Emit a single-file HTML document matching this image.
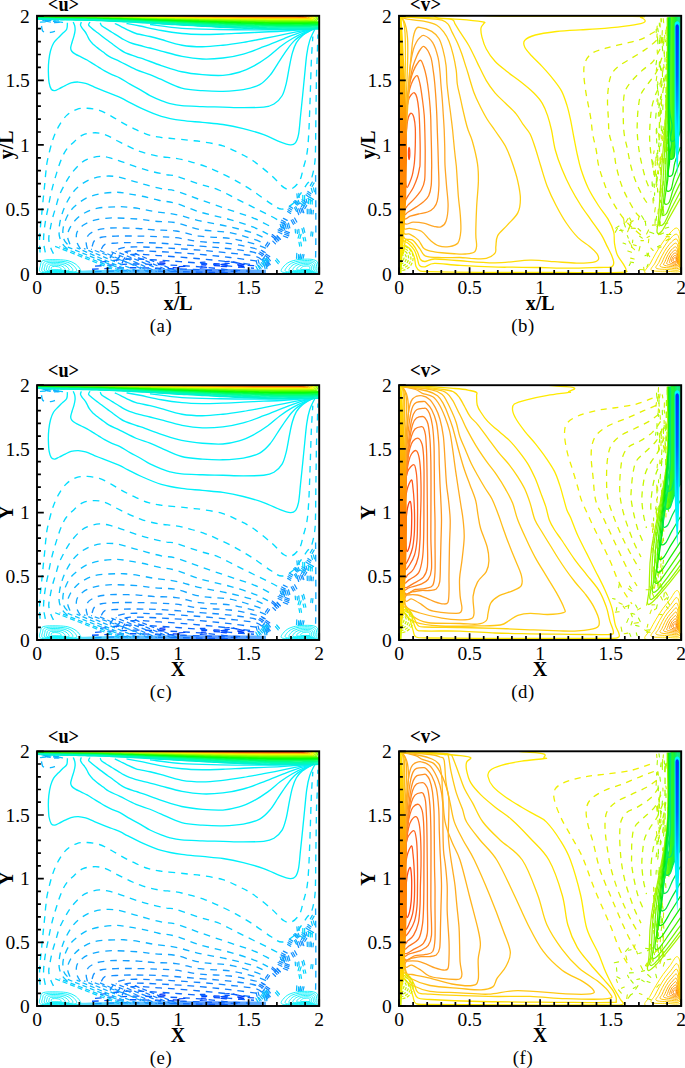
<!DOCTYPE html><html><head><meta charset="utf-8"><style>html,body{margin:0;padding:0;background:#fff;width:685px;height:1068px;overflow:hidden}svg{display:block}.tk{font-family:"Liberation Serif",serif;font-size:19.5px}.al{font-family:"Liberation Serif",serif;font-size:20px;font-weight:bold}.ti{font-family:"Liberation Serif",serif;font-size:20px;font-weight:bold}.cp{font-family:"Liberation Serif",serif;font-size:18.8px;letter-spacing:0.6px}</style></head><body>
<svg width="685" height="1068" viewBox="0 0 685 1068">
<rect width="685" height="1068" fill="#fff"/>
<defs><clipPath id="c0"><rect x="37" y="15.8" width="282.2" height="258.2"/></clipPath><clipPath id="c1"><rect x="399" y="15.8" width="282.2" height="258.2"/></clipPath><clipPath id="c2"><rect x="37" y="385.2" width="282.2" height="254.8"/></clipPath><clipPath id="c3"><rect x="399" y="385.2" width="282.2" height="254.8"/></clipPath><clipPath id="c4"><rect x="37" y="751.3" width="282.2" height="254.7"/></clipPath><clipPath id="c5"><rect x="399" y="751.3" width="282.2" height="254.7"/></clipPath><g id="U"><g fill="none" stroke-width="1.35" stroke-dasharray="6.7 5.9"><path d="M40.1 252.3C40 250.6 39.5 245.5 39.5 241.8C39.5 238.1 39.8 234 40.1 230.1C40.4 226.2 40.9 222.3 41.3 218.4C41.7 214.5 42 210.6 42.4 206.7C42.8 202.8 43.2 198.9 43.6 195C44 191.1 44.4 187.3 44.8 183.4C45.2 179.5 45.4 175.6 45.9 171.7C46.4 167.8 46.4 165.1 47.5 160C48.6 154.9 50.6 146.5 52.4 140.9C54.2 135.3 56.1 130.9 58.5 126.6C60.9 122.3 63.6 118.2 66.7 115.3C69.8 112.4 73.5 110.4 76.9 109.2C80.3 108 83.3 108 87.1 108.2C90.8 108.4 95.3 108.9 99.4 110.2C103.5 111.5 107.5 114.1 111.6 116.3C115.7 118.5 119.8 121.3 123.9 123.5C128 125.7 132 127.7 136.1 129.6C140.2 131.5 144.3 133.4 148.4 134.7C152.5 136 156.1 136.5 160.7 137.2C165.3 137.9 171.1 138.3 176 138.8C180.9 139.3 185.6 139.8 190 140.3C194.4 140.8 196.9 140.8 202.4 141.7C207.9 142.6 216.8 143.9 222.9 145.8C229 147.7 234.1 150.5 239.2 153C244.3 155.5 248.1 157.2 253.4 160.9C258.7 164.6 266.1 170.8 271.2 175.2C276.3 179.6 280.5 185.3 284 187.5C287.5 189.7 289.4 189.7 292 188.5C294.6 187.3 297.8 183.9 299.7 180.5C301.6 177.1 302.1 172.5 303.3 168.1C304.5 163.7 306 159.2 306.9 153.8C307.8 148.5 308.2 142.3 308.6 136C309 129.7 309.2 123.7 309.5 116C309.8 108.3 310.1 99.3 310.4 90C310.7 80.7 311 68.9 311.4 60C311.8 51.1 312.6 40.4 312.8 36.5" stroke="#02ddff"/><path d="M45.3 252.3C45 250.6 43.8 245.5 43.6 241.8C43.4 238.1 43.8 234 44.2 230.1C44.6 226.2 45.2 222.3 45.9 218.4C46.6 214.5 47.5 210.6 48.3 206.7C49.1 202.8 49.7 198.9 50.6 195C51.5 191.1 52.4 187.3 53.5 183.4C54.6 179.5 55.8 175.6 57 171.7C58.2 167.8 59.5 163.6 61 160C62.5 156.4 64 152.8 66 150C68 147.2 70 145.5 72.8 142.9C75.6 140.3 79.2 136.4 83 134.7C86.8 133 91.5 132.7 95.3 132.7C99 132.7 101.8 133.3 105.5 134.7C109.2 136.1 113.6 138.8 117.7 140.9C121.8 143 125.9 145.1 130 147C134.1 148.9 137.5 150.6 142.3 152.1C147.1 153.6 153 155.2 158.6 156.2C164.2 157.2 170.8 157.3 176 158.2C181.2 159.1 185.1 160.2 190 161.5C194.9 162.8 200.7 164.6 205.3 166.3C209.9 168 212.8 169.2 217.8 171.6C222.9 174 229.7 177.2 235.6 180.5C241.5 183.8 247.5 187.3 253.4 191.2C259.3 195.1 266.4 200.7 271.2 203.7C275.9 206.7 278.3 209 281.9 209C285.5 209 289.6 206.1 292.6 203.7C295.6 201.3 297.3 198.1 299.7 194.8C302.1 191.5 305 186.8 306.9 184.1C308.8 181.4 310 181.9 311.3 178.7C312.6 175.5 313.8 169.8 314.5 165C315.2 160.2 315.3 158.2 315.5 150C315.7 141.8 315.7 128.5 315.9 116C316.1 103.5 316.3 85.2 316.5 75C316.7 64.8 317.1 61.8 317.3 55C317.5 48.2 317.8 37.8 317.9 34.4" stroke="#04d7ff"/><path d="M53.5 253.4C53.1 252.6 52 251.1 51.2 248.8C50.4 246.5 49 242.5 48.8 239.4C48.6 236.3 49.4 233.6 50 230.1C50.6 226.6 51.4 222.3 52.4 218.4C53.4 214.5 54.7 210.6 55.9 206.7C57.1 202.8 57.8 198.9 59.4 195C61 191.1 63.3 186.9 65.2 183.4C67.1 179.9 68.7 177.1 71 174C73.3 170.9 76.5 167.1 79.2 164.7C81.9 162.2 83.7 160.7 87.1 159.3C90.5 157.9 95.3 156.4 99.4 156.2C103.5 156 107.5 157.2 111.6 158.2C115.7 159.2 119.5 160.8 123.9 162.3C128.3 163.8 133.4 165.9 138.2 167.4C143 168.9 147.7 170.3 152.5 171.5C157.3 172.7 162.9 173.8 166.8 174.6C170.7 175.3 170.5 174.4 176 176C181.5 177.6 193 181.9 200 184.1C207 186.3 211.9 187 217.8 189.4C223.7 191.8 229.7 195.3 235.6 198.3C241.5 201.3 247.5 204.2 253.4 207.2C259.3 210.2 266.8 213.8 271.2 216.1C275.6 218.4 278.5 220.2 280 221" stroke="#06cfff"/><path d="M67.5 248.8C66.7 248 64.2 246.2 62.9 244.1C61.5 241.9 60 239 59.4 235.9C58.8 232.8 59 228.9 59.4 225.4C59.8 221.9 60.7 218.2 61.7 214.9C62.7 211.6 63.7 208.8 65.2 205.5C66.8 202.2 68.9 198.1 71 195C73.1 191.9 75.1 189.4 78 186.9C80.9 184.4 84.7 181.7 88.6 179.9C92.5 178.2 96.8 177 101.4 176.4C106 175.8 110.9 175.7 116 176.4C121.1 177.1 127 179.3 132.1 180.7C137.2 182.1 141.3 183.4 146.4 184.8C151.5 186.2 157.8 187.9 162.7 188.9C167.6 189.9 169.8 189.1 176 190.9C182.2 192.7 191 196.3 200 199.5C209 202.7 221.1 206.8 230 209.9C238.9 213 246.7 215.2 253.4 217.9C260.1 220.6 267.2 224.7 270 226" stroke="#08c6ff"/><path d="M67.5 244.1C66.9 243.3 64.8 241.7 64 239.4C63.2 237.1 62.7 233.2 62.9 230.1C63.1 227 64 223.8 65.2 220.7C66.4 217.6 68 214.1 69.9 211.4C71.9 208.7 74.2 206.6 76.9 204.4C79.6 202.2 82.5 199.8 86.2 198C89.9 196.2 94.1 194.9 99.1 193.9C104.1 192.9 111.2 192.2 116 192.1C120.8 192 123.6 192.9 128 193.6C132.4 194.3 137.2 195 142.3 196.1C147.4 197.2 153 198.9 158.6 200.1C164.2 201.3 169.1 201.2 176 203.2C182.9 205.2 191 209.2 200 211.9C209 214.6 221.1 216.9 230 219.4C238.9 221.9 247.1 224.6 253.4 227C259.7 229.4 265.6 232.8 268 234" stroke="#0abeff"/><path d="M69.9 244.1C69.5 242.7 67.5 238.6 67.5 235.9C67.5 233.2 68.5 230.4 69.9 227.7C71.3 225 73.2 222.1 75.7 219.6C78.2 217.1 81.3 214.5 85 212.6C88.7 210.7 92.7 208.9 97.9 207.9C103.1 206.9 111.7 206.9 116 206.7C120.3 206.5 120.2 206.4 123.9 206.7C127.6 207 133.1 207.5 138.2 208.3C143.3 209.1 148.2 210.4 154.5 211.4C160.8 212.4 168.4 212.9 176 214.4C183.6 215.9 191 218.6 200 220.7C209 222.8 221.1 224.6 230 226.7C238.9 228.8 247.2 230.9 253.4 233C259.6 235.1 264.7 238.2 267 239.3" stroke="#0db3ff"/><path d="M80.4 248.8C79.8 247.6 77.5 244.5 76.9 241.8C76.3 239.1 75.9 235.1 76.9 232.4C77.9 229.7 80.2 227.4 82.7 225.4C85.2 223.4 88.6 221.9 92.1 220.7C95.6 219.5 99.7 218.9 103.7 218.4C107.7 217.9 110.2 217.7 116 217.8C121.8 217.9 131.8 218.4 138.2 218.9C144.6 219.4 148.2 220.4 154.5 221C160.8 221.6 168.4 221.2 176 222.6C183.6 224 191 227.8 200 229.4C209 231.1 221.1 230.9 230 232.5C238.9 234.1 247.4 237.1 253.4 239C259.4 240.9 263.9 243.2 266 244" stroke="#10a7ff"/><path d="M87.4 248.8C87.2 247.6 86 244.2 86.2 241.8C86.4 239.5 86.8 236.6 88.6 234.7C90.3 232.8 93.8 231.2 96.7 230.1C99.6 229 102.9 228.7 106.1 228.3C109.3 227.9 110.7 227.7 116 227.7C121.3 227.7 131.8 228 138.2 228.3C144.6 228.7 148.2 229.4 154.5 229.8C160.8 230.2 168.4 229.8 176 230.8C183.6 231.8 191 234.8 200 236C209 237.2 221.1 237.1 230 238.3C238.9 239.6 247.4 241.9 253.4 243.5C259.4 245.1 263.9 247.2 266 248" stroke="#139cff"/><path d="M92.1 246.4C92.5 245.4 92.9 242.2 94.4 240.6C96 239 97.8 237.9 101.4 237.1C105 236.3 109.9 236.1 116 235.9C122.1 235.7 131.1 235.8 138.2 235.9C145.3 236 152.3 236.2 158.6 236.5C164.9 236.8 169.1 236.7 176 237.5C182.9 238.3 191 240.5 200 241.5C209 242.5 221.1 242.3 230 243.4C238.9 244.5 247.7 246.6 253.4 248C259.1 249.4 262.2 251.3 264 252" stroke="#1393ff"/><path d="M101.4 248.8C102 248 102.5 245.1 104.9 244.1C107.3 243.1 111.8 243.2 116 242.9C120.2 242.6 122.7 242.4 130 242.4C137.3 242.4 148.3 242.4 160 243C171.7 243.6 188.3 245.1 200 246C211.7 246.9 221.2 247.6 230 248.6C238.8 249.6 247.7 250.8 253 252C258.3 253.2 260.5 255.3 262 256" stroke="#128cff"/><path d="M110 258C111 256.7 112.7 251.9 116 250C119.3 248.1 122.7 247.2 130 246.8C137.3 246.4 148.3 247 160 247.5C171.7 248 188.3 249.1 200 250C211.7 250.9 220.8 251.9 230 252.9C239.2 253.9 249.7 254.8 255 256C260.3 257.2 260.8 259.3 262 260" stroke="#1085ff"/><path d="M116 261C117 259.8 119.7 255.7 122 254C124.3 252.3 123.7 251.1 130 250.7C136.3 250.3 148.3 250.9 160 251.5C171.7 252.1 188.3 253.2 200 254.2C211.7 255.2 220.3 256.2 230 257.3C239.7 258.4 253.3 260.4 258 261" stroke="#0e7dff"/><path d="M122 263C123.3 261.6 123.7 255.7 130 254.4C136.3 253.2 148.3 254.8 160 255.5C171.7 256.2 188.3 257.6 200 258.6C211.7 259.6 220.7 260.6 230 261.7C239.3 262.8 251.7 264.4 256 265" stroke="#0b73ff"/><path d="M100 262C105 261.5 120 259.1 130 258.8C140 258.5 148.3 259.3 160 260C171.7 260.7 188.3 262 200 263C211.7 264 221 265.2 230 266C239 266.8 250 267.7 254 268" stroke="#0969ff"/><path d="M95 266C100.8 265.6 119.2 264.1 130 263.9C140.8 263.6 148.3 264.1 160 264.5C171.7 264.9 188.3 265.7 200 266.6C211.7 267.5 221.7 269 230 269.7C238.3 270.4 246.7 270.8 250 271" stroke="#065fff"/><path d="M92 269C98.3 268.8 117 267.6 130 267.5C143 267.4 156.7 268.1 170 268.5C183.3 268.9 198.3 269.5 210 270C221.7 270.5 235 271.2 240 271.5" stroke="#0455ff"/><path d="M95 271.5C100.8 271.3 115.8 270.5 130 270.5C144.2 270.5 163.3 271.2 180 271.5C196.7 271.8 221.7 272.3 230 272.5" stroke="#014bff"/><path d="M315.6 175C315.6 180.8 315.8 199.2 315.8 210C315.8 220.8 315.9 231.3 315.8 240C315.8 248.7 315.6 258.3 315.5 262" stroke="#0eadff"/><path d="M41.5 26C41.7 26.8 41.8 29.7 42.6 30.8C43.4 31.9 44.9 32.1 46.2 32.4C47.5 32.7 49.1 32.6 50.6 32.4C52.1 32.2 54.3 31.5 55 31.3" stroke="#0bb8ff"/></g><g stroke-width="1.25" fill="none" stroke-linecap="round"><path d="M262.4 259.5l2.3 -3" stroke="#128dff"/><path d="M264.2 261.2l2.3 -3" stroke="#128dff"/><path d="M261.4 250.1l3.8 2.3" stroke="#0e7fff"/><path d="M259.8 251.9l3.8 2.3" stroke="#0e7fff"/><path d="M258.9 253.3l3.8 2.3" stroke="#0e7fff"/><path d="M265.5 245.6l2.4 -3.6" stroke="#118aff"/><path d="M267.1 246.7l2.4 -3.6" stroke="#118aff"/><path d="M266.2 254l3.5 2.4" stroke="#0f82ff"/><path d="M265.2 255.3l3.5 2.4" stroke="#0f82ff"/><path d="M272.3 234.4l3.8 3.1" stroke="#0e7eff"/><path d="M271.8 236l3.8 3.1" stroke="#0e7eff"/><path d="M277.1 235.6l3.4 3.6" stroke="#1088ff"/><path d="M275.3 236.9l3.4 3.6" stroke="#1088ff"/><path d="M277.2 236.3l2.7 2.7" stroke="#1188ff"/><path d="M275.8 237.6l2.7 2.7" stroke="#1188ff"/><path d="M274.3 239l2.7 2.7" stroke="#1188ff"/><path d="M272.8 241l2.7 2.7" stroke="#1188ff"/><path d="M285.2 230.8l4.2 1.6" stroke="#128eff"/><path d="M284.7 232.3l4.2 1.6" stroke="#128eff"/><path d="M284.6 234.1l4.2 1.6" stroke="#128eff"/><path d="M283.4 235.8l4.2 1.6" stroke="#128eff"/><path d="M280.6 226.5l3.7 1.8" stroke="#1393ff"/><path d="M279.4 228.4l3.7 1.8" stroke="#1393ff"/><path d="M278.1 229.7l3.7 1.8" stroke="#1393ff"/><path d="M278.1 231.8l3.7 1.8" stroke="#1393ff"/><path d="M283.8 222.1l1.8 4" stroke="#10a6ff"/><path d="M281.9 223.8l1.8 4" stroke="#10a6ff"/><path d="M280.2 224.3l1.8 4" stroke="#10a6ff"/><path d="M288.5 222.9l1.3 4.8" stroke="#129dff"/><path d="M286.9 223.6l1.3 4.8" stroke="#129dff"/><path d="M284.9 223.6l1.3 4.8" stroke="#129dff"/><path d="M283.3 224.8l1.3 4.8" stroke="#129dff"/><path d="M283.4 218.2l3.8 2" stroke="#1392ff"/><path d="M281.7 220.1l3.8 2" stroke="#1392ff"/><path d="M281 222l3.8 2" stroke="#1392ff"/><path d="M294.6 217.9l2.2 4" stroke="#1392ff"/><path d="M292.8 219.4l2.2 4" stroke="#1392ff"/><path d="M291.2 220.1l2.2 4" stroke="#1392ff"/><path d="M302.3 208.3l1.5 4.3" stroke="#1392ff"/><path d="M300.6 207.9l1.5 4.3" stroke="#1392ff"/><path d="M298.8 208.6l1.5 4.3" stroke="#1392ff"/><path d="M297.2 210.2l1.5 4.3" stroke="#1392ff"/><path d="M289.7 206.2l3 1.9" stroke="#11a2ff"/><path d="M288.8 207.9l3 1.9" stroke="#11a2ff"/><path d="M288 209.6l3 1.9" stroke="#11a2ff"/><path d="M287.6 211.4l3 1.9" stroke="#11a2ff"/><path d="M295.8 206.6l1.8 3.5" stroke="#0eafff"/><path d="M294.6 207.6l1.8 3.5" stroke="#0eafff"/><path d="M301.4 206.5l1.9 -3.2" stroke="#139aff"/><path d="M303.1 207.7l1.9 -3.2" stroke="#139aff"/><path d="M304.8 208.5l1.9 -3.2" stroke="#139aff"/><path d="M295.2 200.6l3.5 3.3" stroke="#0fa9ff"/><path d="M293.8 201.6l3.5 3.3" stroke="#0fa9ff"/><path d="M302 199.6l3.9 2.7" stroke="#0abfff"/><path d="M301.7 201.4l3.9 2.7" stroke="#0abfff"/><path d="M300.1 202.8l3.9 2.7" stroke="#0abfff"/><path d="M306.1 199.1l1.1 3.7" stroke="#11a1ff"/><path d="M304.2 199.3l1.1 3.7" stroke="#11a1ff"/><path d="M307.9 191.3l3.1 2.3" stroke="#0fa9ff"/><path d="M307.2 193.1l3.1 2.3" stroke="#0fa9ff"/><path d="M306 194.7l3.1 2.3" stroke="#0fa9ff"/><path d="M309.6 197l3.9 2.4" stroke="#0db3ff"/><path d="M307.9 198.4l3.9 2.4" stroke="#0db3ff"/><path d="M313.4 187.7l1.1 3.9" stroke="#07c9ff"/><path d="M311.3 188.3l1.1 3.9" stroke="#07c9ff"/><path d="M310.3 185.5l2 -3.5" stroke="#08c5ff"/><path d="M312.1 186.3l2 -3.5" stroke="#08c5ff"/><path d="M305 237.3l0.8 3.3" stroke="#04d6ff"/><path d="M303.1 237.5l0.8 3.3" stroke="#04d6ff"/><path d="M304 254.3l-0.9 3.9" stroke="#0eafff"/><path d="M302.3 254.5l-0.9 3.9" stroke="#0eafff"/><path d="M300.5 254l-0.9 3.9" stroke="#0eafff"/><path d="M304.6 195.4l-0 3.9" stroke="#03dbff"/><path d="M302.8 195.3l-0 3.9" stroke="#03dbff"/><path d="M312.9 232l-0.4 3.9" stroke="#08c6ff"/><path d="M311.2 231.8l-0.4 3.9" stroke="#08c6ff"/><path d="M313.4 210.2l-0.4 3.6" stroke="#0db3ff"/><path d="M311.6 210.2l-0.4 3.6" stroke="#0db3ff"/><path d="M298.8 193.3l0.4 4" stroke="#0abfff"/><path d="M296.9 193.7l0.4 4" stroke="#0abfff"/><path d="M298.8 229.1l0.3 3.5" stroke="#09c2ff"/><path d="M297.1 229.8l0.3 3.5" stroke="#09c2ff"/><path d="M295.2 229.3l0.3 3.5" stroke="#09c2ff"/><path d="M301.1 234.1l-1.2 4.2" stroke="#03daff"/><path d="M299.3 233.8l-1.2 4.2" stroke="#03daff"/><path d="M310.8 208.8l0.1 4.5" stroke="#0db2ff"/><path d="M309 209.2l0.1 4.5" stroke="#0db2ff"/><path d="M307.2 209l0.1 4.5" stroke="#0db2ff"/><path d="M303.6 227.6l1.2 4.6" stroke="#08c5ff"/><path d="M302 228.5l1.2 4.6" stroke="#08c5ff"/><path d="M300.4 254.5l-0.3 4.8" stroke="#0bbbff"/><path d="M298.6 254.5l-0.3 4.8" stroke="#0bbbff"/><path d="M296.8 253.3l-0.3 4.8" stroke="#0bbbff"/><path d="M300.8 241.9l0.7 3.8" stroke="#04d8ff"/><path d="M299 242.1l0.7 3.8" stroke="#04d8ff"/><path d="M312.3 199.1l-0.1 4.8" stroke="#03d9ff"/><path d="M310.4 199l-0.1 4.8" stroke="#03d9ff"/><path d="M308.6 198.6l-0.1 4.8" stroke="#03d9ff"/><path d="M298.3 200.3l1.1 3.1" stroke="#0cb5ff"/><path d="M296.9 201l1.1 3.1" stroke="#0cb5ff"/><path d="M294.9 200.7l1.1 3.1" stroke="#0cb5ff"/><g stroke-dasharray="5 3" stroke-linecap="butt"><path d="M53.4 245.5L119 271.5" stroke="#04d5ff" stroke-dashoffset="6.1"/><path d="M59.5 246.2L123.3 271.5" stroke="#07cbff" stroke-dashoffset="4.1"/><path d="M67.8 246.9L127.8 271.5" stroke="#09c0ff" stroke-dashoffset="0.1"/><path d="M76.6 247.6L131.6 271.5" stroke="#0cb6ff" stroke-dashoffset="1.5"/><path d="M83.9 248.3L138.6 271.5" stroke="#0facff" stroke-dashoffset="3.2"/><path d="M91.1 249L152.5 271.5" stroke="#11a1ff" stroke-dashoffset="4.1"/><path d="M98.5 249.7L148.2 271.5" stroke="#1497ff" stroke-dashoffset="6.4"/><path d="M108.6 250.4L157 271.5" stroke="#128eff" stroke-dashoffset="5"/><path d="M115.7 251.1L165.5 271.5" stroke="#1085ff" stroke-dashoffset="4"/><path d="M125.4 251.8L171.2 271.5" stroke="#0e7cff" stroke-dashoffset="2.1"/><path d="M133.2 252.5L178 271.5" stroke="#0b73ff" stroke-dashoffset="6.2"/></g><defs><linearGradient id="ubl" x1="80" y1="0" x2="268" y2="0" gradientUnits="userSpaceOnUse"><stop offset="0" stop-color="#10d8ff"/><stop offset="0.35" stop-color="#1aa0ff"/><stop offset="0.7" stop-color="#1068ff"/><stop offset="1" stop-color="#1a8cff"/></linearGradient></defs><path d="M80 273.5 L80 270.5 C120 269 200 268.3 266 269.5 L266 273.5Z" fill="url(#ubl)" opacity="0.7"/><path d="M238.5 262.9l5.7 1.5" stroke="#024eff"/><path d="M237.7 264.5l5.7 1.5" stroke="#024eff"/><path d="M200.4 262.1l4.6 -0.1" stroke="#0457ff"/><path d="M221 264.3l5.3 0.4" stroke="#0042fe"/><path d="M221.1 266.1l5.3 0.4" stroke="#0042fe"/><path d="M159.9 262l5 -0.4" stroke="#0033f8"/><path d="M160 263.8l5 -0.4" stroke="#0033f8"/><path d="M248.1 265.2l5.6 0.3" stroke="#0350ff"/><path d="M233.1 261.6l4.8 1.3" stroke="#0559ff"/><path d="M214 263.5l5.3 0.3" stroke="#0046ff"/><path d="M214.3 265.4l5.3 0.3" stroke="#0046ff"/><path d="M179 266.5l5.9 -0.3" stroke="#0046ff"/><path d="M225.1 261.5l4.1 -0.2" stroke="#0559ff"/><path d="M225.1 263.3l4.1 -0.2" stroke="#0559ff"/><path d="M200.3 268l6.3 -0.5" stroke="#024cff"/><path d="M238.3 265.1l5.1 -0.7" stroke="#0038fa"/><path d="M238.6 266.9l5.1 -0.7" stroke="#0038fa"/><path d="M222.7 264l4.9 -0.3" stroke="#024dff"/><path d="M222.2 265.8l4.9 -0.3" stroke="#024dff"/><path d="M201.8 264.2l4.7 -0.2" stroke="#0046ff"/><path d="M201.2 266l4.7 -0.2" stroke="#0046ff"/><path d="M173.2 267.5l6.2 0.3" stroke="#0032f8"/><path d="M268.3 262l2 2.4" stroke="#1391ff"/><path d="M266.8 263l2 2.4" stroke="#1391ff"/><path d="M265.3 264.1l2 2.4" stroke="#1391ff"/><path d="M265.7 264.1l1.2 4.4" stroke="#0fa9ff"/><path d="M263.9 264.1l1.2 4.4" stroke="#0fa9ff"/><path d="M276.7 258.6l2.7 3.3" stroke="#06ceff"/><path d="M275.5 260.2l2.7 3.3" stroke="#06ceff"/><path d="M268.3 258.1l2.1 2.4" stroke="#1391ff"/><path d="M266.9 259.2l2.1 2.4" stroke="#1391ff"/><path d="M265.6 260.2l2.1 2.4" stroke="#1391ff"/><path d="M261.4 262.5l2.6 3" stroke="#0abfff"/><path d="M259.9 263.6l2.6 3" stroke="#0abfff"/><path d="M258.5 265.1l2.6 3" stroke="#0abfff"/><path d="M265.5 258.9l1.6 3.5" stroke="#09c2ff"/><path d="M263.8 260.3l1.6 3.5" stroke="#09c2ff"/><path d="M262.3 260.3l1.6 3.5" stroke="#09c2ff"/><path d="M266.5 257.6l2.2 3.5" stroke="#09c1ff"/><path d="M264.7 258.4l2.2 3.5" stroke="#09c1ff"/><path d="M263.2 259.4l2.2 3.5" stroke="#09c1ff"/><path d="M258.1 259.7l0.9 3.3" stroke="#128fff"/><path d="M256.2 260.8l0.9 3.3" stroke="#128fff"/><path d="M267.2 261.5l2 3.1" stroke="#129dff"/><path d="M265.6 262.9l2 3.1" stroke="#129dff"/><path d="M257.7 265l2 3.5" stroke="#07c9ff"/><path d="M256 266.3l2 3.5" stroke="#07c9ff"/><path d="M46.2 19.1l4.1 -0" stroke="#07cbff"/><path d="M53.5 21.5l4.6 0.9" stroke="#06cdff"/><path d="M53.8 21.1l4.7 -0.2" stroke="#0eadff"/><path d="M54.5 22.6l4.7 -0.2" stroke="#0eadff"/><path d="M47.6 20.9l3.4 -0.5" stroke="#09c3ff"/><path d="M58.8 21.8l3.7 0.6" stroke="#07cbff"/><path d="M42.7 19l3.7 -0.6" stroke="#0facff"/><path d="M42.9 20.4l3.7 -0.6" stroke="#0facff"/><path d="M45.6 19.6l4.5 0.9" stroke="#0cb8ff"/><path d="M45.7 21.1l4.5 0.9" stroke="#0cb8ff"/><path d="M40.5 22.1l4.8 -0.3" stroke="#08c6ff"/><path d="M50.6 18.9l4.5 1.4" stroke="#07c9ff"/><path d="M45.1 19.3l2.4 0.6" stroke="#0db0ff"/><path d="M45.1 20.7l2.4 0.6" stroke="#0db0ff"/><path d="M60.6 19.5l3.7 0.1" stroke="#0faaff"/><path d="M41.5 19.2l4.7 -0.4" stroke="#09c1ff"/></g><g fill="none" stroke-width="0.9"><path d="M40.5 271.8C38.1 270.6 40.2 266.8 40.5 265C40.8 263.2 40.9 261.9 42 261C43.1 260.1 44.3 259.9 47 259.6C49.7 259.4 54.5 259.4 58 259.5C61.5 259.6 65.2 259.8 68 260.5C70.8 261.2 73.1 262.2 75 263.5C76.9 264.8 78.7 266.6 79.5 268C80.3 269.4 81.6 271.1 80 271.8C78.4 272.5 74.2 272.1 70 272.2C65.8 272.3 59.9 272.3 55 272.2C50.1 272.1 42.9 273 40.5 271.8Z" stroke="#00f0fa"/><path d="M42.7 271.3C40.6 270.3 42.5 267.1 42.7 265.5C42.9 264 43 262.9 44 262.1C44.9 261.4 45.9 261.2 48.2 261C50.5 260.7 54.6 260.7 57.5 260.9C60.5 261 63.6 261.1 66 261.7C68.5 262.3 70.4 263.2 72 264.3C73.6 265.3 75.1 266.9 75.8 268.1C76.5 269.3 77.6 270.7 76.2 271.3C74.9 271.9 71.3 271.6 67.8 271.7C64.2 271.7 59.2 271.7 55 271.7C50.8 271.6 44.7 272.3 42.7 271.3Z" stroke="#00f0fa"/><path d="M44.9 270.8C43.2 270 44.7 267.3 44.9 266.1C45 264.8 45.1 263.9 45.9 263.3C46.7 262.7 47.5 262.5 49.4 262.3C51.3 262.1 54.7 262.1 57.1 262.2C59.5 262.3 62.1 262.5 64.1 262.9C66.1 263.4 67.7 264.2 69 265C70.3 265.9 71.6 267.2 72.2 268.2C72.7 269.1 73.6 270.4 72.5 270.8C71.4 271.3 68.4 271.1 65.5 271.1C62.6 271.2 58.4 271.2 55 271.1C51.6 271.1 46.5 271.7 44.9 270.8Z" stroke="#00f0fa"/><path d="M47 270.4C45.7 269.7 46.9 267.6 47 266.6C47.2 265.6 47.3 264.9 47.9 264.4C48.4 263.9 49.1 263.8 50.6 263.7C52.1 263.5 54.7 263.5 56.6 263.6C58.6 263.7 60.6 263.8 62.1 264.1C63.7 264.5 64.9 265.1 66 265.8C67.1 266.5 68 267.5 68.5 268.3C68.9 269 69.6 270 68.8 270.4C67.9 270.7 65.5 270.5 63.2 270.6C61 270.6 57.7 270.6 55 270.6C52.3 270.5 48.4 271 47 270.4Z" stroke="#00f0fa"/><path d="M49.2 269.9C48.2 269.4 49.1 267.9 49.2 267.2C49.3 266.4 49.4 265.9 49.8 265.6C50.2 265.2 50.7 265.1 51.8 265C52.9 264.9 54.8 264.9 56.2 265C57.6 265 59.1 265.1 60.2 265.4C61.3 265.6 62.2 266.1 63 266.6C63.8 267.1 64.5 267.8 64.8 268.4C65.1 268.9 65.6 269.6 65 269.9C64.4 270.2 62.7 270 61 270C59.3 270.1 57 270.1 55 270C53 270 50.2 270.4 49.2 269.9Z" stroke="#00f0fa"/><path d="M51.4 269.4C50.8 269.1 51.3 268.2 51.4 267.7C51.4 267.3 51.5 266.9 51.8 266.7C52 266.5 52.3 266.4 53 266.4C53.7 266.3 54.9 266.3 55.8 266.3C56.6 266.4 57.5 266.4 58.2 266.6C59 266.7 59.5 267 60 267.3C60.5 267.6 60.9 268.1 61.1 268.5C61.3 268.8 61.6 269.2 61.2 269.4C60.9 269.6 59.8 269.5 58.8 269.5C57.7 269.5 56.2 269.5 55 269.5C53.8 269.5 52 269.7 51.4 269.4Z" stroke="#00f0fa"/><path d="M318 271.8C319.3 270.4 318.3 265.9 318 264C317.7 262.1 317.3 261.3 316 260.5C314.7 259.7 313 259.2 310 259C307 258.8 301.5 259 298 259.5C294.5 260 291.5 260.8 289 262C286.5 263.2 284.2 265.4 283 267C281.8 268.6 280 270.9 282 271.8C284 272.7 290.3 272.1 295 272.2C299.7 272.3 306.2 272.3 310 272.2C313.8 272.1 316.7 273.2 318 271.8Z" stroke="#00f0fa"/><path d="M316.4 271.3C317.5 270.1 316.6 266.2 316.4 264.6C316.1 263 315.8 262.4 314.6 261.7C313.5 260.9 312.1 260.5 309.6 260.4C307 260.2 302.3 260.4 299.4 260.8C296.4 261.2 293.8 261.9 291.7 262.9C289.6 264 287.6 265.8 286.6 267.2C285.6 268.6 284.1 270.5 285.8 271.3C287.4 272 292.8 271.5 296.8 271.6C300.8 271.7 306.3 271.7 309.6 271.6C312.8 271.5 315.2 272.4 316.4 271.3Z" stroke="#00f0fa"/><path d="M314.7 270.7C315.6 269.8 314.9 266.6 314.7 265.3C314.5 263.9 314.2 263.4 313.3 262.8C312.4 262.2 311.2 261.9 309.1 261.8C307 261.6 303.1 261.8 300.7 262.1C298.2 262.5 296.1 263 294.4 263.9C292.6 264.7 291 266.2 290.2 267.4C289.4 268.5 288.1 270.1 289.5 270.7C290.9 271.3 295.3 271 298.6 271C301.9 271 306.4 271 309.1 271C311.8 271 313.8 271.7 314.7 270.7Z" stroke="#00f0fa"/><path d="M313.1 270.2C313.8 269.4 313.2 266.9 313.1 265.9C312.9 264.9 312.7 264.4 311.9 264C311.2 263.5 310.3 263.2 308.6 263.1C307 263 304 263.1 302.1 263.4C300.1 263.7 298.5 264.1 297.1 264.8C295.7 265.5 294.4 266.6 293.8 267.5C293.2 268.4 292.1 269.7 293.2 270.2C294.4 270.7 297.8 270.4 300.4 270.4C303 270.4 306.5 270.4 308.6 270.4C310.8 270.4 312.3 270.9 313.1 270.2Z" stroke="#00f0fa"/><path d="M311.4 269.6C311.9 269.1 311.5 267.3 311.4 266.5C311.3 265.8 311.1 265.5 310.6 265.1C310.1 264.8 309.4 264.6 308.2 264.5C307 264.5 304.8 264.5 303.4 264.7C302 264.9 300.8 265.2 299.8 265.7C298.8 266.2 297.9 267.1 297.4 267.7C296.9 268.4 296.2 269.3 297 269.6C297.8 270 300.3 269.8 302.2 269.8C304.1 269.8 306.7 269.8 308.2 269.8C309.7 269.8 310.9 270.2 311.4 269.6Z" stroke="#00f0fa"/><path d="M309.8 269.1C310.1 268.8 309.8 267.6 309.8 267.1C309.7 266.7 309.6 266.5 309.2 266.3C308.9 266.1 308.5 265.9 307.8 265.9C307 265.9 305.6 265.9 304.8 266C303.9 266.1 303.1 266.3 302.5 266.6C301.9 267 301.3 267.5 301 267.9C300.7 268.3 300.2 268.9 300.8 269.1C301.2 269.3 302.8 269.2 304 269.2C305.2 269.2 306.8 269.2 307.8 269.2C308.7 269.2 309.4 269.4 309.8 269.1Z" stroke="#00f0fa"/></g><g fill="none" stroke="#00f0fa" stroke-width="1.35"><path d="M67.4 22.8C67.3 23.9 67.6 27.5 66.7 29.3C65.8 31.1 63.8 32.2 62.3 33.7C60.8 35.2 59.4 36.5 57.9 38.1C56.4 39.7 54.7 41.1 53.5 43.2C52.3 45.3 51.4 47.6 50.6 50.5C49.8 53.4 49.2 57.1 48.8 60.7C48.4 64.4 48.3 68.8 48.4 72.4C48.5 76.1 48.6 79.8 49.1 82.6C49.6 85.4 50.4 87.9 51.3 89.2C52.2 90.5 53.4 90.7 54.7 90.6C56.1 90.5 57.6 89.3 59.4 88.5C61.1 87.7 63.3 86.4 65.2 85.5C67.1 84.6 68.8 83.5 71 82.9C73.2 82.3 75.9 81.9 78.3 82C80.7 82.1 82.9 82.5 85.6 83.3C88.3 84.1 91.5 85.8 94.4 87C97.3 88.2 100.1 89.3 103 90.5C105.9 91.7 109 92.8 111.9 94C114.8 95.2 117.8 96.2 120.5 97.5C123.2 98.8 124.6 99.8 128 101.5C131.4 103.2 135.3 105.5 140.9 108C146.5 110.5 154.5 114.2 161.3 116.2C168.1 118.2 174.8 119.3 181.7 120.3C188.5 121.3 195.5 121.6 202.4 122.3C209.3 123 216.1 123.4 222.9 124.4C229.7 125.4 236.5 126.8 243.3 128.5C250.1 130.2 257.6 132.4 263.7 134.6C269.8 136.8 275.7 140 280.1 141.7C284.5 143.4 287.8 144.6 290.3 144.8C292.9 145 294 144.5 295.4 142.8C296.8 141.1 297.6 139 298.5 134.6C299.4 130.2 299.8 122.7 300.5 116.2C301.2 109.7 301.9 102.5 302.6 95.7C303.3 88.9 303.9 82.1 304.6 75.3C305.3 68.5 305.9 60.7 306.7 54.9C307.5 49.1 308.3 44.9 309.7 40.6C311.1 36.3 313.9 31.2 314.8 29.3"/><path d="M73.2 22C73.5 22.6 74.4 24.3 74.7 25.7C75 27.1 75.2 28.4 75.1 30.1C75 31.8 74.5 34 74 35.9C73.5 37.8 72.8 39.8 72.2 41.7C71.7 43.7 70.8 46 70.7 47.6C70.6 49.2 71 50.1 71.8 51.2C72.6 52.3 73.8 53.1 75.4 54.1C77 55.1 79.3 56.1 81.3 57.1C83.2 58.1 85.2 58.9 87.1 60C89 61.1 91 62.4 92.9 63.6C94.9 64.8 96.8 66.1 98.8 67.3C100.8 68.5 102.4 69.7 104.6 70.9C106.8 72.1 109.3 73.4 111.9 74.6C114.5 75.8 117 76.4 120 78C123 79.6 126.5 82 130 84C133.5 86 137.6 88.1 140.9 90C144.2 91.9 146.6 93.8 150 95.5C153.4 97.2 158 99.2 161.3 100.5C164.6 101.8 166.6 102.7 170 103.5C173.4 104.3 176.3 105 181.7 105.5C187.1 106 195.5 106.2 202.4 106.5C209.3 106.8 216.1 106.8 222.9 107C229.7 107.2 236.5 107.6 243.3 107.6C250.1 107.6 258.6 107.6 263.7 107C268.8 106.4 270.9 105.8 274 103.9C277.1 102 280.1 99.1 282.1 95.7C284.1 92.3 285 88.3 286.2 83.5C287.4 78.7 288.3 72.2 289.3 67.1C290.3 62 291.2 56.9 292.4 52.8C293.6 48.7 294.7 45.5 296.4 42.6C298.1 39.7 299.9 37.7 302.6 35.5C305.3 33.3 311.1 30.3 312.8 29.3"/><path d="M81.3 22C81.2 22.5 80.4 24 80.5 25C80.6 26 81.3 26.8 82 27.9C82.7 29 84.1 30.3 84.9 31.5C85.8 32.7 86.4 33.9 87.1 35.2C87.8 36.5 88.3 38 89.3 39.5C90.3 41 91.6 42.5 92.9 43.9C94.2 45.2 95.6 46.2 97.3 47.6C99 49 101.2 50.5 103.2 52C105.2 53.5 106.2 54.7 109 56.3C111.8 57.9 115.5 59.3 120 61.5C124.5 63.7 131 67.3 136 69.5C141 71.7 145.8 72.8 150 74.5C154.2 76.2 156 77.2 161.3 79.4C166.6 81.7 174.8 86.1 181.7 88C188.5 89.9 195.5 90 202.4 90.6C209.3 91.1 216.1 91.5 222.9 91.3C229.7 91.1 237.2 90.7 243.3 89.6C249.4 88.5 255.3 86.9 259.7 84.5C264.1 82.1 266.8 78.9 269.9 75.3C273 71.7 275.4 67.1 278.1 63C280.8 58.9 283.5 54.5 286.2 50.8C288.9 47.1 291.3 43.5 294.4 40.6C297.5 37.7 301.5 35.3 304.6 33.4C307.7 31.5 311.4 30 312.8 29.3"/><path d="M90 22C89.8 22.5 88.3 24 88.6 25C88.8 26 90.3 26.8 91.5 27.9C92.7 29 94.2 30.2 95.9 31.5C97.6 32.8 99.8 34.4 101.7 35.9C103.6 37.4 105.5 38.8 107.5 40.3C109.5 41.8 111.5 43.2 113.4 44.7C115.4 46.2 117.3 47.7 119.2 49C121.1 50.3 122.2 51.2 125 52.5C127.8 53.8 132.7 55.3 136 56.5C139.3 57.7 140.8 58 145 59.5C149.2 61 155.2 63.5 161.3 65.5C167.4 67.5 174.8 70.2 181.7 71.7C188.5 73.2 195.5 74 202.4 74.6C209.3 75.2 216.8 75.7 222.9 75.3C229 74.9 234.1 73.7 239.2 72.2C244.3 70.7 248.7 68.6 253.5 66.1C258.3 63.5 263.4 60.1 267.8 56.9C272.2 53.7 276 49.8 280.1 46.7C284.2 43.6 288.3 40.9 292.4 38.5C296.5 36.1 301 34 304.6 32.4C308.2 30.8 312.3 29.3 313.8 28.7"/><path d="M100.2 22.8C100.5 23.3 100.7 24.7 101.7 25.7C102.7 26.7 104.4 27.5 106.1 28.6C107.8 29.7 110 31 111.9 32.2C113.9 33.4 115.8 34.7 117.8 35.9C119.8 37.1 121.7 38.4 123.6 39.5C125.5 40.6 127.3 41.5 129.4 42.3C131.5 43.1 132.6 43.5 136 44.5C139.4 45.5 145.8 46.9 150 48C154.2 49.1 156 49.6 161.3 51C166.6 52.4 175.2 55.1 182 56.4C188.8 57.7 195.6 58.7 202.4 59C209.2 59.3 216.1 58.8 222.9 58C229.7 57.2 236.5 55.9 243.3 54C250.1 52.1 256.9 49.3 263.7 46.7C270.5 44.1 278.1 40.9 284.2 38.5C290.3 36.1 295.6 34 300.5 32.4C305.4 30.8 311.6 29.3 313.8 28.7"/><path d="M114.8 23.5C115.8 24 118.8 25.4 120.7 26.4C122.7 27.4 124 28.1 126.5 29.3C129.1 30.5 132.1 32.3 136 33.5C139.9 34.7 145.8 35.5 150 36.5C154.2 37.5 156 38 161.3 39.5C166.6 41 175.2 44 182 45.2C188.8 46.4 195.6 46.7 202.4 46.7C209.2 46.7 216.1 45.9 222.9 45.2C229.7 44.5 236.5 43.4 243.3 42.3C250.1 41.2 256.9 39.8 263.7 38.5C270.5 37.2 277.4 35.8 284.2 34.4C291 33 299.7 31.3 304.6 30.4C309.5 29.4 312.3 29 313.8 28.7"/><path d="M126.5 23.5C128.8 23.9 134.2 24.8 140 26C145.8 27.2 154.3 29.2 161.3 30.5C168.3 31.8 175.2 32.8 182 33.5C188.8 34.2 195.6 34.4 202.4 34.5C209.2 34.6 216.1 34.2 222.9 34C229.7 33.8 236.5 33.3 243.3 33C250.1 32.7 256.9 32.3 263.7 32C270.5 31.7 275.8 31.6 284.2 31C292.6 30.4 308.9 29.1 313.8 28.7"/><path d="M150 24.5C155.3 25.1 170.3 27.5 182 28.3C193.7 29.1 207 29.2 220 29.5C233 29.8 248.3 29.8 260 29.8C271.7 29.8 281 29.7 290 29.5C299 29.3 310 28.8 314 28.7"/></g><path d="M37 16C38 16 41 16 43 16C45 16 47 16 49 16C51 16 53 16 55 16C57 16 59 16 61 16C63 16 65 16 67 16C69 16 71 16 73 16C75 16 77 16 79 16C81 16 83 16 85 16C87 16 89 16 91 16C93 16 95 16 97 16C99 16 101 16 103 16C105 16 107 16 109 16C111 16 113 16 115 16C117 16 119 16 121 16C123 16 125 16 127 16C129 16 131 16 133 16C135 16 137 16 139 16C141 16 143 16 145 16C147 16 149 16 151 16C153 16 155 16 157 16C159 16 161 16 163 16C165 16 167 16 169 16C171 16 173 16 175 16C177 16 179 16 181 16C183 16 185 16 187 16C189 16 191 16 193 16C195 16 197 16 199 16C201 16 203 16 205 16C207 16 209 16 211 16C213 16 215 16 217 16C219 16 221 16 223 16C225 16 227 16 229 16C231 16 233 16 235 16C237 16 239 16 241 16C243 16 245 16 247 16C249 16 251 16 253 16C255 16 257 16 259 16C261 16 263 16 265 16C267 16 269 16 271 16C273 16 275 16 277 16C279 16 281 16 283 16C285 16 286.7 16 289 16C291.3 16 295.2 16.1 297 16C298.8 15.9 299.1 15.6 299.5 15.5" stroke="#960000" stroke-width="1.3" fill="none"/><path d="M37 16.1C38 16.1 41 16.1 43 16.1C45 16.1 47 16.1 49 16.1C51 16.1 53 16.1 55 16.1C57 16.1 59 16.1 61 16.1C63 16.1 65 16.1 67 16.1C69 16.1 71 16.1 73 16.1C75 16.1 77 16.1 79 16.1C81 16.1 83 16.1 85 16.1C87 16.1 89 16.2 91 16.2C93 16.2 95 16.2 97 16.2C99 16.2 101 16.2 103 16.2C105 16.2 107 16.2 109 16.2C111 16.2 113 16.2 115 16.2C117 16.2 119 16.2 121 16.2C123 16.2 125 16.2 127 16.2C129 16.2 131 16.2 133 16.2C135 16.2 137 16.2 139 16.2C141 16.2 143 16.2 145 16.2C147 16.2 149 16.2 151 16.3C153 16.3 155 16.3 157 16.3C159 16.3 161 16.3 163 16.3C165 16.3 167 16.3 169 16.3C171 16.3 173 16.3 175 16.3C177 16.3 179 16.3 181 16.3C183 16.3 185 16.3 187 16.3C189 16.3 191 16.3 193 16.3C195 16.3 197 16.3 199 16.4C201 16.4 203 16.4 205 16.4C207 16.4 209 16.4 211 16.4C213 16.4 215 16.4 217 16.4C219 16.4 221 16.4 223 16.4C225 16.4 227 16.4 229 16.4C231 16.4 233 16.4 235 16.4C237 16.4 239 16.4 241 16.4C243 16.4 245 16.4 247 16.4C249 16.4 251 16.4 253 16.4C255 16.4 257 16.4 259 16.5C261 16.5 263 16.5 265 16.5C267 16.5 269 16.5 271 16.5C273 16.5 275 16.5 277 16.5C279 16.5 281 16.5 283 16.5C285 16.5 286.5 16.5 289 16.5C291.5 16.5 296.3 16.6 298.3 16.5C300.2 16.3 300.4 15.7 300.8 15.5" stroke="#c40000" stroke-width="1.3" fill="none"/><path d="M37 16.2C38 16.2 41 16.2 43 16.2C45 16.2 47 16.2 49 16.2C51 16.2 53 16.2 55 16.2C57 16.2 59 16.2 61 16.2C63 16.2 65 16.2 67 16.2C69 16.2 71 16.2 73 16.3C75 16.3 77 16.3 79 16.3C81 16.3 83 16.3 85 16.3C87 16.3 89 16.3 91 16.3C93 16.3 95 16.3 97 16.3C99 16.3 101 16.3 103 16.3C105 16.3 107 16.3 109 16.3C111 16.3 113 16.3 115 16.3C117 16.3 119 16.4 121 16.4C123 16.4 125 16.4 127 16.4C129 16.4 131 16.4 133 16.4C135 16.4 137 16.4 139 16.4C141 16.4 143 16.4 145 16.4C147 16.4 149 16.5 151 16.5C153 16.5 155 16.5 157 16.5C159 16.5 161 16.5 163 16.5C165 16.5 167 16.5 169 16.5C171 16.5 173 16.5 175 16.6C177 16.6 179 16.6 181 16.6C183 16.6 185 16.6 187 16.6C189 16.6 191 16.6 193 16.6C195 16.6 197 16.6 199 16.6C201 16.7 203 16.7 205 16.7C207 16.7 209 16.7 211 16.7C213 16.7 215 16.7 217 16.7C219 16.7 221 16.7 223 16.7C225 16.7 227 16.7 229 16.8C231 16.8 233 16.8 235 16.8C237 16.8 239 16.8 241 16.8C243 16.8 245 16.8 247 16.8C249 16.8 251 16.8 253 16.8C255 16.8 257 16.8 259 16.8C261 16.8 263 16.8 265 16.8C267 16.8 269 16.8 271 16.9C273 16.9 275 16.9 277 16.9C279 16.9 281 16.9 283 16.9C285 16.9 287 16.9 289 16.9C291 16.9 293.2 16.9 295 16.9C296.8 16.9 298.4 17.1 299.5 16.9C300.7 16.6 301.6 15.7 302 15.5" stroke="#f20000" stroke-width="1.3" fill="none"/><path d="M37 16.3C38 16.3 41 16.3 43 16.3C45 16.3 47 16.3 49 16.3C51 16.3 53 16.3 55 16.3C57 16.3 59 16.3 61 16.3C63 16.3 65 16.3 67 16.3C69 16.3 71 16.3 73 16.3C75 16.4 77 16.4 79 16.4C81 16.4 83 16.4 85 16.4C87 16.4 89 16.4 91 16.4C93 16.4 95 16.4 97 16.4C99 16.4 101 16.4 103 16.4C105 16.4 107 16.4 109 16.4C111 16.5 113 16.5 115 16.5C117 16.5 119 16.5 121 16.5C123 16.5 125 16.5 127 16.5C129 16.5 131 16.5 133 16.5C135 16.6 137 16.6 139 16.6C141 16.6 143 16.6 145 16.6C147 16.6 149 16.6 151 16.6C153 16.6 155 16.7 157 16.7C159 16.7 161 16.7 163 16.7C165 16.7 167 16.7 169 16.7C171 16.7 173 16.8 175 16.8C177 16.8 179 16.8 181 16.8C183 16.8 185 16.8 187 16.8C189 16.8 191 16.9 193 16.9C195 16.9 197 16.9 199 16.9C201 16.9 203 16.9 205 16.9C207 16.9 209 16.9 211 17C213 17 215 17 217 17C219 17 221 17 223 17C225 17 227 17 229 17C231 17 233 17.1 235 17.1C237 17.1 239 17.1 241 17.1C243 17.1 245 17.1 247 17.1C249 17.1 251 17.1 253 17.1C255 17.1 257 17.1 259 17.1C261 17.1 263 17.2 265 17.2C267 17.2 269 17.2 271 17.2C273 17.2 275 17.2 277 17.2C279 17.2 281 17.2 283 17.2C285 17.2 287 17.2 289 17.2C291 17.2 293 17.2 295 17.2C297 17.2 299.4 17.5 300.8 17.2C302.2 16.9 302.9 15.8 303.3 15.5" stroke="#ff1a00" stroke-width="1.3" fill="none"/><path d="M37 16.3C38 16.3 41 16.4 43 16.4C45 16.4 47 16.4 49 16.4C51 16.4 53 16.4 55 16.4C57 16.4 59 16.4 61 16.4C63 16.4 65 16.4 67 16.4C69 16.4 71 16.4 73 16.4C75 16.4 77 16.5 79 16.5C81 16.5 83 16.5 85 16.5C87 16.5 89 16.5 91 16.5C93 16.5 95 16.5 97 16.5C99 16.5 101 16.5 103 16.5C105 16.5 107 16.6 109 16.6C111 16.6 113 16.6 115 16.6C117 16.6 119 16.6 121 16.6C123 16.6 125 16.7 127 16.7C129 16.7 131 16.7 133 16.7C135 16.7 137 16.7 139 16.7C141 16.7 143 16.8 145 16.8C147 16.8 149 16.8 151 16.8C153 16.8 155 16.8 157 16.9C159 16.9 161 16.9 163 16.9C165 16.9 167 16.9 169 16.9C171 17 173 17 175 17C177 17 179 17 181 17C183 17 185 17 187 17.1C189 17.1 191 17.1 193 17.1C195 17.1 197 17.1 199 17.1C201 17.1 203 17.2 205 17.2C207 17.2 209 17.2 211 17.2C213 17.2 215 17.2 217 17.3C219 17.3 221 17.3 223 17.3C225 17.3 227 17.3 229 17.3C231 17.3 233 17.3 235 17.4C237 17.4 239 17.4 241 17.4C243 17.4 245 17.4 247 17.4C249 17.4 251 17.4 253 17.4C255 17.4 257 17.4 259 17.5C261 17.5 263 17.5 265 17.5C267 17.5 269 17.5 271 17.5C273 17.5 275 17.5 277 17.5C279 17.5 281 17.5 283 17.5C285 17.5 287 17.5 289 17.5C291 17.5 292.8 17.5 295 17.5C297.2 17.5 300.5 17.9 302.1 17.5C303.7 17.2 304.2 15.8 304.6 15.5" stroke="#ff3f00" stroke-width="1.3" fill="none"/><path d="M37 16.4C38 16.4 41 16.4 43 16.4C45 16.4 47 16.4 49 16.4C51 16.4 53 16.5 55 16.5C57 16.5 59 16.5 61 16.5C63 16.5 65 16.5 67 16.5C69 16.5 71 16.5 73 16.5C75 16.5 77 16.5 79 16.5C81 16.6 83 16.6 85 16.6C87 16.6 89 16.6 91 16.6C93 16.6 95 16.6 97 16.6C99 16.6 101 16.6 103 16.6C105 16.6 107 16.7 109 16.7C111 16.7 113 16.7 115 16.7C117 16.7 119 16.7 121 16.7C123 16.8 125 16.8 127 16.8C129 16.8 131 16.8 133 16.8C135 16.8 137 16.8 139 16.9C141 16.9 143 16.9 145 16.9C147 16.9 149 16.9 151 17C153 17 155 17 157 17C159 17 161 17 163 17.1C165 17.1 167 17.1 169 17.1C171 17.1 173 17.1 175 17.2C177 17.2 179 17.2 181 17.2C183 17.2 185 17.2 187 17.3C189 17.3 191 17.3 193 17.3C195 17.3 197 17.3 199 17.3C201 17.4 203 17.4 205 17.4C207 17.4 209 17.4 211 17.4C213 17.4 215 17.5 217 17.5C219 17.5 221 17.5 223 17.5C225 17.5 227 17.6 229 17.6C231 17.6 233 17.6 235 17.6C237 17.6 239 17.6 241 17.6C243 17.6 245 17.6 247 17.7C249 17.7 251 17.7 253 17.7C255 17.7 257 17.7 259 17.7C261 17.7 263 17.7 265 17.7C267 17.8 269 17.8 271 17.8C273 17.8 275 17.8 277 17.8C279 17.8 281 17.8 283 17.8C285 17.8 287 17.8 289 17.8C291 17.8 292.6 17.8 295 17.8C297.4 17.8 301.6 18.2 303.4 17.8C305.2 17.4 305.4 15.9 305.9 15.5" stroke="#ff6400" stroke-width="1.3" fill="none"/><path d="M37 16.5C38 16.5 41 16.5 43 16.5C45 16.5 47 16.5 49 16.5C51 16.5 53 16.5 55 16.5C57 16.5 59 16.5 61 16.6C63 16.6 65 16.6 67 16.6C69 16.6 71 16.6 73 16.6C75 16.6 77 16.6 79 16.6C81 16.6 83 16.6 85 16.6C87 16.6 89 16.7 91 16.7C93 16.7 95 16.7 97 16.7C99 16.7 101 16.7 103 16.7C105 16.7 107 16.7 109 16.8C111 16.8 113 16.8 115 16.8C117 16.8 119 16.8 121 16.8C123 16.9 125 16.9 127 16.9C129 16.9 131 16.9 133 16.9C135 17 137 17 139 17C141 17 143 17 145 17C147 17.1 149 17.1 151 17.1C153 17.1 155 17.1 157 17.2C159 17.2 161 17.2 163 17.2C165 17.2 167 17.2 169 17.3C171 17.3 173 17.3 175 17.3C177 17.3 179 17.4 181 17.4C183 17.4 185 17.4 187 17.4C189 17.4 191 17.5 193 17.5C195 17.5 197 17.5 199 17.5C201 17.5 203 17.6 205 17.6C207 17.6 209 17.6 211 17.6C213 17.6 215 17.7 217 17.7C219 17.7 221 17.7 223 17.7C225 17.8 227 17.8 229 17.8C231 17.8 233 17.8 235 17.8C237 17.8 239 17.8 241 17.9C243 17.9 245 17.9 247 17.9C249 17.9 251 17.9 253 17.9C255 17.9 257 17.9 259 18C261 18 263 18 265 18C267 18 269 18 271 18C273 18 275 18 277 18C279 18 281 18 283 18C285 18 287 18 289 18C291 18 293 18 295 18C297 18 299.4 18.1 301 18C302.6 18 303.6 18.5 304.6 18C305.7 17.6 306.7 15.9 307.1 15.5" stroke="#ff8800" stroke-width="1.3" fill="none"/><path d="M37 16.5C38 16.5 41 16.5 43 16.5C45 16.5 47 16.6 49 16.6C51 16.6 53 16.6 55 16.6C57 16.6 59 16.6 61 16.6C63 16.6 65 16.6 67 16.6C69 16.7 71 16.7 73 16.7C75 16.7 77 16.7 79 16.7C81 16.7 83 16.7 85 16.7C87 16.7 89 16.7 91 16.7C93 16.8 95 16.8 97 16.8C99 16.8 101 16.8 103 16.8C105 16.8 107 16.8 109 16.9C111 16.9 113 16.9 115 16.9C117 16.9 119 16.9 121 17C123 17 125 17 127 17C129 17 131 17 133 17.1C135 17.1 137 17.1 139 17.1C141 17.1 143 17.1 145 17.2C147 17.2 149 17.2 151 17.2C153 17.3 155 17.3 157 17.3C159 17.3 161 17.3 163 17.4C165 17.4 167 17.4 169 17.4C171 17.4 173 17.5 175 17.5C177 17.5 179 17.5 181 17.5C183 17.6 185 17.6 187 17.6C189 17.6 191 17.6 193 17.7C195 17.7 197 17.7 199 17.7C201 17.7 203 17.8 205 17.8C207 17.8 209 17.8 211 17.8C213 17.9 215 17.9 217 17.9C219 17.9 221 17.9 223 17.9C225 18 227 18 229 18C231 18 233 18 235 18C237 18.1 239 18.1 241 18.1C243 18.1 245 18.1 247 18.1C249 18.1 251 18.1 253 18.2C255 18.2 257 18.2 259 18.2C261 18.2 263 18.2 265 18.2C267 18.2 269 18.3 271 18.3C273 18.3 275 18.3 277 18.3C279 18.3 281 18.3 283 18.3C285 18.3 287 18.3 289 18.3C291 18.3 293 18.3 295 18.3C297 18.3 299.2 18.3 301 18.3C302.8 18.3 304.7 18.7 305.9 18.3C307.1 17.8 308 16 308.4 15.5" stroke="#ffa000" stroke-width="1.3" fill="none"/><path d="M37 16.6C38 16.6 41 16.6 43 16.6C45 16.6 47 16.6 49 16.6C51 16.6 53 16.6 55 16.7C57 16.7 59 16.7 61 16.7C63 16.7 65 16.7 67 16.7C69 16.7 71 16.7 73 16.7C75 16.8 77 16.8 79 16.8C81 16.8 83 16.8 85 16.8C87 16.8 89 16.8 91 16.8C93 16.8 95 16.8 97 16.9C99 16.9 101 16.9 103 16.9C105 16.9 107 16.9 109 17C111 17 113 17 115 17C117 17 119 17 121 17.1C123 17.1 125 17.1 127 17.1C129 17.1 131 17.1 133 17.2C135 17.2 137 17.2 139 17.2C141 17.2 143 17.3 145 17.3C147 17.3 149 17.3 151 17.4C153 17.4 155 17.4 157 17.4C159 17.5 161 17.5 163 17.5C165 17.5 167 17.6 169 17.6C171 17.6 173 17.6 175 17.6C177 17.7 179 17.7 181 17.7C183 17.7 185 17.8 187 17.8C189 17.8 191 17.8 193 17.8C195 17.9 197 17.9 199 17.9C201 17.9 203 17.9 205 18C207 18 209 18 211 18C213 18.1 215 18.1 217 18.1C219 18.1 221 18.1 223 18.2C225 18.2 227 18.2 229 18.2C231 18.2 233 18.3 235 18.3C237 18.3 239 18.3 241 18.3C243 18.3 245 18.3 247 18.4C249 18.4 251 18.4 253 18.4C255 18.4 257 18.4 259 18.4C261 18.5 263 18.5 265 18.5C267 18.5 269 18.5 271 18.5C273 18.5 275 18.5 277 18.5C279 18.5 281 18.5 283 18.5C285 18.5 287 18.5 289 18.5C291 18.5 293 18.5 295 18.5C297 18.6 299 18.6 301 18.6C303 18.5 305.7 19 307.2 18.5C308.6 18 309.3 16 309.7 15.5" stroke="#ffb500" stroke-width="1.3" fill="none"/><path d="M37 16.6C38 16.6 41 16.7 43 16.7C45 16.7 47 16.7 49 16.7C51 16.7 53 16.7 55 16.7C57 16.7 59 16.8 61 16.8C63 16.8 65 16.8 67 16.8C69 16.8 71 16.8 73 16.8C75 16.8 77 16.8 79 16.9C81 16.9 83 16.9 85 16.9C87 16.9 89 16.9 91 16.9C93 16.9 95 16.9 97 17C99 17 101 17 103 17C105 17 107 17 109 17.1C111 17.1 113 17.1 115 17.1C117 17.1 119 17.2 121 17.2C123 17.2 125 17.2 127 17.2C129 17.3 131 17.3 133 17.3C135 17.3 137 17.3 139 17.4C141 17.4 143 17.4 145 17.4C147 17.5 149 17.5 151 17.5C153 17.5 155 17.6 157 17.6C159 17.6 161 17.6 163 17.7C165 17.7 167 17.7 169 17.7C171 17.8 173 17.8 175 17.8C177 17.9 179 17.9 181 17.9C183 17.9 185 17.9 187 18C189 18 191 18 193 18C195 18.1 197 18.1 199 18.1C201 18.1 203 18.2 205 18.2C207 18.2 209 18.2 211 18.3C213 18.3 215 18.3 217 18.3C219 18.3 221 18.4 223 18.4C225 18.4 227 18.4 229 18.5C231 18.5 233 18.5 235 18.5C237 18.5 239 18.5 241 18.6C243 18.6 245 18.6 247 18.6C249 18.6 251 18.6 253 18.7C255 18.7 257 18.7 259 18.7C261 18.7 263 18.7 265 18.8C267 18.8 269 18.8 271 18.8C273 18.8 275 18.8 277 18.8C279 18.8 281 18.8 283 18.8C285 18.8 287 18.8 289 18.8C291 18.8 293 18.8 295 18.8C297 18.8 298.8 18.8 301 18.8C303.2 18.8 306.8 19.4 308.5 18.8C310.1 18.2 310.5 16 311 15.5" stroke="#ffcb00" stroke-width="1.3" fill="none"/><path d="M37 16.7C38 16.7 41 16.7 43 16.7C45 16.7 47 16.8 49 16.8C51 16.8 53 16.8 55 16.8C57 16.8 59 16.8 61 16.8C63 16.9 65 16.9 67 16.9C69 16.9 71 16.9 73 16.9C75 16.9 77 16.9 79 17C81 17 83 17 85 17C87 17 89 17 91 17C93 17 95 17 97 17.1C99 17.1 101 17.1 103 17.1C105 17.1 107 17.2 109 17.2C111 17.2 113 17.2 115 17.2C117 17.3 119 17.3 121 17.3C123 17.3 125 17.3 127 17.4C129 17.4 131 17.4 133 17.4C135 17.5 137 17.5 139 17.5C141 17.5 143 17.6 145 17.6C147 17.6 149 17.7 151 17.7C153 17.7 155 17.7 157 17.8C159 17.8 161 17.8 163 17.9C165 17.9 167 17.9 169 17.9C171 18 173 18 175 18C177 18.1 179 18.1 181 18.1C183 18.1 185 18.2 187 18.2C189 18.2 191 18.2 193 18.3C195 18.3 197 18.3 199 18.3C201 18.4 203 18.4 205 18.4C207 18.5 209 18.5 211 18.5C213 18.5 215 18.6 217 18.6C219 18.6 221 18.6 223 18.7C225 18.7 227 18.7 229 18.7C231 18.8 233 18.8 235 18.8C237 18.8 239 18.8 241 18.8C243 18.9 245 18.9 247 18.9C249 18.9 251 18.9 253 19C255 19 257 19 259 19C261 19 263 19 265 19.1C267 19.1 269 19.1 271 19.1C273 19.1 275 19.1 277 19.1C279 19.1 281 19.1 283 19.1C285 19.1 287 19.1 289 19.1C291 19.1 293 19.1 295 19.1C297 19.1 298.5 19.2 301 19.1C303.5 19.1 307.9 19.7 309.7 19.1C311.6 18.5 311.8 16.1 312.2 15.5" stroke="#ffe000" stroke-width="1.3" fill="none"/><path d="M37 16.8C38 16.8 41 16.8 43 16.8C45 16.8 47 16.8 49 16.9C51 16.9 53 16.9 55 16.9C57 16.9 59 16.9 61 16.9C63 16.9 65 17 67 17C69 17 71 17 73 17C75 17 77 17 79 17C81 17.1 83 17.1 85 17.1C87 17.1 89 17.1 91 17.1C93 17.1 95 17.1 97 17.2C99 17.2 101 17.2 103 17.2C105 17.2 107 17.3 109 17.3C111 17.3 113 17.3 115 17.4C117 17.4 119 17.4 121 17.4C123 17.5 125 17.5 127 17.5C129 17.5 131 17.6 133 17.6C135 17.6 137 17.6 139 17.7C141 17.7 143 17.7 145 17.8C147 17.8 149 17.8 151 17.9C153 17.9 155 17.9 157 17.9C159 18 161 18 163 18C165 18.1 167 18.1 169 18.1C171 18.2 173 18.2 175 18.2C177 18.3 179 18.3 181 18.3C183 18.4 185 18.4 187 18.4C189 18.4 191 18.5 193 18.5C195 18.5 197 18.6 199 18.6C201 18.6 203 18.6 205 18.7C207 18.7 209 18.7 211 18.8C213 18.8 215 18.8 217 18.8C219 18.9 221 18.9 223 18.9C225 19 227 19 229 19C231 19 233 19.1 235 19.1C237 19.1 239 19.1 241 19.1C243 19.2 245 19.2 247 19.2C249 19.2 251 19.2 253 19.3C255 19.3 257 19.3 259 19.3C261 19.3 263 19.3 265 19.4C267 19.4 269 19.4 271 19.4C273 19.4 275 19.4 277 19.4C279 19.4 281 19.4 283 19.4C285 19.4 287 19.4 289 19.4C291 19.4 293 19.5 295 19.5C297 19.5 299 19.5 301 19.5C303 19.5 305.3 19.4 307 19.4C308.7 19.4 309.9 20.1 311 19.4C312.1 18.7 313.1 16.1 313.5 15.5" stroke="#fff600" stroke-width="1.3" fill="none"/><path d="M37 16.8C38 16.8 41 16.9 43 16.9C45 16.9 47 16.9 49 16.9C51 16.9 53 17 55 17C57 17 59 17 61 17C63 17 65 17 67 17.1C69 17.1 71 17.1 73 17.1C75 17.1 77 17.1 79 17.1C81 17.2 83 17.2 85 17.2C87 17.2 89 17.2 91 17.2C93 17.2 95 17.2 97 17.3C99 17.3 101 17.3 103 17.3C105 17.4 107 17.4 109 17.4C111 17.4 113 17.5 115 17.5C117 17.5 119 17.5 121 17.6C123 17.6 125 17.6 127 17.6C129 17.7 131 17.7 133 17.7C135 17.8 137 17.8 139 17.8C141 17.8 143 17.9 145 17.9C147 18 149 18 151 18C153 18.1 155 18.1 157 18.1C159 18.2 161 18.2 163 18.2C165 18.3 167 18.3 169 18.3C171 18.4 173 18.4 175 18.4C177 18.5 179 18.5 181 18.5C183 18.6 185 18.6 187 18.6C189 18.7 191 18.7 193 18.7C195 18.8 197 18.8 199 18.8C201 18.8 203 18.9 205 18.9C207 18.9 209 19 211 19C213 19 215 19.1 217 19.1C219 19.1 221 19.2 223 19.2C225 19.2 227 19.3 229 19.3C231 19.3 233 19.3 235 19.4C237 19.4 239 19.4 241 19.4C243 19.4 245 19.5 247 19.5C249 19.5 251 19.5 253 19.5C255 19.6 257 19.6 259 19.6C261 19.6 263 19.7 265 19.7C267 19.7 269 19.7 271 19.7C273 19.7 275 19.7 277 19.7C279 19.7 281 19.7 283 19.7C285 19.8 287 19.8 289 19.8C291 19.8 293 19.8 295 19.8C297 19.8 299 19.8 301 19.8C303 19.8 305.1 19.8 307 19.7C308.9 19.7 311 20.4 312.3 19.7C313.6 19 314.4 16.2 314.8 15.5" stroke="#eaff00" stroke-width="1.3" fill="none"/><path d="M37 16.9C38 16.9 41 17 43 17C45 17 47 17 49 17C51 17 53 17 55 17.1C57 17.1 59 17.1 61 17.1C63 17.1 65 17.1 67 17.2C69 17.2 71 17.2 73 17.2C75 17.2 77 17.2 79 17.2C81 17.3 83 17.3 85 17.3C87 17.3 89 17.3 91 17.3C93 17.4 95 17.4 97 17.4C99 17.4 101 17.4 103 17.5C105 17.5 107 17.5 109 17.5C111 17.6 113 17.6 115 17.6C117 17.7 119 17.7 121 17.7C123 17.7 125 17.8 127 17.8C129 17.8 131 17.9 133 17.9C135 17.9 137 18 139 18C141 18 143 18.1 145 18.1C147 18.1 149 18.2 151 18.2C153 18.3 155 18.3 157 18.3C159 18.4 161 18.4 163 18.4C165 18.5 167 18.5 169 18.6C171 18.6 173 18.6 175 18.7C177 18.7 179 18.7 181 18.8C183 18.8 185 18.8 187 18.9C189 18.9 191 18.9 193 19C195 19 197 19.1 199 19.1C201 19.1 203 19.2 205 19.2C207 19.2 209 19.3 211 19.3C213 19.3 215 19.4 217 19.4C219 19.4 221 19.5 223 19.5C225 19.5 227 19.6 229 19.6C231 19.6 233 19.7 235 19.7C237 19.7 239 19.7 241 19.7C243 19.8 245 19.8 247 19.8C249 19.8 251 19.9 253 19.9C255 19.9 257 19.9 259 20C261 20 263 20 265 20C267 20 269 20.1 271 20.1C273 20.1 275 20.1 277 20.1C279 20.1 281 20.1 283 20.1C285 20.1 287 20.1 289 20.1C291 20.1 293 20.1 295 20.1C297 20.1 299 20.1 301 20.1C303 20.1 304.9 20.1 307 20.1C309.1 20.1 312 20.8 313.5 20C315.1 19.3 315.6 16.3 316 15.5" stroke="#c5ff00" stroke-width="1.3" fill="none"/><path d="M37 17.1C38 17.1 41 17.1 43 17.1C45 17.1 47 17.2 49 17.2C51 17.2 53 17.2 55 17.2C57 17.2 59 17.3 61 17.3C63 17.3 65 17.3 67 17.3C69 17.4 71 17.4 73 17.4C75 17.4 77 17.4 79 17.4C81 17.5 83 17.5 85 17.5C87 17.5 89 17.5 91 17.5C93 17.6 95 17.6 97 17.6C99 17.6 101 17.6 103 17.7C105 17.7 107 17.7 109 17.8C111 17.8 113 17.8 115 17.9C117 17.9 119 17.9 121 18C123 18 125 18 127 18.1C129 18.1 131 18.1 133 18.2C135 18.2 137 18.3 139 18.3C141 18.3 143 18.4 145 18.4C147 18.5 149 18.5 151 18.6C153 18.6 155 18.6 157 18.7C159 18.7 161 18.8 163 18.8C165 18.9 167 18.9 169 18.9C171 19 173 19 175 19.1C177 19.1 179 19.2 181 19.2C183 19.2 185 19.3 187 19.3C189 19.4 191 19.4 193 19.4C195 19.5 197 19.5 199 19.6C201 19.6 203 19.6 205 19.7C207 19.7 209 19.8 211 19.8C213 19.8 215 19.9 217 19.9C219 20 221 20 223 20C225 20.1 227 20.1 229 20.1C231 20.2 233 20.2 235 20.2C237 20.3 239 20.3 241 20.3C243 20.3 245 20.4 247 20.4C249 20.4 251 20.4 253 20.5C255 20.5 257 20.5 259 20.6C261 20.6 263 20.6 265 20.6C267 20.7 269 20.7 271 20.7C273 20.7 275 20.7 277 20.7C279 20.7 281 20.7 283 20.7C285 20.7 287 20.7 289 20.7C291 20.7 293 20.8 295 20.8C297 20.8 299 20.8 301 20.8C303 20.8 304.7 20.8 307 20.7C309.3 20.7 313.1 21.5 314.8 20.6C316.5 19.7 316.9 16.4 317.3 15.5" stroke="#9fff00" stroke-width="1.3" fill="none"/><path d="M37 17.2C38 17.2 41 17.2 43 17.3C45 17.3 47 17.3 49 17.3C51 17.3 53 17.4 55 17.4C57 17.4 59 17.4 61 17.4C63 17.5 65 17.5 67 17.5C69 17.5 71 17.6 73 17.6C75 17.6 77 17.6 79 17.6C81 17.6 83 17.7 85 17.7C87 17.7 89 17.7 91 17.8C93 17.8 95 17.8 97 17.8C99 17.8 101 17.9 103 17.9C105 17.9 107 18 109 18C111 18 113 18.1 115 18.1C117 18.2 119 18.2 121 18.2C123 18.3 125 18.3 127 18.4C129 18.4 131 18.4 133 18.5C135 18.5 137 18.5 139 18.6C141 18.6 143 18.7 145 18.7C147 18.8 149 18.8 151 18.9C153 18.9 155 19 157 19C159 19.1 161 19.1 163 19.2C165 19.2 167 19.3 169 19.3C171 19.4 173 19.4 175 19.5C177 19.5 179 19.6 181 19.6C183 19.7 185 19.7 187 19.8C189 19.8 191 19.8 193 19.9C195 19.9 197 20 199 20C201 20.1 203 20.1 205 20.2C207 20.2 209 20.2 211 20.3C213 20.3 215 20.4 217 20.4C219 20.5 221 20.5 223 20.6C225 20.6 227 20.7 229 20.7C231 20.7 233 20.8 235 20.8C237 20.8 239 20.9 241 20.9C243 20.9 245 20.9 247 21C249 21 251 21 253 21.1C255 21.1 257 21.1 259 21.2C261 21.2 263 21.2 265 21.2C267 21.3 269 21.3 271 21.3C273 21.3 275 21.3 277 21.3C279 21.3 281 21.3 283 21.4C285 21.4 287 21.4 289 21.4C291 21.4 293 21.4 295 21.4C297 21.4 299 21.4 301 21.4C303 21.4 304.5 21.4 307 21.4C309.5 21.3 314.2 22.2 316.1 21.2C318 20.2 318.2 16.5 318.6 15.5" stroke="#7aff00" stroke-width="1.3" fill="none"/><path d="M37 17.3C38 17.4 41 17.4 43 17.4C45 17.4 47 17.5 49 17.5C51 17.5 53 17.5 55 17.5C57 17.6 59 17.6 61 17.6C63 17.6 65 17.7 67 17.7C69 17.7 71 17.7 73 17.8C75 17.8 77 17.8 79 17.8C81 17.8 83 17.9 85 17.9C87 17.9 89 17.9 91 18C93 18 95 18 97 18C99 18 101 18.1 103 18.1C105 18.2 107 18.2 109 18.2C111 18.3 113 18.3 115 18.4C117 18.4 119 18.5 121 18.5C123 18.5 125 18.6 127 18.6C129 18.7 131 18.7 133 18.8C135 18.8 137 18.8 139 18.9C141 18.9 143 19 145 19.1C147 19.1 149 19.2 151 19.2C153 19.3 155 19.3 157 19.4C159 19.4 161 19.5 163 19.6C165 19.6 167 19.7 169 19.7C171 19.8 173 19.8 175 19.9C177 19.9 179 20 181 20C183 20.1 185 20.1 187 20.2C189 20.2 191 20.3 193 20.3C195 20.4 197 20.4 199 20.5C201 20.5 203 20.6 205 20.6C207 20.7 209 20.7 211 20.8C213 20.8 215 20.9 217 20.9C219 21 221 21 223 21.1C225 21.1 227 21.2 229 21.2C231 21.3 233 21.3 235 21.4C237 21.4 239 21.4 241 21.5C243 21.5 245 21.5 247 21.6C249 21.6 251 21.6 253 21.7C255 21.7 257 21.7 259 21.8C261 21.8 263 21.8 265 21.9C267 21.9 269 21.9 271 21.9C273 22 275 22 277 22C279 22 281 22 283 22C285 22 287 22 289 22C291 22 293 22 295 22C297 22 299 22 301 22C303 22 305 22 307 22C309 22 310.9 22 313 21.9C315.1 21.9 318.4 21.8 319.5 21.8" stroke="#55ff00" stroke-width="1.3" fill="none"/><path d="M37 17.5C38 17.5 41 17.5 43 17.6C45 17.6 47 17.6 49 17.6C51 17.7 53 17.7 55 17.7C57 17.7 59 17.8 61 17.8C63 17.8 65 17.8 67 17.9C69 17.9 71 17.9 73 17.9C75 18 77 18 79 18C81 18 83 18.1 85 18.1C87 18.1 89 18.1 91 18.2C93 18.2 95 18.2 97 18.2C99 18.3 101 18.3 103 18.3C105 18.4 107 18.4 109 18.5C111 18.5 113 18.6 115 18.6C117 18.7 119 18.7 121 18.8C123 18.8 125 18.9 127 18.9C129 18.9 131 19 133 19C135 19.1 137 19.1 139 19.2C141 19.3 143 19.3 145 19.4C147 19.4 149 19.5 151 19.6C153 19.6 155 19.7 157 19.7C159 19.8 161 19.9 163 19.9C165 20 167 20 169 20.1C171 20.2 173 20.2 175 20.3C177 20.3 179 20.4 181 20.5C183 20.5 185 20.6 187 20.6C189 20.7 191 20.7 193 20.8C195 20.9 197 20.9 199 21C201 21 203 21.1 205 21.1C207 21.2 209 21.2 211 21.3C213 21.4 215 21.4 217 21.5C219 21.5 221 21.6 223 21.6C225 21.7 227 21.7 229 21.8C231 21.8 233 21.9 235 21.9C237 22 239 22 241 22C243 22.1 245 22.1 247 22.1C249 22.2 251 22.2 253 22.2C255 22.3 257 22.3 259 22.4C261 22.4 263 22.4 265 22.5C267 22.5 269 22.5 271 22.6C273 22.6 275 22.6 277 22.6C279 22.6 281 22.6 283 22.6C285 22.6 287 22.6 289 22.6C291 22.6 293 22.6 295 22.6C297 22.6 299 22.7 301 22.7C303 22.6 305 22.6 307 22.6C309 22.6 310.9 22.6 313 22.5C315.1 22.5 318.4 22.4 319.5 22.4" stroke="#30ff00" stroke-width="1.3" fill="none"/><path d="M37 17.6C38 17.6 41 17.7 43 17.7C45 17.7 47 17.8 49 17.8C51 17.8 53 17.9 55 17.9C57 17.9 59 17.9 61 18C63 18 65 18 67 18.1C69 18.1 71 18.1 73 18.1C75 18.2 77 18.2 79 18.2C81 18.2 83 18.3 85 18.3C87 18.3 89 18.4 91 18.4C93 18.4 95 18.4 97 18.5C99 18.5 101 18.5 103 18.6C105 18.6 107 18.7 109 18.7C111 18.8 113 18.8 115 18.9C117 18.9 119 19 121 19C123 19.1 125 19.2 127 19.2C129 19.3 131 19.3 133 19.4C135 19.4 137 19.5 139 19.5C141 19.6 143 19.7 145 19.7C147 19.8 149 19.9 151 19.9C153 20 155 20.1 157 20.1C159 20.2 161 20.3 163 20.3C165 20.4 167 20.5 169 20.5C171 20.6 173 20.7 175 20.7C177 20.8 179 20.9 181 20.9C183 21 185 21.1 187 21.1C189 21.2 191 21.2 193 21.3C195 21.4 197 21.4 199 21.5C201 21.5 203 21.6 205 21.7C207 21.7 209 21.8 211 21.9C213 21.9 215 22 217 22C219 22.1 221 22.2 223 22.2C225 22.3 227 22.3 229 22.4C231 22.5 233 22.5 235 22.5C237 22.6 239 22.6 241 22.7C243 22.7 245 22.7 247 22.8C249 22.8 251 22.9 253 22.9C255 22.9 257 23 259 23C261 23.1 263 23.1 265 23.1C267 23.2 269 23.2 271 23.3C273 23.3 275 23.3 277 23.3C279 23.3 281 23.3 283 23.3C285 23.3 287 23.3 289 23.3C291 23.3 293 23.3 295 23.3C297 23.3 299 23.4 301 23.3C303 23.3 305 23.3 307 23.3C309 23.3 310.9 23.3 313 23.2C315.1 23.2 318.4 23.1 319.5 23.1" stroke="#0bff00" stroke-width="1.3" fill="none"/><path d="M37 17.8C38 17.8 41 17.9 43 17.9C45 17.9 47 17.9 49 18C51 18 53 18 55 18.1C57 18.1 59 18.1 61 18.2C63 18.2 65 18.2 67 18.3C69 18.3 71 18.3 73 18.3C75 18.4 77 18.4 79 18.4C81 18.5 83 18.5 85 18.5C87 18.6 89 18.6 91 18.6C93 18.6 95 18.7 97 18.7C99 18.7 101 18.8 103 18.8C105 18.9 107 18.9 109 19C111 19.1 113 19.1 115 19.2C117 19.2 119 19.3 121 19.3C123 19.4 125 19.5 127 19.5C129 19.6 131 19.6 133 19.7C135 19.7 137 19.8 139 19.9C141 19.9 143 20 145 20.1C147 20.2 149 20.2 151 20.3C153 20.4 155 20.5 157 20.5C159 20.6 161 20.7 163 20.8C165 20.8 167 20.9 169 21C171 21 173 21.1 175 21.2C177 21.3 179 21.3 181 21.4C183 21.5 185 21.5 187 21.6C189 21.7 191 21.7 193 21.8C195 21.9 197 21.9 199 22C201 22.1 203 22.1 205 22.2C207 22.3 209 22.3 211 22.4C213 22.5 215 22.5 217 22.6C219 22.7 221 22.7 223 22.8C225 22.9 227 23 229 23C231 23.1 233 23.1 235 23.2C237 23.2 239 23.3 241 23.3C243 23.3 245 23.4 247 23.4C249 23.5 251 23.5 253 23.6C255 23.6 257 23.7 259 23.7C261 23.7 263 23.8 265 23.8C267 23.9 269 23.9 271 24C273 24 275 24 277 24C279 24 281 24 283 24C285 24 287 24 289 24C291 24 293 24 295 24C297 24.1 299 24.1 301 24.1C303 24 305 24 307 24C309 24 310.9 24 313 23.9C315.1 23.9 318.4 23.8 319.5 23.8" stroke="#00ff19" stroke-width="1.3" fill="none"/><path d="M37 17.9C38 18 41 18 43 18.1C45 18.1 47 18.1 49 18.2C51 18.2 53 18.2 55 18.3C57 18.3 59 18.3 61 18.4C63 18.4 65 18.4 67 18.5C69 18.5 71 18.5 73 18.6C75 18.6 77 18.6 79 18.6C81 18.7 83 18.7 85 18.7C87 18.8 89 18.8 91 18.8C93 18.9 95 18.9 97 18.9C99 19 101 19 103 19.1C105 19.1 107 19.2 109 19.3C111 19.3 113 19.4 115 19.5C117 19.5 119 19.6 121 19.6C123 19.7 125 19.8 127 19.8C129 19.9 131 19.9 133 20C135 20.1 137 20.1 139 20.2C141 20.3 143 20.4 145 20.5C147 20.5 149 20.6 151 20.7C153 20.8 155 20.9 157 20.9C159 21 161 21.1 163 21.2C165 21.3 167 21.3 169 21.4C171 21.5 173 21.6 175 21.7C177 21.7 179 21.8 181 21.9C183 22 185 22 187 22.1C189 22.2 191 22.3 193 22.3C195 22.4 197 22.5 199 22.5C201 22.6 203 22.7 205 22.8C207 22.8 209 22.9 211 23C213 23.1 215 23.1 217 23.2C219 23.3 221 23.3 223 23.4C225 23.5 227 23.6 229 23.6C231 23.7 233 23.7 235 23.8C237 23.8 239 23.9 241 23.9C243 24 245 24 247 24.1C249 24.1 251 24.2 253 24.2C255 24.3 257 24.3 259 24.4C261 24.4 263 24.5 265 24.5C267 24.6 269 24.6 271 24.6C273 24.7 275 24.7 277 24.7C279 24.7 281 24.7 283 24.7C285 24.7 287 24.7 289 24.7C291 24.7 293 24.7 295 24.8C297 24.8 299 24.8 301 24.8C303 24.8 305 24.7 307 24.7C309 24.7 310.9 24.7 313 24.6C315.1 24.6 318.4 24.5 319.5 24.5" stroke="#00ff3c" stroke-width="1.3" fill="none"/><path d="M37 18.1C38 18.1 41 18.2 43 18.2C45 18.3 47 18.3 49 18.4C51 18.4 53 18.4 55 18.5C57 18.5 59 18.5 61 18.6C63 18.6 65 18.6 67 18.7C69 18.7 71 18.7 73 18.8C75 18.8 77 18.9 79 18.9C81 18.9 83 19 85 19C87 19 89 19.1 91 19.1C93 19.1 95 19.2 97 19.2C99 19.3 101 19.3 103 19.4C105 19.4 107 19.5 109 19.6C111 19.6 113 19.7 115 19.8C117 19.8 119 19.9 121 20C123 20 125 20.1 127 20.2C129 20.2 131 20.3 133 20.4C135 20.4 137 20.5 139 20.6C141 20.7 143 20.8 145 20.9C147 20.9 149 21 151 21.1C153 21.2 155 21.3 157 21.4C159 21.5 161 21.6 163 21.6C165 21.7 167 21.8 169 21.9C171 22 173 22.1 175 22.2C177 22.3 179 22.3 181 22.4C183 22.5 185 22.6 187 22.7C189 22.7 191 22.8 193 22.9C195 23 197 23.1 199 23.1C201 23.2 203 23.3 205 23.4C207 23.5 209 23.5 211 23.6C213 23.7 215 23.8 217 23.9C219 23.9 221 24 223 24.1C225 24.2 227 24.3 229 24.3C231 24.4 233 24.4 235 24.5C237 24.6 239 24.6 241 24.7C243 24.7 245 24.8 247 24.8C249 24.9 251 24.9 253 25C255 25 257 25.1 259 25.1C261 25.2 263 25.3 265 25.3C267 25.4 269 25.4 271 25.4C273 25.5 275 25.5 277 25.5C279 25.5 281 25.5 283 25.5C285 25.5 287 25.5 289 25.5C291 25.5 293 25.5 295 25.6C297 25.6 299 25.6 301 25.6C303 25.6 305 25.5 307 25.5C309 25.5 310.9 25.5 313 25.4C315.1 25.4 318.4 25.3 319.5 25.2" stroke="#00ff5f" stroke-width="1.3" fill="none"/><path d="M37 18.3C38 18.3 41 18.4 43 18.4C45 18.5 47 18.5 49 18.5C51 18.6 53 18.6 55 18.7C57 18.7 59 18.7 61 18.8C63 18.8 65 18.9 67 18.9C69 18.9 71 19 73 19C75 19.1 77 19.1 79 19.1C81 19.2 83 19.2 85 19.2C87 19.3 89 19.3 91 19.4C93 19.4 95 19.4 97 19.5C99 19.5 101 19.6 103 19.6C105 19.7 107 19.8 109 19.9C111 19.9 113 20 115 20.1C117 20.2 119 20.2 121 20.3C123 20.4 125 20.4 127 20.5C129 20.6 131 20.7 133 20.7C135 20.8 137 20.9 139 21C141 21.1 143 21.2 145 21.3C147 21.4 149 21.5 151 21.6C153 21.6 155 21.7 157 21.8C159 21.9 161 22 163 22.1C165 22.2 167 22.3 169 22.4C171 22.5 173 22.6 175 22.7C177 22.8 179 22.9 181 23C183 23.1 185 23.1 187 23.2C189 23.3 191 23.4 193 23.5C195 23.6 197 23.7 199 23.7C201 23.8 203 23.9 205 24C207 24.1 209 24.2 211 24.3C213 24.3 215 24.4 217 24.5C219 24.6 221 24.7 223 24.8C225 24.9 227 25 229 25C231 25.1 233 25.2 235 25.2C237 25.3 239 25.3 241 25.4C243 25.4 245 25.5 247 25.6C249 25.6 251 25.7 253 25.7C255 25.8 257 25.9 259 25.9C261 26 263 26 265 26.1C267 26.1 269 26.2 271 26.2C273 26.3 275 26.3 277 26.3C279 26.3 281 26.3 283 26.3C285 26.3 287 26.3 289 26.3C291 26.3 293 26.3 295 26.4C297 26.4 299 26.4 301 26.4C303 26.4 305 26.3 307 26.3C309 26.3 310.9 26.2 313 26.2C315.1 26.1 318.4 26 319.5 26" stroke="#00ff82" stroke-width="1.3" fill="none"/><path d="M37 18.5C38 18.5 41 18.6 43 18.6C45 18.7 47 18.7 49 18.7C51 18.8 53 18.8 55 18.9C57 18.9 59 19 61 19C63 19 65 19.1 67 19.1C69 19.2 71 19.2 73 19.3C75 19.3 77 19.3 79 19.4C81 19.4 83 19.5 85 19.5C87 19.5 89 19.6 91 19.6C93 19.7 95 19.7 97 19.8C99 19.8 101 19.9 103 19.9C105 20 107 20.1 109 20.2C111 20.2 113 20.3 115 20.4C117 20.5 119 20.6 121 20.6C123 20.7 125 20.8 127 20.9C129 20.9 131 21 133 21.1C135 21.2 137 21.3 139 21.4C141 21.5 143 21.6 145 21.7C147 21.8 149 21.9 151 22C153 22.1 155 22.2 157 22.3C159 22.4 161 22.5 163 22.6C165 22.7 167 22.8 169 22.9C171 23 173 23.1 175 23.2C177 23.3 179 23.4 181 23.5C183 23.6 185 23.7 187 23.8C189 23.9 191 24 193 24.1C195 24.2 197 24.3 199 24.3C201 24.4 203 24.5 205 24.6C207 24.7 209 24.8 211 24.9C213 25 215 25.1 217 25.2C219 25.3 221 25.4 223 25.5C225 25.6 227 25.7 229 25.7C231 25.8 233 25.9 235 25.9C237 26 239 26.1 241 26.1C243 26.2 245 26.2 247 26.3C249 26.4 251 26.4 253 26.5C255 26.6 257 26.6 259 26.7C261 26.7 263 26.8 265 26.9C267 26.9 269 27 271 27C273 27.1 275 27.1 277 27.1C279 27.1 281 27.1 283 27.1C285 27.1 287 27.1 289 27.1C291 27.1 293 27.2 295 27.2C297 27.2 299 27.2 301 27.2C303 27.2 305 27.1 307 27.1C309 27.1 310.9 27 313 27C315.1 26.9 318.4 26.8 319.5 26.8" stroke="#00fea2" stroke-width="1.3" fill="none"/><path d="M37 18.7C38 18.7 41 18.8 43 18.8C45 18.9 47 18.9 49 19C51 19 53 19 55 19.1C57 19.1 59 19.2 61 19.2C63 19.3 65 19.3 67 19.4C69 19.4 71 19.5 73 19.5C75 19.5 77 19.6 79 19.6C81 19.7 83 19.7 85 19.8C87 19.8 89 19.9 91 19.9C93 19.9 95 20 97 20C99 20.1 101 20.2 103 20.2C105 20.3 107 20.4 109 20.5C111 20.6 113 20.7 115 20.7C117 20.8 119 20.9 121 21C123 21.1 125 21.2 127 21.2C129 21.3 131 21.4 133 21.5C135 21.6 137 21.7 139 21.8C141 21.9 143 22 145 22.1C147 22.2 149 22.3 151 22.4C153 22.6 155 22.7 157 22.8C159 22.9 161 23 163 23.1C165 23.2 167 23.3 169 23.4C171 23.5 173 23.6 175 23.8C177 23.9 179 24 181 24.1C183 24.2 185 24.3 187 24.4C189 24.5 191 24.6 193 24.7C195 24.8 197 24.9 199 25C201 25.1 203 25.2 205 25.3C207 25.4 209 25.5 211 25.6C213 25.7 215 25.8 217 25.9C219 26 221 26.1 223 26.2C225 26.3 227 26.4 229 26.5C231 26.6 233 26.6 235 26.7C237 26.8 239 26.8 241 26.9C243 27 245 27 247 27.1C249 27.2 251 27.2 253 27.3C255 27.4 257 27.4 259 27.5C261 27.6 263 27.6 265 27.7C267 27.8 269 27.8 271 27.9C273 27.9 275 27.9 277 27.9C279 27.9 281 27.9 283 27.9C285 28 287 28 289 28C291 28 293 28 295 28C297 28 299 28 301 28C303 28 305 28 307 27.9C309 27.9 310.9 27.9 313 27.8C315.1 27.8 318.4 27.6 319.5 27.6" stroke="#00fab3" stroke-width="1.3" fill="none"/><path d="M37 18.9C38 18.9 41 19 43 19C45 19.1 47 19.1 49 19.2C51 19.2 53 19.3 55 19.3C57 19.4 59 19.4 61 19.5C63 19.5 65 19.6 67 19.6C69 19.7 71 19.7 73 19.7C75 19.8 77 19.8 79 19.9C81 19.9 83 20 85 20C87 20.1 89 20.1 91 20.2C93 20.2 95 20.3 97 20.3C99 20.4 101 20.4 103 20.5C105 20.6 107 20.7 109 20.8C111 20.9 113 21 115 21.1C117 21.2 119 21.2 121 21.3C123 21.4 125 21.5 127 21.6C129 21.7 131 21.8 133 21.9C135 22 137 22.1 139 22.2C141 22.3 143 22.4 145 22.5C147 22.7 149 22.8 151 22.9C153 23 155 23.1 157 23.2C159 23.4 161 23.5 163 23.6C165 23.7 167 23.8 169 24C171 24.1 173 24.2 175 24.3C177 24.4 179 24.5 181 24.6C183 24.8 185 24.9 187 25C189 25.1 191 25.2 193 25.3C195 25.4 197 25.5 199 25.6C201 25.7 203 25.8 205 25.9C207 26 209 26.1 211 26.3C213 26.4 215 26.5 217 26.6C219 26.7 221 26.8 223 26.9C225 27 227 27.1 229 27.2C231 27.3 233 27.4 235 27.4C237 27.5 239 27.6 241 27.7C243 27.7 245 27.8 247 27.9C249 27.9 251 28 253 28.1C255 28.2 257 28.2 259 28.3C261 28.4 263 28.5 265 28.5C267 28.6 269 28.7 271 28.7C273 28.7 275 28.7 277 28.7C279 28.8 281 28.8 283 28.8C285 28.8 287 28.8 289 28.8C291 28.8 293 28.9 295 28.9C297 28.9 299 28.9 301 28.9C303 28.9 305 28.8 307 28.8C309 28.7 310.9 28.7 313 28.7C315.1 28.6 318.4 28.5 319.5 28.4" stroke="#00f6c4" stroke-width="1.3" fill="none"/><path d="M37 19C38 19 41 19.1 43 19.2C45 19.2 47 19.3 49 19.3C51 19.4 53 19.4 55 19.5C57 19.5 59 19.6 61 19.6C63 19.7 65 19.7 67 19.8C69 19.8 71 19.9 73 19.9C75 20 77 20 79 20.1C81 20.1 83 20.2 85 20.2C87 20.3 89 20.3 91 20.4C93 20.4 95 20.5 97 20.5C99 20.6 101 20.7 103 20.7C105 20.8 107 20.9 109 21C111 21.1 113 21.2 115 21.3C117 21.4 119 21.5 121 21.6C123 21.7 125 21.8 127 21.9C129 22 131 22.1 133 22.2C135 22.3 137 22.4 139 22.5C141 22.6 143 22.7 145 22.9C147 23 149 23.1 151 23.2C153 23.3 155 23.5 157 23.6C159 23.7 161 23.8 163 24C165 24.1 167 24.2 169 24.3C171 24.4 173 24.6 175 24.7C177 24.8 179 24.9 181 25.1C183 25.2 185 25.3 187 25.4C189 25.5 191 25.6 193 25.7C195 25.8 197 26 199 26.1C201 26.2 203 26.3 205 26.4C207 26.5 209 26.6 211 26.7C213 26.8 215 27 217 27.1C219 27.2 221 27.3 223 27.4C225 27.5 227 27.6 229 27.7C231 27.8 233 27.9 235 28C237 28.1 239 28.1 241 28.2C243 28.3 245 28.4 247 28.4C249 28.5 251 28.6 253 28.7C255 28.7 257 28.8 259 28.9C261 29 263 29 265 29.1C267 29.2 269 29.3 271 29.3C273 29.3 275 29.3 277 29.3C279 29.4 281 29.4 283 29.4C285 29.4 287 29.4 289 29.4C291 29.4 293 29.5 295 29.5C297 29.5 299 29.5 301 29.5C303 29.5 305 29.4 307 29.4C309 29.3 310.9 29.3 313 29.3C315.1 29.2 318.4 29 319.5 29" stroke="#00f1d4" stroke-width="1.3" fill="none"/></g></defs>
<g clip-path="url(#c0)"><use href="#U" transform="translate(0 16) scale(1 1.0008) translate(0 -16)"/></g><g clip-path="url(#c2)"><use href="#U" transform="translate(0 385.4) scale(1 0.9876) translate(0 -16)"/></g><g clip-path="url(#c4)"><use href="#U" transform="translate(0 751.5) scale(1 0.9872) translate(0 -16)"/></g><g clip-path="url(#c1)"><g fill="none" stroke-width="1.3" stroke-dasharray="6.2 5.6"><path d="M654.9 31.5C652.5 32.8 646.1 37.4 640.8 39.4C635.5 41.4 629.1 42.3 623.3 43.8C617.5 45.3 611 46.6 605.8 48.2C600.5 49.8 595.3 50.9 591.8 53.4C588.3 55.9 586.1 59.5 584.8 63.1C583.5 66.8 583.8 70.6 583.9 75.3C584 80 585 86.1 585.7 91.1C586.4 96.1 587.4 100.4 588.3 105.1C589.2 109.8 590.2 114.3 590.9 119.1C591.6 123.9 591.8 128.8 592.7 134C593.6 139.2 595.2 144.9 596.2 150C597.2 155.1 597.3 159.7 598.4 164.6C599.5 169.5 601.3 174.8 602.8 179.2C604.3 183.6 605.5 187 607.2 190.9C608.9 194.8 610.8 198.7 613 202.6C615.2 206.5 617.9 210.8 620.3 214.2C622.7 217.6 625.1 220.4 627.6 223C630.1 225.6 632.6 227.8 635 230C637.4 232.2 640.8 235 642 236" stroke="#e0f000"/><path d="M656.6 40.3C654.9 41.8 650.2 46.1 646.1 49C642 51.9 636.8 54.9 632.1 57.8C627.4 60.7 621.6 63.7 618.1 66.6C614.6 69.5 612.7 71.8 611.1 75.3C609.5 78.8 609 83.2 608.4 87.6C607.8 92 607.5 96.3 607.5 101.6C607.5 106.8 608.1 113.7 608.4 119.1C608.7 124.5 608.4 128.8 609.3 134C610.2 139.2 612.6 144.9 613.7 150C614.8 155.1 614.9 159.7 615.9 164.6C616.9 169.5 618.3 174.8 619.6 179.2C620.9 183.6 622.3 187.2 623.9 190.9C625.5 194.6 627.2 197.7 629 201.1C630.8 204.5 633.1 208.6 634.9 211.3C636.7 214 638.1 215.4 640 217.2C641.9 219 645 221.2 646 222" stroke="#d8f200"/><path d="M660.1 49C658.9 51 656 57.8 653.1 61.3C650.2 64.8 646.1 66.9 642.6 70.1C639.1 73.3 635 77.1 632.1 80.6C629.2 84.1 626.6 87 625.1 91.1C623.6 95.2 623.6 100.4 623.3 105.1C623 109.8 623.1 114.3 623.3 119.1C623.4 123.9 623.5 128.8 624.2 134C624.9 139.2 626.6 144.9 627.6 150C628.6 155.1 629.3 159.7 630.5 164.6C631.7 169.5 633.3 174.8 634.9 179.2C636.5 183.6 638.3 187.4 640 190.9C641.7 194.4 643.3 197.3 645 200C646.7 202.7 649.2 205.8 650 207" stroke="#d0f400"/><path d="M661.9 57.8C661 60.1 659 67.4 656.6 71.8C654.2 76.2 650.4 80.3 647.8 84.1C645.2 87.9 642.4 90.5 640.8 94.6C639.2 98.7 638.8 103.9 638.2 108.6C637.6 113.3 637.4 118.4 637.3 122.6C637.1 126.8 637 129.4 637.3 134C637.6 138.6 638.2 144.8 639 150C639.8 155.2 640.8 160 642 165C643.2 170 644.5 175.5 646 180C647.5 184.5 650.2 190 651 192" stroke="#c8f600"/><path d="M663.6 66.6C663 69.5 661.6 79.1 660.1 84.1C658.6 89 656.4 91.9 654.9 96.3C653.4 100.7 652.2 104.1 651.3 110.4C650.4 116.7 649.7 127.4 649.6 134C649.5 140.6 650 144.8 650.5 150C651 155.2 651.8 160.3 652.5 165C653.2 169.7 654.6 175.8 655 178" stroke="#c0f800"/><path d="M665.4 75.3C665 78.2 663.6 86.9 662.7 92.8C661.8 98.7 660.7 103.5 660.1 110.4C659.5 117.3 659.3 127.4 659.2 134C659.1 140.6 659.3 144.8 659.5 150C659.7 155.2 660.2 160.8 660.5 165C660.8 169.2 660.9 173.3 661 175" stroke="#b8fa00"/><path d="M667 40C666.9 46.7 666.5 66.7 666.2 80C666 93.3 665.7 108.3 665.5 120C665.3 131.7 665.2 140.8 665.2 150C665.2 159.2 665.5 170.8 665.5 175" stroke="#a8fc00"/></g><g stroke-width="1.1" fill="none" stroke-linecap="round"><path d="M646.9 253.2l2.8 3.4" stroke="#c8f000"/><path d="M620.8 229.2l1.5 2.9" stroke="#c8f000"/><path d="M624.1 223.2l1.3 3.8" stroke="#b8f400"/><path d="M646.6 233.9l2 -4" stroke="#c8f000"/><path d="M623.7 219l0.5 4.2" stroke="#d4ee00"/><path d="M629.6 217.9l1.6 3.4" stroke="#b8f400"/><path d="M628.7 228.5l1.5 -2.4" stroke="#c8f000"/><path d="M630.6 258.1l3.6 0.9" stroke="#d4ee00"/><path d="M615.7 228.1l3.3 -2.1" stroke="#b8f400"/><path d="M638.9 250.8l1.1 -4.3" stroke="#c8f000"/><path d="M665.2 228.2l3.5 -1" stroke="#a8f800"/><path d="M632.5 242.6l0.3 -2.6" stroke="#b8f400"/><path d="M646.9 267l1.2 -2.7" stroke="#a8f800"/><path d="M631.3 228.1l4 0.3" stroke="#c8f000"/><path d="M645 255.8l2.8 -1.2" stroke="#a8f800"/><path d="M631.1 244.7l1 3" stroke="#c8f000"/><path d="M629.5 225.6l1.5 -2.2" stroke="#b8f400"/><path d="M652.4 225.1l3.9 -0.2" stroke="#c8f000"/><path d="M667.3 239.7l2.9 -0.8" stroke="#d4ee00"/><path d="M658.3 234.6l2.5 -0.6" stroke="#c8f000"/><path d="M656.9 226.7l2.8 -3.4" stroke="#b8f400"/><path d="M647.3 256.2l1.3 -3.1" stroke="#b8f400"/><path d="M615.3 232.3l2.1 -3.8" stroke="#b8f400"/><path d="M666.7 234.5l4 -0.1" stroke="#a8f800"/><path d="M627.3 235.6l1 2.5" stroke="#b8f400"/><path d="M647.1 237.5l2.4 -1.2" stroke="#d4ee00"/><path d="M640.9 240.6l2.6 0" stroke="#d4ee00"/><path d="M650.9 248.2l2.3 2.3" stroke="#d4ee00"/><path d="M658.8 222.2l0.5 3.9" stroke="#d4ee00"/><path d="M648.4 242.7l0.4 -3.6" stroke="#d4ee00"/><path d="M630.3 222.8l2.8 -2.1" stroke="#d4ee00"/><path d="M631.5 246.9l3.1 2.7" stroke="#d4ee00"/><path d="M660.6 234.2l2.9 -1.3" stroke="#b8f400"/><path d="M641.6 215.8l2.3 3.7" stroke="#a8f800"/><path d="M649.6 232.1l4.1 1.5" stroke="#a8f800"/><path d="M628.9 241l1.4 2.7" stroke="#c8f000"/><path d="M623 243.1l2.7 1" stroke="#b8f400"/><path d="M638.4 219.7l0.6 -2.7" stroke="#d4ee00"/><path d="M666.2 236.4l3.3 0.5" stroke="#d4ee00"/><path d="M633.3 244.8l2.9 0.8" stroke="#d4ee00"/><path d="M627.6 231.7l1.7 -3.8" stroke="#d4ee00"/><path d="M666 240.7l2.6 -1.7" stroke="#d4ee00"/><path d="M665.3 224.1l2.5 -1.2" stroke="#a8f800"/><path d="M657.5 246.7l2.6 -1.1" stroke="#a8f800"/><path d="M643.6 267.2l0.6 3.7" stroke="#d4ee00"/><path d="M658 248l3 -1.1" stroke="#b8f400"/><path d="M630.2 262l3.3 0.6" stroke="#b8f400"/><path d="M639.6 236.2l2.7 1.9" stroke="#b8f400"/><path d="M645.4 221.9l0.4 3.5" stroke="#a8f800"/><path d="M629.2 265.4l1.2 -2.2" stroke="#a8f800"/><path d="M619.6 230.5l3.6 -0.2" stroke="#b8f400"/><path d="M625.8 222.4l2.3 -3.9" stroke="#d4ee00"/><path d="M639.6 269.5l4.2 0.2" stroke="#c8f000"/><path d="M627.8 251l3.7 1.3" stroke="#c8f000"/><path d="M638 228.5l2.7 2.5" stroke="#c8f000"/><path d="M663.2 18.6l0.5 4.2" stroke="#c8f400"/><path d="M656.2 129.3l0.1 4.4" stroke="#d0f000"/><path d="M663.4 158.6l-0 4.1" stroke="#d0f000"/><path d="M660.6 157.2l0.4 4.7" stroke="#d0f000"/><path d="M666.9 31.5l0.1 4.2" stroke="#d0f000"/><path d="M657.7 150.3l-0 3.3" stroke="#b0f800"/><path d="M662.5 130l-0.1 3.3" stroke="#b0f800"/><path d="M656.6 128.4l0.4 4.3" stroke="#98fc00"/><path d="M660 179.5l0.6 2.6" stroke="#d0f000"/><path d="M660.4 221.7l-0.3 2.6" stroke="#c8f400"/><path d="M668.4 149.7l0.6 4.3" stroke="#b0f800"/><path d="M657.3 162l-0.1 3" stroke="#b0f800"/><path d="M664.1 50.9l0.2 2.6" stroke="#c8f400"/><path d="M655.4 170.1l0.3 3.9" stroke="#c8f400"/><path d="M653.6 197.2l0.2 3.6" stroke="#98fc00"/><path d="M660.6 117.8l-0.4 4.1" stroke="#c8f400"/><path d="M663.4 78.1l0.5 4.2" stroke="#98fc00"/><path d="M664.1 131.2l-0.3 3.2" stroke="#b0f800"/><path d="M658.2 171.1l0.4 2.8" stroke="#b0f800"/><path d="M661.1 110.5l0.2 2.8" stroke="#c8f400"/><path d="M664.7 35.4l0 2.7" stroke="#c8f400"/><path d="M661.1 110.5l-0.5 3.7" stroke="#98fc00"/><path d="M663 126.3l0.5 3.5" stroke="#b0f800"/><path d="M666.3 105.6l0.6 4.4" stroke="#c8f400"/><path d="M661.8 153.7l-0.2 2.8" stroke="#d0f000"/><path d="M660.3 65.9l0.4 4" stroke="#98fc00"/><path d="M665.4 95.1l0.4 3.4" stroke="#98fc00"/><path d="M667.1 106.4l0.3 3.8" stroke="#b0f800"/><path d="M657.3 98.7l-0.4 2.6" stroke="#b0f800"/><path d="M668.2 118l-0.6 4.2" stroke="#98fc00"/><path d="M667.6 113.9l-0.2 4" stroke="#d0f000"/><path d="M658.5 112.2l-0.2 4.1" stroke="#c8f400"/><path d="M667.4 96.7l-0.5 2.9" stroke="#98fc00"/><path d="M661 185l-0 4.2" stroke="#c8f400"/><path d="M668 24.5l0.2 3.4" stroke="#c8f400"/><path d="M657.7 155.5l0.3 4.9" stroke="#c8f400"/><path d="M661.9 84.2l-0.6 3.1" stroke="#b0f800"/><path d="M658.9 163.8l0.5 4.1" stroke="#d0f000"/><path d="M660.2 162.2l-0.3 3" stroke="#98fc00"/><path d="M660.6 167.4l-0.4 2.9" stroke="#b0f800"/><path d="M656.6 60.6l-0.6 4" stroke="#98fc00"/><path d="M666.1 30.4l-0.6 3.5" stroke="#c8f400"/><path d="M662 188.4l0.3 3.9" stroke="#c8f400"/><path d="M666.4 66.3l-0.5 2.7" stroke="#d0f000"/><path d="M656.7 67.7l-0.5 3.5" stroke="#c8f400"/><path d="M657.4 188l0.5 4.1" stroke="#c8f400"/><path d="M665 57.7l0 4.1" stroke="#b0f800"/><path d="M660.1 35.2l0.1 2.8" stroke="#b0f800"/><path d="M654.6 192.8l-0 2.5" stroke="#98fc00"/><path d="M660.9 134.6l0.5 4.1" stroke="#c8f400"/><path d="M661.8 80.8l0.1 4.6" stroke="#b0f800"/><path d="M662.3 46.3l0.4 4.4" stroke="#98fc00"/><path d="M657.7 81.8l0.2 2.7" stroke="#b0f800"/><path d="M663.6 181l-0.5 4.2" stroke="#98fc00"/><path d="M652.6 160.9l0.5 3" stroke="#98fc00"/><path d="M652.9 198.6l0.3 4.4" stroke="#d0f000"/><path d="M667.6 131.4l0.1 4.1" stroke="#b0f800"/><path d="M666.6 108.2l0.3 4.1" stroke="#c8f400"/><path d="M655.2 161l0.1 4.5" stroke="#d0f000"/><path d="M660 83.5l0.2 2.8" stroke="#d0f000"/><path d="M656.8 76.2l-0.6 4.4" stroke="#c8f400"/><path d="M657.7 28.3l0.5 3.4" stroke="#98fc00"/><path d="M659 142.8l-0.4 3.6" stroke="#98fc00"/><path d="M658.1 91.1l0.3 4" stroke="#b0f800"/><path d="M662.9 37.4l-0.1 2.9" stroke="#b0f800"/><path d="M661.5 209.5l-0.1 2.8" stroke="#98fc00"/><path d="M663.8 64.6l0.3 2.9" stroke="#c8f400"/><path d="M658.4 209l-0.5 4.9" stroke="#c8f400"/><path d="M657 184.1l-0.6 2.6" stroke="#c8f400"/><path d="M662.3 135.7l-0 4.7" stroke="#d0f000"/><path d="M666.7 59.1l0.3 3.3" stroke="#98fc00"/><path d="M656.4 178.2l0.1 4.5" stroke="#c8f400"/><path d="M657.9 99.8l-0.1 4.6" stroke="#d0f000"/><path d="M661.2 37.1l0.5 4.4" stroke="#98fc00"/><path d="M666.4 58.7l0.4 3.3" stroke="#d0f000"/><path d="M666.4 145.1l-0.5 3.4" stroke="#c8f400"/><path d="M664.1 141.5l-0.2 4.5" stroke="#c8f400"/><path d="M660.1 23.5l0.1 3.5" stroke="#d0f000"/><path d="M657.4 158.9l0 4.5" stroke="#c8f400"/><path d="M656.4 180.9l-0.3 4" stroke="#b0f800"/><path d="M657.1 33.9l-0.2 3.4" stroke="#d0f000"/><path d="M655.3 207.6l-0.6 4.3" stroke="#c8f400"/><path d="M668.5 36l0.2 3.3" stroke="#98fc00"/><path d="M660.9 189l-0 4" stroke="#b0f800"/><path d="M657.6 36.8l-0.1 3.4" stroke="#d0f000"/><path d="M661.1 18.6l0.5 2.9" stroke="#b0f800"/><path d="M661 143.2l-0.3 2.8" stroke="#98fc00"/><path d="M659.8 38.4l0.5 4.5" stroke="#c8f400"/><path d="M664.2 52.2l0.2 4.4" stroke="#b0f800"/><path d="M664.1 134.3l-0.1 4.1" stroke="#d0f000"/><path d="M662.9 104.8l-0.1 4.8" stroke="#98fc00"/><path d="M667.6 35.2l-0.6 3.3" stroke="#d0f000"/><path d="M663.3 41.6l-0.1 4" stroke="#b0f800"/><path d="M657.3 84.5l0.3 4.5" stroke="#98fc00"/><path d="M662.3 30.5l-0.2 4.6" stroke="#c8f400"/><path d="M659.7 191.5l0.5 4.8" stroke="#b0f800"/><path d="M666.4 143.5l-0.4 4.6" stroke="#c8f400"/><path d="M657.2 50l0.1 2.9" stroke="#c8f400"/><path d="M660.2 108l0.3 4.4" stroke="#b0f800"/><path d="M663.5 206.5l-0.2 4.1" stroke="#c8f400"/><path d="M654.3 184.1l-0 3.3" stroke="#b0f800"/><path d="M660.9 156.8l0.5 2.7" stroke="#d0f000"/><path d="M656.1 113.1l-0.4 5" stroke="#98fc00"/><path d="M661 18.7l-0 3.4" stroke="#c8f400"/><path d="M660.5 209.3l0.6 2.5" stroke="#d0f000"/><path d="M654.3 171.2l-0.3 3.4" stroke="#b0f800"/><path d="M665.1 119.7l-0.2 4.5" stroke="#c8f400"/><path d="M667 86.7l-0.3 3.8" stroke="#c8f400"/><path d="M655.3 219.1l-0.3 4.3" stroke="#b0f800"/><path d="M662.2 37.6l0.4 5" stroke="#d0f000"/><path d="M661.9 68l-0.6 2.8" stroke="#c8f400"/><path d="M656.3 174.2l0.1 2.5" stroke="#98fc00"/><path d="M662.4 213.2l-0.4 2.7" stroke="#b0f800"/><path d="M652.1 181.9l0.1 3.8" stroke="#98fc00"/><path d="M657.6 189.2l-0.1 2.6" stroke="#b0f800"/><path d="M657.2 176.8l-0.3 4" stroke="#c8f400"/><path d="M665.4 104l0.5 4.5" stroke="#d0f000"/><path d="M669 95.2l-0.4 4.4" stroke="#98fc00"/><path d="M657.1 177.3l-0.3 4.9" stroke="#98fc00"/><path d="M659.5 104l-0.6 3.7" stroke="#98fc00"/><path d="M666 147.2l-0.5 4.4" stroke="#c8f400"/><path d="M667.7 95.8l0.2 4.7" stroke="#b0f800"/><path d="M657.9 170.5l-0.4 3.3" stroke="#d0f000"/><path d="M668 66.3l-0.6 4.8" stroke="#c8f400"/><path d="M653 183.7l-0.2 2.8" stroke="#98fc00"/><path d="M659.8 61.8l-0.3 4.7" stroke="#c8f400"/><path d="M661.2 39.6l0.1 3.3" stroke="#d0f000"/><path d="M667.3 108.4l-0.3 4.9" stroke="#b0f800"/><path d="M665.5 129.3l0.2 2.8" stroke="#d0f000"/><path d="M656.2 29.4l0 3" stroke="#b0f800"/><path d="M666.3 142.5l-0.6 2.6" stroke="#b0f800"/><path d="M660.5 96.6l-0.1 2.6" stroke="#98fc00"/><path d="M657.6 38.9l0.3 4.8" stroke="#98fc00"/><path d="M663.4 209.2l0.4 5" stroke="#98fc00"/><path d="M664.9 138.5l0.3 4.1" stroke="#c8f400"/><path d="M661.1 125.9l0.4 4.8" stroke="#98fc00"/><path d="M661.3 94.1l-0 3.6" stroke="#c8f400"/><path d="M658.7 133.4l0.3 3.6" stroke="#c8f400"/><path d="M667.5 41.8l-0.3 3.4" stroke="#98fc00"/><path d="M666.2 74.3l-0.3 4.4" stroke="#98fc00"/><path d="M659.3 23.1l0.2 2.9" stroke="#b0f800"/><path d="M667.4 138.8l0.1 4.8" stroke="#b0f800"/><path d="M667.7 133.4l-0.6 3.4" stroke="#c8f400"/><path d="M666.7 26.8l-0.6 3.7" stroke="#c8f400"/><path d="M661.4 101.9l0.1 3.8" stroke="#d0f000"/><path d="M668.3 63.2l0.3 2.8" stroke="#c8f400"/><path d="M656.6 138.7l0.2 4.3" stroke="#98fc00"/><path d="M660.7 200l-0.5 2.7" stroke="#98fc00"/><path d="M655.1 171.9l0.5 3.2" stroke="#c8f400"/><path d="M664.5 83.9l-0.4 3.7" stroke="#d0f000"/><path d="M659.4 62.1l-0.1 4.9" stroke="#b0f800"/><path d="M668.9 48.6l0.1 4.1" stroke="#d0f000"/><path d="M654.1 150.7l-0.4 2.8" stroke="#d0f000"/><path d="M668.2 120.4l-0.4 3.4" stroke="#c8f400"/><path d="M662.4 72.6l0.1 3.8" stroke="#b0f800"/><path d="M657 153.1l-0.2 4.5" stroke="#98fc00"/><path d="M659.4 40l-0 3.4" stroke="#98fc00"/><path d="M653 162.7l-0.2 4.5" stroke="#c8f400"/><path d="M664.2 39l-0.5 4.6" stroke="#b0f800"/><path d="M656.6 216.3l-0.5 4.1" stroke="#98fc00"/><path d="M662.6 193l0.3 3.3" stroke="#98fc00"/><path d="M667.3 101.7l-0.5 2.7" stroke="#98fc00"/><path d="M657.2 26l-0.5 4.3" stroke="#d0f000"/><path d="M658.9 102.9l0.2 2.6" stroke="#98fc00"/><path d="M655.9 157.1l-0 3.4" stroke="#c8f400"/><path d="M666 39l-0.5 2.8" stroke="#c8f400"/><path d="M658.5 219.4l-0.2 3.6" stroke="#98fc00"/><path d="M666.7 110.6l-0.1 2.6" stroke="#b0f800"/><path d="M667.9 147.3l-0.4 3.3" stroke="#c8f400"/><path d="M668.2 28.9l0.1 3.7" stroke="#d0f000"/></g><defs><linearGradient id="gRb" x1="0" y1="0" x2="1" y2="0"><stop offset="0" stop-color="#70ff00"/><stop offset="0.3" stop-color="#30f800"/><stop offset="0.55" stop-color="#00f030"/><stop offset="0.75" stop-color="#00e880"/><stop offset="1" stop-color="#00e060"/></linearGradient><linearGradient id="gCb" x1="0" y1="0" x2="0" y2="1"><stop offset="0" stop-color="#0030ff"/><stop offset="0.45" stop-color="#0060ff"/><stop offset="0.75" stop-color="#00b0ff"/><stop offset="1" stop-color="#00f0ff"/></linearGradient></defs><path d="M669.6 16.5C669.6 24.8 669.4 48.3 669.3 66C669.3 83.7 669 109.6 669.3 122.6C669.6 135.6 671.1 138.1 671.1 144C671.1 149.9 669 155.8 669.5 158C670 160.2 673 159.5 674 157.5C675 155.5 674.5 150.3 675.5 145.9C676.6 141.6 679.5 133.7 680.5 131.2C681.5 128.7 681.3 150.3 681.5 131.2C681.7 112.1 681.5 35.6 681.5 16.5Z" fill="url(#gRb)" opacity="0.92"/><path d="M667.2 17.5C667.2 29.9 667.9 65.2 666.9 91.9C665.9 118.7 662.4 157.1 661 178.1C659.6 199.1 659.3 209 658.6 218C657.9 227 656.5 229.8 657 232C657.5 234.2 659.3 234.1 661.5 231.5C663.7 228.9 666.8 222.3 669.9 216.7C673.1 211.1 678.7 201.1 680.5 198" stroke="#a8f400" stroke-width="1.25" fill="none"/><path d="M667.6 17.5C667.6 29.4 668 63.4 667.3 89.1C666.6 114.9 664.5 152 663.5 172.1C662.5 192.3 661.8 201.4 661.1 210C660.4 218.6 659 221.8 659.5 224C660 226.2 662.1 226 664 223.5C665.9 221 668.3 214.6 671 209.2C673.8 203.9 678.9 194.2 680.5 191.2" stroke="#90f600" stroke-width="1.25" fill="none"/><path d="M668 17.5C668 28.9 668 61.1 667.7 85.6C667.4 110.1 666.7 145.6 666 164.6C665.3 183.7 664.3 191.8 663.6 200C662.9 208.2 661.5 211.8 662 214C662.5 216.2 664.8 215.9 666.5 213.5C668.2 211.1 669.8 205 672.2 199.8C674.5 194.6 679.1 185.3 680.5 182.4" stroke="#70f600" stroke-width="1.25" fill="none"/><path d="M668.4 17.5C668.4 28.2 668.2 58.6 668.1 81.8C668.1 104.9 668.4 138.5 668.1 156.4C667.8 174.2 666.7 181.2 666.1 189C665.5 196.8 664 200.8 664.5 203C665 205.2 667.5 204.8 669 202.5C670.5 200.2 671.4 194.3 673.3 189.3C675.2 184.3 679.3 175.4 680.5 172.6" stroke="#48f200" stroke-width="1.25" fill="none"/><path d="M668.8 17.5C668.8 27.5 668.6 55.7 668.5 77.2C668.5 98.7 668.6 130.2 668.5 146.6C668.4 163.1 668.4 168.8 668.1 176C667.8 183.2 666 187.8 666.5 190C667 192.2 669.7 191.7 671 189.5C672.3 187.3 672.6 181.6 674.2 176.9C675.8 172.1 679.5 163.5 680.5 160.8" stroke="#20ee00" stroke-width="1.25" fill="none"/><path d="M669.2 17.5C669.2 26.6 669 52.3 668.9 72C668.9 91.6 668.8 120.5 668.9 135.4C669 150.2 669.8 154.4 669.6 161C669.5 167.6 667.5 172.8 668 175C668.5 177.2 671.4 176.6 672.5 174.5C673.6 172.4 673.5 167 674.9 162.4C676.2 157.8 679.6 149.6 680.5 147" stroke="#00ea10" stroke-width="1.25" fill="none"/><path d="M669.6 17.5C669.6 25.6 669.4 48.5 669.3 66C669.3 83.5 669 109.6 669.3 122.6C669.6 135.6 671.1 138.1 671.1 144C671.1 149.9 669 155.8 669.5 158C670 160.2 673 159.5 674 157.5C675 155.5 674.5 150.3 675.5 145.9C676.6 141.6 679.7 133.7 680.5 131.2" stroke="#00e830" stroke-width="1.25" fill="none"/><path d="M670 17.5C670 24.5 669.8 44.5 669.7 59.7C669.7 75 669.3 98.1 669.7 109.1C670.1 120.2 672 120.9 672.1 126C672.2 131.1 670 137.8 670.5 140C671 142.2 674.1 141.4 675 139.5C675.9 137.6 675.1 132.7 676 128.5C676.9 124.3 679.8 116.7 680.5 114.4" stroke="#00e850" stroke-width="1.25" fill="none"/><path d="M674.6 25 C674.6 20 679.9 20 679.9 25 L679.6 120 C679.3 150 677.3 170 677.3 178 C677.3 170 674.9 150 674.6 120 Z" fill="#00f4ff"/><path d="M675.5 27 C675.5 23.2 678.9 23.2 678.9 27 L678.6 100 C678.4 120 677.4 134 677.3 140 C677.2 134 676.0 120 675.8 100 Z" fill="url(#gCb)"/><path d="M409.1 147.5C409.3 147.5 409.8 151 409.8 153C409.8 155 409.3 159.5 409.1 159.5C408.9 159.5 408.4 155 408.4 153C408.4 151 408.9 147.5 409.1 147.5Z" stroke="#ff4818" stroke-width="1.3" fill="none"/><path d="M411.4 113.3C412.3 113.5 413.4 115.5 414 118C414.6 120.5 415.1 123.5 415.3 128C415.5 132.5 415.4 139.7 415.3 145C415.2 150.3 414.9 156.3 414.6 160C414.4 163.7 414.2 164.5 413.8 167C413.4 169.5 413 172.5 412.3 175.2C411.6 177.9 410.4 180.9 409.5 183C408.6 185.1 407.8 187.7 407.2 187.5C406.6 187.3 405.9 185.8 405.6 182C405.3 178.2 405.4 172 405.5 165C405.6 158 405.8 146.7 406 140C406.2 133.3 406.6 128.8 407 125C407.4 121.2 407.8 119 408.5 117C409.2 115 410.5 113.1 411.4 113.3Z" stroke="#ff6420" stroke-width="1.3" fill="none"/><path d="M414.4 92.8C415.4 93.3 416.3 95.1 417 98C417.7 100.9 418.3 104.7 418.8 110C419.3 115.3 419.6 123.3 419.8 130C420 136.7 420.2 144.2 420.2 150C420.2 155.8 420.1 162 420 165C419.9 168 419.9 165.9 419.5 168C419.1 170.1 418.4 174.1 417.4 177.3C416.4 180.6 414.8 184.4 413.3 187.5C411.8 190.6 409.5 193.6 408.2 195.7C406.9 197.8 406.3 199 405.7 199.8C405.1 200.6 404.7 203.6 404.6 200.3C404.5 197 404.9 188.4 405 180C405.1 171.6 405.1 159.2 405.2 150C405.3 140.8 405.5 131.7 405.8 125C406.1 118.3 406.4 114.2 406.8 110C407.2 105.8 407.8 102.5 408.5 100C409.2 97.5 410 96.2 411 95C412 93.8 413.4 92.3 414.4 92.8Z" stroke="#ff6e20" stroke-width="1.3" fill="none"/><path d="M417.4 75.8C418.4 76.7 419.1 80 420 84C420.9 88 421.8 94.8 422.5 100C423.2 105.2 423.8 110 424.2 115C424.6 120 424.6 124.2 424.8 130C425 135.8 425.1 144.2 425.2 150C425.2 155.8 425.2 159.9 425.1 165C425 170.1 425.2 176.2 424.6 180.3C424 184.4 423 186.6 421.5 189.5C420 192.4 417.6 195.1 415.4 197.7C413.2 200.3 410 203.2 408.2 204.9C406.4 206.6 405.2 210.4 404.6 207.9C404 205.4 404.6 198 404.6 190C404.7 182 404.8 170 404.9 160C405 150 405.3 137.5 405.5 130C405.7 122.5 405.9 119.7 406.2 115C406.5 110.3 406.8 105.8 407.3 102C407.8 98.2 408.3 95 409 92C409.7 89 410.5 86.2 411.3 84C412.1 81.8 413 79.9 414 78.5C415 77.1 416.4 74.9 417.4 75.8Z" stroke="#ff7c20" stroke-width="1.3" fill="none"/><path d="M421 60.5C422.4 61.7 424 67.3 425.1 71.2C426.2 75.1 426.9 79.2 427.6 84C428.3 88.8 429 94.8 429.5 100C430 105.2 430.4 110 430.6 115C430.9 120 430.9 124.2 431 130C431.1 135.8 431.4 144.2 431.5 150C431.6 155.8 431.7 161.7 431.7 165C431.7 168.3 431.7 166.6 431.6 170C431.5 173.4 431.7 181.1 431.2 185.4C430.7 189.7 430 193 428.7 195.7C427.4 198.4 425.6 199.9 423.5 201.8C421.4 203.7 418.9 205.2 416.4 206.9C413.8 208.6 410.2 210.8 408.2 212C406.1 213.2 404.8 216.1 404.1 214.1C403.5 212.1 404.2 207.3 404.3 200C404.4 192.7 404.6 180 404.7 170C404.8 160 405 148.7 405.2 140C405.4 131.3 405.7 124.3 406 118C406.3 111.7 406.8 106.7 407.2 102C407.6 97.3 408.1 93.7 408.6 90C409.2 86.3 409.7 83.1 410.5 80C411.3 76.9 412.2 73.9 413.3 71.2C414.4 68.5 415.7 65.8 417 64C418.3 62.2 419.6 59.3 421 60.5Z" stroke="#ff8820" stroke-width="1.3" fill="none"/><path d="M424.1 46.5C425.9 47.6 429.2 52.8 430.7 56.9C432.2 61 432.6 66.7 433.3 71.2C434 75.7 434.4 79.2 434.8 84C435.2 88.8 435.7 94.8 436 100C436.3 105.2 436.6 110 436.8 115C437 120 437.1 124.2 437.3 130C437.5 135.8 437.8 144.2 438 150C438.2 155.8 438.2 159.1 438.4 165C438.5 170.9 439.1 179.4 438.9 185.4C438.7 191.4 438.1 197.1 437.3 200.8C436.5 204.6 435.4 206 433.8 207.9C432.2 209.8 430.2 211 427.6 212C425 213 421.3 213.3 418.4 214C415.5 214.7 412.7 215.4 410.3 216.1C407.9 216.8 405.1 220.8 404.1 218.1C403.1 215.4 404.2 208 404.3 200C404.4 192 404.5 180 404.7 170C404.9 160 405.1 148.7 405.3 140C405.6 131.3 405.9 124.3 406.2 118C406.5 111.7 407 106.8 407.4 102C407.8 97.2 408.3 93.2 408.8 89C409.3 84.8 409.9 80.8 410.6 77C411.3 73.2 412 69.3 413 66C414 62.6 415.2 59.6 416.4 56.9C417.6 54.2 418.7 51.7 420 50C421.3 48.3 422.3 45.4 424.1 46.5Z" stroke="#ff9520" stroke-width="1.3" fill="none"/><path d="M424.1 35.5C426.3 36.3 430.4 39 432.7 42.6C435 46.2 436.7 52.1 437.9 56.9C439.1 61.7 439.4 66.7 439.9 71.2C440.4 75.7 440.5 79.2 440.9 84C441.3 88.8 441.9 94.8 442.3 100C442.7 105.2 443 110 443.3 115C443.6 120 443.9 124.2 444.2 130C444.4 135.8 444.7 144.2 444.8 150C444.9 155.8 444.7 159.1 445 165C445.3 170.9 446 178.6 446.5 185.4C447 192.2 448.2 199.9 448.1 205.9C448 211.9 447.2 217.7 446 221.2C444.8 224.7 442.9 226 440.9 226.8C438.9 227.7 436.7 226.9 433.8 226.3C430.9 225.7 426.9 223.9 423.5 223.2C420.1 222.5 416.5 222.3 413.3 222.2C410.1 222.1 405.6 226.4 404.1 222.7C402.6 219 404.1 208.8 404.2 200C404.3 191.2 404.4 180 404.6 170C404.8 160 405 148.3 405.2 140C405.4 131.7 405.7 125.8 406 120C406.3 114.2 406.7 109.7 407 105C407.3 100.3 407.7 96.2 408 92C408.3 87.8 408.6 84 408.9 80C409.2 76 409.6 71.7 410 68C410.4 64.3 410.9 61.2 411.5 58C412.1 54.8 412.7 51.7 413.5 49C414.3 46.3 415.5 43.8 416.5 42C417.5 40.2 418.2 39.1 419.5 38C420.8 36.9 421.9 34.7 424.1 35.5Z" stroke="#ffa728" stroke-width="1.3" fill="none"/><path d="M419.5 27.3C422.1 27.7 428.5 29.5 431.7 31.4C434.9 33.3 437 35.4 438.9 38.5C440.8 41.6 441.8 45.4 443 49.8C444.2 54.2 445.3 59.4 446 65.1C446.7 70.8 446.5 78.2 447 84C447.5 89.8 448.2 94.8 448.8 100C449.4 105.2 450.2 110 450.8 115C451.4 120 452 124.2 452.6 130C453.2 135.8 453.9 144.2 454.5 150C455.1 155.8 455.8 161.7 456.2 165C456.6 168.3 456.2 164.9 456.6 170C457 175.1 457.7 188.2 458.3 195.7C458.9 203.2 459.9 209.1 460.3 215C460.7 220.9 461.2 226.6 460.8 231.3C460.4 236 459.8 240.4 457.9 243C455.9 245.6 452.3 246.1 449.1 246.6C445.9 247.1 442.1 247 438.9 245.9C435.7 244.8 433 242.5 430.1 240.1C427.2 237.7 424.8 233.2 421.4 231.3C418 229.4 412.6 229 409.7 228.4C406.8 227.8 404.7 230.8 403.8 227.7C402.9 224.6 404.1 217.9 404.3 210C404.5 202.1 404.6 190 404.8 180C405 170 405.2 159.2 405.5 150C405.8 140.8 406.2 132.5 406.6 125C407 117.5 407.4 111 407.8 105C408.2 99 408.7 94.5 409 89C409.3 83.5 409.5 76.8 409.8 72C410.1 67.2 410.4 63.3 410.7 60C411 56.7 411.2 55 411.5 52C411.8 49 412.1 45 412.5 42C412.9 39 413.4 36.2 414 34C414.6 31.8 415.1 30.1 416 29C416.9 27.9 416.9 26.9 419.5 27.3Z" stroke="#ffb820" stroke-width="1.3" fill="none"/><path d="M407.2 19.1C410.9 19.7 418.6 20.2 423.5 21.2C428.4 22.2 433.4 23.3 436.8 25.2C440.2 27.1 441.9 29.7 444 32.4C446.1 35.1 447.6 37.9 449.1 41.6C450.6 45.4 452 50.1 453.2 54.9C454.4 59.7 455.5 65.4 456.2 70.2C456.9 75 456.7 79.7 457.3 84C457.9 88.3 459.1 92.3 460 96.3C460.9 100.3 461.6 104 462.5 108C463.4 112 464.4 116.3 465.3 120C466.2 123.7 466.9 126.5 468.1 130C469.3 133.5 470.7 135.4 472.3 141C473.9 146.6 476.5 157.1 477.5 163.8C478.5 170.5 478.5 174 478.4 181.3C478.2 188.6 477 198.8 476.6 207.6C476.2 216.4 475.8 227.5 475.8 233.9C475.8 240.3 476.9 243 476.6 246.1C476.3 249.2 475.9 251 474 252.3C472.1 253.6 468.2 253.7 465.3 254C462.4 254.3 461.5 254.3 456.4 253.9C451.3 253.5 439.9 252.7 434.5 251.8C429.1 251 427 250.8 424.3 248.8C421.6 246.9 420.8 242.5 418.4 240.1C416 237.7 412.1 235.4 409.7 234.2C407.3 233 404.8 236 403.8 232.8C402.9 229.6 403.9 223.8 404 215C404.1 206.2 404.2 192.5 404.4 180C404.6 167.5 404.8 151.7 405 140C405.2 128.3 405.5 119.2 405.8 110C406.1 100.8 406.5 92.5 406.8 85C407.1 77.5 407.3 70.8 407.5 65C407.7 59.2 407.8 54.5 407.8 50C407.8 45.5 407.8 41.7 407.5 38C407.2 34.3 406.8 30.8 406.2 28C405.6 25.2 404.8 22.8 404 21C403.2 19.2 401 17.8 401.5 17.5C402 17.2 403.5 18.5 407.2 19.1Z" stroke="#ffc518" stroke-width="1.3" fill="none"/><path d="M428.7 18.6C435.5 19.1 438.7 19.2 441.9 20.1C445.1 21 446.4 22.1 448.1 24.2C449.8 26.2 450.7 29.3 452.2 32.4C453.7 35.5 455.8 39.2 457.3 42.6C458.8 46 460 49 461.4 52.8C462.8 56.5 464.3 61.7 465.4 65.1C466.5 68.5 466.6 68.7 468 73.3C469.4 77.9 472 87.3 474 92.8C476 98.2 477.8 101.6 480 106C482.2 110.4 484.5 114.9 487 119C489.5 123.1 491.9 126 495 130.5C498.1 135.1 502.6 140.8 505.5 146.3C508.4 151.9 510.6 158 512.6 163.8C514.6 169.6 516.5 175.5 517.8 181.3C519.1 187.1 520.4 193.5 520.4 198.8C520.4 204.1 520 208.5 517.8 212.9C515.6 217.3 510.6 221.3 507.3 225.1C504 228.9 499.6 232.1 497.7 235.6C495.8 239.1 496.3 243.2 495.9 246.1C495.4 249 496.6 251.1 495 253.1C493.4 255.1 490.4 257.5 486.3 258.4C482.2 259.3 474.9 258.5 470.5 258.4C466.1 258.2 464.8 257.6 460 257.5C455.2 257.4 447.5 257.8 441.8 257.6C436.1 257.4 429.4 257.6 425.7 256.1C422 254.6 422.1 251.5 419.9 248.8C417.7 246.1 415.3 242 412.6 240.1C409.9 238.2 405.3 241.4 403.8 237.2C402.3 233 403.7 226.2 403.7 215C403.7 203.8 403.7 185.8 403.8 170C403.9 154.2 404.1 134.2 404.3 120C404.5 105.8 404.8 95 405 85C405.2 75 405.3 67.5 405.4 60C405.4 52.5 405.4 45.5 405.3 40C405.2 34.5 404.9 30.3 404.5 27C404.1 23.7 403.6 21.7 403 20C402.4 18.3 396.9 17.2 401.2 17C405.5 16.8 421.9 18.1 428.7 18.6Z" stroke="#ffd010" stroke-width="1.3" fill="none"/><path d="M438.9 18.4C447.4 18.9 449.5 18.6 452.2 19.6C454.9 20.6 453.8 22.1 455.2 24.2C456.6 26.3 458 28.8 460.3 32.4C462.6 35.9 465.9 40.4 468.8 45.5C471.7 50.6 474.6 57.2 477.5 63.1C480.4 69 483.4 75.6 486.3 80.6C489.2 85.5 491.8 89 495 92.8C498.2 96.6 502 99.8 505.5 103.3C509 106.8 513.2 110.4 516.1 113.9C519 117.4 520.8 121.1 523.1 124.4C525.4 127.8 528.1 130.1 530.1 134C532.1 137.9 533.5 142.8 535.3 148C537 153.2 538.6 159.1 540.6 165.5C542.6 171.9 544.7 179.8 547.3 186.5C549.9 193.2 552.9 199.4 556.1 205.5C559.3 211.6 562.6 217.7 566.3 223C569.9 228.3 574.1 233.7 578 237.6C581.9 241.5 586.5 243.7 589.6 246.4C592.8 249.1 595.4 251.4 596.9 253.6C598.4 255.8 599.1 258 598.4 259.5C597.7 261 596.2 261.8 592.6 262.4C589 263 582.8 263.2 576.5 263.1C570.2 263 562.3 262.2 554.6 261.7C546.9 261.2 540 260 530.1 260.2C520.2 260.4 507.3 262.8 495 262.8C482.7 262.9 466.5 261.1 456.4 260.5C446.3 259.9 439.7 258.8 434.5 259C429.3 259.2 427.3 261.4 425 261.5C422.7 261.6 421.8 261.1 420.5 259.5C419.2 257.9 418.8 254.6 417.5 252C416.2 249.4 414.4 246.1 412.5 244C410.6 241.9 407.7 240.8 406 239.5C404.3 238.2 403 273.1 402.2 236C401.4 198.9 394.9 53.1 401 16.8C407.1 -19.5 430.4 17.9 438.9 18.4Z" stroke="#ffdc08" stroke-width="1.3" fill="none"/><path d="M401 16.5C404 16.5 408.6 16.6 418.4 17.1C428.2 17.6 449.3 18.5 460 19.3C470.7 20.1 478.9 21.2 482.8 21.9C486.8 22.6 484 22.6 483.7 23.6C483.4 24.6 481.3 25.8 481 28C480.7 30.2 481 33.3 481.9 36.8C482.8 40.3 484.1 44.9 486.3 49C488.5 53.1 491.5 57.5 495 61.3C498.5 65.1 502.9 68.3 507.3 71.8C511.7 75.3 516.9 78.8 521.3 82.3C525.7 85.8 530.1 89.3 533.6 92.8C537.1 96.3 540 99.5 542.3 103.3C544.6 107.1 546.1 111.1 547.6 115.6C549.1 120 550.2 124.3 551.5 130C552.8 135.7 553.6 143.5 555.3 150C557 156.5 559.3 162.7 561.9 169C564.5 175.3 567.5 181.9 570.7 188C573.9 194.1 577.5 200.2 580.9 205.5C584.3 210.8 587.7 215.2 591.1 220.1C594.5 225 598.6 230.3 601.3 234.7C604 239.1 605.5 243 607.2 246.4C608.9 249.8 610.4 252.4 611.5 255.1C612.6 257.8 613.7 260.4 613.7 262.4C613.7 264.3 614 265.9 611.5 266.8C609 267.7 605.4 267.3 598.4 267.5C591.4 267.7 578.9 268.2 569.2 268.2C559.5 268.2 549.4 267.7 540 267.5C530.6 267.3 519.6 267.3 512.6 267.2C505.6 267.1 506.8 267.4 498 267.1C489.2 266.8 470.6 266 460 265.4C449.4 264.8 440.3 263.2 434.5 263.4C428.7 263.6 427.5 266.4 425 266.8C422.5 267.2 420.8 266.8 419.5 265.5C418.2 264.2 418.3 261.5 417.5 259C416.7 256.5 415.9 253 414.5 250.5C413.1 248 410.8 245.7 409 244C407.2 242.3 404.8 241.8 403.5 240.5C402.2 239.2 401.8 259.4 401.2 236C400.6 212.6 400.3 136.5 400.2 100C400.1 63.5 400.3 30.9 400.4 17C400.5 3.1 398 16.5 401 16.5Z" stroke="#ffe400" stroke-width="1.3" fill="none"/><path d="M632.1 16.4C655.6 16.6 638.6 16.7 640.8 17.5C643 18.3 645.2 20 645.2 21C645.2 22 644.4 22.7 640.8 23.6C637.1 24.5 630.6 25.4 623.3 26.3C616 27.2 604.2 28.3 597 28.9C589.8 29.5 586.8 29.4 580 29.8C573.2 30.2 563.9 30.6 556.4 31.5C548.9 32.4 540.6 33.5 535.3 35C530 36.5 526.5 38.2 524.8 40.3C523 42.3 523.6 44.7 524.8 47.3C526 49.9 528.9 52.8 531.8 56C534.7 59.2 538.8 62.8 542.3 66.6C545.8 70.4 549.7 74.7 552.9 78.8C556.1 82.9 559.3 86.7 561.6 91.1C563.9 95.5 565.4 100.4 566.9 105.1C568.4 109.8 569.2 113.7 570.4 119.1C571.6 124.5 572.7 131.5 573.9 137.5C575.1 143.5 576.2 149.8 577.4 155C578.6 160.2 579.1 163.5 580.9 169C582.7 174.5 585.3 181.9 588.2 188C591.1 194.1 595 200.2 598.4 205.5C601.8 210.8 606 215.7 608.6 220.1C611.2 224.5 612.7 227.9 613.7 231.8C614.7 235.7 613.9 239.5 614.5 243.4C615.1 247.3 615.9 251.7 617.4 255.1C618.9 258.5 621.8 261.4 623.2 263.9C624.6 266.4 626.5 268.6 626 270C625.5 271.4 631 271.9 620 272.3C609 272.7 583.3 272.5 560 272.5C536.7 272.5 501.7 272.4 480 272.3C458.3 272.2 440 271.9 430 271.6C420 271.4 422.3 271.7 420 270.8C417.7 269.9 416.9 268.6 416 266.5C415.1 264.4 415.3 260.8 414.5 258C413.7 255.2 412.5 252.1 411 250C409.5 247.9 407.1 246.6 405.5 245.5C403.9 244.4 402.4 267.8 401.5 243.5C400.6 219.2 400.3 137.9 400.1 100C399.9 62.1 383.7 30.2 400.3 16.3C416.9 2.3 461.4 16.3 500 16.3C538.6 16.3 608.6 16.2 632.1 16.4Z" stroke="#ffea00" stroke-width="1.3" fill="none"/><path d="M645.3 273C642.8 271.4 648.2 267.3 650 264C651.8 260.7 653.8 256.7 656 253C658.2 249.3 660.7 245.3 663 242C665.3 238.7 667.8 235.3 670 233C672.2 230.7 674.8 227.8 676.5 228C678.2 228.2 679.4 230.3 680 234C680.6 237.7 680.2 245 680.3 250C680.3 255 680.3 260.2 680.3 264C680.3 267.8 682.8 271.4 680.3 273C677.8 274.6 670.8 273.3 665 273.3C659.2 273.3 647.8 274.6 645.3 273Z" stroke="#ffe400" stroke-width="1.0" fill="none"/><path d="M651.5 270.3C649.5 269 653.6 265.9 654.9 263.2C656.3 260.5 657.8 257.3 659.5 254.3C661.2 251.3 663.2 247.9 665.1 245.1C667 242.4 669.1 239.8 670.9 237.9C672.8 236.1 674.8 234 676.2 234.1C677.6 234.2 678.5 235.9 679.1 238.7C679.7 241.5 679.6 246.8 679.8 251C679.9 255.2 680.2 260.5 680.1 263.9C680.1 267.3 681.9 270.1 679.6 271.4C677.4 272.6 671.2 271.4 666.5 271.3C661.8 271.1 653.4 271.6 651.5 270.3Z" stroke="#ffd800" stroke-width="1.0" fill="none"/><path d="M656.2 268.2C654.7 267.1 657.8 264.7 658.8 262.6C659.8 260.4 660.9 257.8 662.3 255.3C663.6 252.8 665.2 249.9 666.8 247.7C668.4 245.5 670.1 243.3 671.6 241.9C673.2 240.4 674.9 238.8 676 238.9C677.1 239 677.8 240.3 678.4 242.4C678.9 244.6 679 248.5 679.2 252C679.5 255.6 679.8 260.6 679.8 263.6C679.7 266.6 681 268.9 679 269.9C677 270.9 671.7 269.8 667.8 269.5C664 269.2 657.7 269.4 656.2 268.2Z" stroke="#ffcc00" stroke-width="1.0" fill="none"/><path d="M660.3 266.5C659.1 265.5 661.4 263.8 662.1 262.1C662.9 260.4 663.7 258.2 664.7 256.2C665.7 254.2 667 251.8 668.3 250C669.6 248.2 671 246.5 672.3 245.3C673.5 244.2 674.9 243.1 675.8 243.1C676.7 243.2 677.3 244.1 677.7 245.8C678.2 247.4 678.4 250.1 678.7 253.1C678.9 256 679.4 260.7 679.3 263.3C679.3 265.8 680.2 267.7 678.4 268.4C676.7 269.2 672.1 268.2 669 267.9C666 267.6 661.4 267.4 660.3 266.5Z" stroke="#ffc000" stroke-width="1.0" fill="none"/><path d="M663.7 264.9C662.9 264.1 664.5 262.9 665 261.6C665.6 260.3 666.1 258.6 666.9 257C667.7 255.4 668.7 253.4 669.7 252C670.7 250.6 671.9 249.3 672.9 248.4C673.8 247.6 674.9 246.8 675.6 246.8C676.3 246.9 676.7 247.5 677.2 248.7C677.6 249.9 677.8 251.7 678.1 254.1C678.4 256.5 678.9 260.7 678.8 262.9C678.8 265 679.3 266.4 677.9 267C676.4 267.6 672.5 266.8 670.2 266.4C667.8 266.1 664.6 265.7 663.7 264.9Z" stroke="#ffb400" stroke-width="1.0" fill="none"/><path d="M666.7 263.6C666.1 263 667.2 262.2 667.6 261.2C667.9 260.2 668.3 258.9 668.8 257.7C669.4 256.5 670.1 254.9 670.9 253.8C671.7 252.8 672.6 251.8 673.4 251.2C674.1 250.6 674.9 250 675.5 250.1C676 250.1 676.3 250.5 676.7 251.4C677 252.2 677.3 253.3 677.6 255.2C677.8 257 678.3 260.7 678.3 262.5C678.2 264.2 678.5 265.2 677.3 265.7C676.1 266.1 672.9 265.4 671.2 265.1C669.4 264.7 667.3 264.3 666.7 263.6Z" stroke="#ffa800" stroke-width="1.0" fill="none"/><path d="M669.3 262.5C668.9 262 669.6 261.5 669.8 260.8C670 260.1 670.2 259.2 670.5 258.4C670.9 257.5 671.5 256.3 672 255.5C672.5 254.7 673.3 254 673.8 253.6C674.4 253.2 674.9 252.9 675.3 252.9C675.7 252.9 675.9 253.2 676.2 253.7C676.5 254.3 676.8 254.8 677 256.2C677.2 257.6 677.7 260.6 677.6 262C677.6 263.3 677.7 264.1 676.8 264.4C675.9 264.7 673.4 264.1 672.1 263.8C670.9 263.5 669.7 263 669.3 262.5Z" stroke="#ff9c00" stroke-width="1.0" fill="none"/><path d="M671.4 261.6C671.2 261.2 671.5 261 671.6 260.5C671.7 260.1 671.8 259.5 672 258.9C672.3 258.3 672.6 257.5 673 257C673.3 256.5 673.8 256 674.2 255.8C674.6 255.5 675 255.4 675.2 255.4C675.5 255.4 675.6 255.5 675.8 255.8C676 256.2 676.2 256.3 676.4 257.3C676.6 258.2 677 260.5 676.9 261.5C676.9 262.4 676.9 262.9 676.3 263.1C675.6 263.3 673.8 262.9 673 262.6C672.2 262.4 671.6 261.9 671.4 261.6Z" stroke="#ff9000" stroke-width="1.0" fill="none"/><path d="M673.1 260.8C673 260.6 673.1 260.5 673.2 260.3C673.2 260.1 673.2 259.7 673.4 259.4C673.5 259.1 673.7 258.6 673.9 258.3C674.1 258 674.4 257.8 674.6 257.6C674.8 257.5 675 257.5 675.1 257.5C675.3 257.5 675.3 257.5 675.4 257.7C675.6 257.8 675.7 257.8 675.9 258.4C676 258.9 676.2 260.3 676.2 260.9C676.2 261.5 676.1 261.7 675.7 261.8C675.4 261.9 674.3 261.7 673.9 261.5C673.4 261.3 673.2 261 673.1 260.8Z" stroke="#ff8800" stroke-width="1.0" fill="none"/><path d="M400.5 254.5 A3.5 3.5 0 0 1 400.5 261.5" stroke="#c4f000" stroke-width="1.2" fill="none" stroke-dasharray="3.2 1.7"/><path d="M400.5 252.2 A5.8 5.8 0 0 1 400.5 263.8" stroke="#c4f000" stroke-width="1.2" fill="none" stroke-dasharray="3.2 1.7"/><path d="M400.5 249.9 A8.1 8.1 0 0 1 400.5 266.1" stroke="#c4f000" stroke-width="1.2" fill="none" stroke-dasharray="3.2 1.7"/><path d="M400.5 247.6 A10.4 10.4 0 0 1 400.5 268.4" stroke="#d4f000" stroke-width="1.2" fill="none" stroke-dasharray="3.2 1.7"/><path d="M400.5 245.4 A12.6 12.6 0 0 1 400.5 270.6" stroke="#d4f000" stroke-width="1.2" fill="none" stroke-dasharray="3.2 1.7"/><defs><linearGradient id="gbL" x1="0" y1="16" x2="0" y2="274" gradientUnits="userSpaceOnUse"><stop offset="0.02" stop-color="#ffe000"/><stop offset="0.18" stop-color="#ffc400"/><stop offset="0.36" stop-color="#ffa000"/><stop offset="0.52" stop-color="#ff8000"/><stop offset="0.7" stop-color="#ff8a00"/><stop offset="0.82" stop-color="#ffc000"/><stop offset="0.9" stop-color="#ffe000"/><stop offset="0.97" stop-color="#d8f000"/></linearGradient></defs><path d="M399 16 L401.5 16 L403 40 L405 80 L406.5 120 L407 160 L406.2 200 L404.5 230 L402.5 255 L401.5 274 L399 274 Z" fill="url(#gbL)"/></g><g clip-path="url(#c3)"><g fill="none" stroke-width="1.3" stroke-dasharray="6.2 5.6"><path d="M652.6 398.2C649.6 399.2 641.3 402.9 634.8 404.5C628.3 406.1 619.9 407 613.4 408C606.9 409 601.5 409.3 595.6 410.7C589.7 412.1 582.5 414 577.8 416.1C573 418.2 569.3 420.2 567.1 423.2C564.9 426.2 564.5 429.1 564.5 433.9C564.5 438.6 565.8 445.8 567.1 451.7C568.4 457.6 570.7 463.6 572.5 469.5C574.3 475.4 576.3 482.2 577.8 487.3C579.3 492.4 579.7 495.4 581.4 500C583.1 504.6 585.6 509.7 588 515C590.4 520.3 593.3 526.5 596 532C598.7 537.5 601.5 542.8 604 548C606.5 553.2 608.8 558 611 563C613.2 568 614.8 573.2 617 578C619.2 582.8 621.5 587.7 624 592C626.5 596.3 630.7 602 632 604" stroke="#eef000"/><path d="M656.2 405.4C654.1 406.3 648.5 408.6 643.7 410.7C639 412.8 633.3 415.4 627.7 417.8C622.1 420.2 615 422.3 609.9 425C604.8 427.7 600.4 430.6 597.4 433.9C594.4 437.2 593.1 440.5 592.1 444.6C591.1 448.8 591.1 453.5 591.2 458.8C591.4 464.1 592.3 469.7 593 476.6C593.7 483.5 594.1 493.6 595.6 500C597.1 506.4 599.8 510 602 515C604.2 520 606.7 525 609 530C611.3 535 613.7 540 616 545C618.3 550 620.7 555.2 623 560C625.3 564.8 627.7 569.7 630 574C632.3 578.3 635.8 584 637 586" stroke="#e4f000"/><path d="M658.8 414.3C657.2 415.5 653 419 649 421.4C645 423.8 639.5 426.1 634.8 428.5C630.1 430.9 624.5 432.9 620.6 435.6C616.7 438.3 613.7 441.3 611.6 444.6C609.5 447.9 608.9 451.1 608.1 455.2C607.3 459.3 606.9 464.1 606.7 469.5C606.5 474.9 606.5 482.2 606.7 487.3C606.9 492.4 607.1 495.4 608.1 500C609.1 504.6 611.2 510 613 515C614.8 520 616.8 525 619 530C621.2 535 623.7 540.3 626 545C628.3 549.7 630.7 553.8 633 558C635.3 562.2 638.8 568 640 570" stroke="#dcf200"/><path d="M660.6 421.4C659.3 423.2 656 428.8 652.6 432.1C649.2 435.4 644 438.6 640.1 441C636.2 443.4 632.3 443.9 629.5 446.3C626.7 448.7 624.7 451.3 623.2 455.2C621.7 459.1 621.2 464.1 620.6 469.5C620 474.9 619.7 482.2 619.7 487.3C619.7 492.4 619.9 495.4 620.6 500C621.3 504.6 622.6 510 624 515C625.4 520 627.2 525 629 530C630.8 535 633 540.5 635 545C637 549.5 640 555 641 557" stroke="#d4f400"/><path d="M662.4 428.5C661.4 430.6 659 437.1 656.2 441C653.4 444.9 648.8 448.4 645.5 451.7C642.2 455 638.7 457.1 636.6 460.6C634.5 464.2 633.9 467.9 633 473C632.1 478.1 631.5 486.4 631.2 490.9C630.9 495.4 630.7 496 631.2 500C631.7 504 632.9 510 634 515C635.1 520 636.5 525.5 638 530C639.5 534.5 642.2 540 643 542" stroke="#ccf600"/><path d="M664.2 437.4C663.2 439.8 660.2 447.5 658 451.7C655.8 455.9 652.9 458.8 650.8 462.4C648.7 465.9 646.8 468.9 645.5 473C644.2 477.1 643.4 482.8 642.8 487.3C642.2 491.8 641.8 495.4 641.9 500C642 504.6 642.7 510.3 643.5 515C644.3 519.7 646 525.8 646.5 528" stroke="#c4f800"/><path d="M665.1 446.3C664.5 448.7 663 456.2 661.5 460.6C660 465.1 657.7 468.6 656.2 473C654.7 477.4 653.5 482 652.6 487.3C651.7 492.6 651 500.3 650.8 504.9C650.6 509.5 651.4 513.3 651.5 515" stroke="#b8fa00"/><path d="M666.5 400C666.4 406.7 666.2 426.7 666 440C665.8 453.3 665.7 467.5 665.5 480C665.3 492.5 665.1 509.2 665 515" stroke="#a8fc00"/></g><g stroke-width="1.1" fill="none" stroke-linecap="round"><path d="M625.3 606.8l3.4 -1.4" stroke="#c8f000"/><path d="M645.9 630.2l3.6 -0.3" stroke="#b8f400"/><path d="M667.8 602l1.8 2.9" stroke="#b8f400"/><path d="M663.8 596.9l0.5 -4" stroke="#b8f400"/><path d="M654.5 609.8l2.1 -1.4" stroke="#d4ee00"/><path d="M638.5 618l1.7 3.6" stroke="#a8f800"/><path d="M634.1 623.3l4.3 -0.7" stroke="#d4ee00"/><path d="M624.2 633.8l3.7 -0.7" stroke="#d4ee00"/><path d="M635.6 625.4l3.5 0.8" stroke="#a8f800"/><path d="M644.7 629.9l3.7 2.3" stroke="#d4ee00"/><path d="M621.1 627.1l0.8 4.2" stroke="#c8f000"/><path d="M652 585.4l2 3.1" stroke="#d4ee00"/><path d="M619 602.8l3.2 1.4" stroke="#d4ee00"/><path d="M656.8 598.2l1.5 -2.7" stroke="#a8f800"/><path d="M652.2 593.1l1.9 4.1" stroke="#b8f400"/><path d="M616.3 610.4l0.5 -2.9" stroke="#a8f800"/><path d="M628.3 588.8l3.8 2.4" stroke="#d4ee00"/><path d="M629.6 633.4l1.2 3" stroke="#a8f800"/><path d="M660.7 596.6l1.8 3.4" stroke="#c8f000"/><path d="M646.7 632.2l3.4 0.1" stroke="#b8f400"/><path d="M664.4 599.9l2.3 -2.1" stroke="#d4ee00"/><path d="M612.6 598.5l2.5 0.6" stroke="#b8f400"/><path d="M615.4 612.1l3.8 -0.4" stroke="#d4ee00"/><path d="M646.1 589.8l3.7 -0.1" stroke="#c8f000"/><path d="M637.6 609.9l2.8 -1.7" stroke="#d4ee00"/><path d="M626.8 622.4l1.6 -3.8" stroke="#b8f400"/><path d="M629.4 586.1l1.8 2.4" stroke="#b8f400"/><path d="M650 613.6l1.3 -3.5" stroke="#d4ee00"/><path d="M649.8 586.3l2.6 3.5" stroke="#c8f000"/><path d="M630.9 613.6l1.4 3.1" stroke="#b8f400"/><path d="M665.6 592.1l1.9 3.1" stroke="#d4ee00"/><path d="M631 625l1.2 -3.5" stroke="#b8f400"/><path d="M635.6 605.1l1.7 3" stroke="#a8f800"/><path d="M628.3 608.3l0.6 -3.3" stroke="#b8f400"/><path d="M636.3 632.9l0.8 2.8" stroke="#a8f800"/><path d="M658.9 614.4l3.1 0.2" stroke="#d4ee00"/><path d="M618.7 587.6l0.7 -4" stroke="#b8f400"/><path d="M653.7 582.9l3.2 -2.2" stroke="#a8f800"/><path d="M666.4 606.6l1.6 2.1" stroke="#b8f400"/><path d="M623.1 606.2l1.7 2.3" stroke="#d4ee00"/><path d="M647.2 627.2l0.7 -3" stroke="#d4ee00"/><path d="M646.6 605.2l0.7 -3.1" stroke="#c8f000"/><path d="M651.9 604.9l2.8 -0.1" stroke="#c8f000"/><path d="M631.7 613.4l3.1 0.8" stroke="#b8f400"/><path d="M667.3 599.4l1.1 -2.3" stroke="#a8f800"/><path d="M656.5 608.2l0.7 -3.4" stroke="#a8f800"/><path d="M665.9 513.6l-0 3.3" stroke="#d0f000"/><path d="M663 436.6l0.4 4.2" stroke="#c8f400"/><path d="M657.7 432.4l-0.2 2.6" stroke="#98fc00"/><path d="M661.5 568.1l0.2 3.2" stroke="#d0f000"/><path d="M660.8 576.4l0.2 4.6" stroke="#d0f000"/><path d="M658.8 535l-0 2.8" stroke="#c8f400"/><path d="M661.1 434.7l0.2 3.8" stroke="#c8f400"/><path d="M666.7 462.9l-0.6 3.4" stroke="#c8f400"/><path d="M662.3 410.4l0.1 4.2" stroke="#98fc00"/><path d="M652.4 548.1l-0.5 4.4" stroke="#b0f800"/><path d="M663.2 538.1l0.4 2.7" stroke="#98fc00"/><path d="M657 423.5l-0.1 5" stroke="#b0f800"/><path d="M663.3 528.2l0.5 3.1" stroke="#d0f000"/><path d="M668.6 499.3l0.6 3.4" stroke="#b0f800"/><path d="M665.7 470.3l-0.4 2.9" stroke="#d0f000"/><path d="M667.5 468l0.3 2.9" stroke="#d0f000"/><path d="M658.2 571.8l-0.4 3.6" stroke="#b0f800"/><path d="M653.8 538.7l0.4 3.8" stroke="#b0f800"/><path d="M666.1 495.6l0.1 4.2" stroke="#d0f000"/><path d="M668.8 504.9l-0.6 4.7" stroke="#98fc00"/><path d="M661 483.8l-0.3 2.9" stroke="#98fc00"/><path d="M667.2 484.4l0.2 3.5" stroke="#d0f000"/><path d="M663.5 428.6l-0 4.8" stroke="#c8f400"/><path d="M662.3 532.4l-0 3.5" stroke="#c8f400"/><path d="M659.1 433.4l0.6 4.3" stroke="#c8f400"/><path d="M654.9 559.2l-0.4 3" stroke="#98fc00"/><path d="M664.8 512.5l-0.4 2.6" stroke="#98fc00"/><path d="M658.4 396.2l-0.5 2.7" stroke="#c8f400"/><path d="M667.9 440.4l0.1 2.6" stroke="#d0f000"/><path d="M652.1 523.3l-0.1 3.3" stroke="#d0f000"/><path d="M664.4 402.9l-0.1 4.4" stroke="#d0f000"/><path d="M657.5 496.8l-0.5 3.2" stroke="#d0f000"/><path d="M662.9 565.9l0.2 2.7" stroke="#98fc00"/><path d="M661.9 461.4l-0.5 4.2" stroke="#98fc00"/><path d="M656.1 577.5l0.2 3.9" stroke="#c8f400"/><path d="M656.8 489.7l0.2 3.2" stroke="#b0f800"/><path d="M653.8 534.3l-0.5 3.4" stroke="#d0f000"/><path d="M653.7 574.9l0.1 3.3" stroke="#d0f000"/><path d="M657.5 517.6l0.2 3.3" stroke="#b0f800"/><path d="M658.4 408.8l-0.2 3.9" stroke="#d0f000"/><path d="M661 440.7l-0 4.7" stroke="#c8f400"/><path d="M665 441.8l0.5 3.8" stroke="#98fc00"/><path d="M666.5 477.5l0.4 2.7" stroke="#d0f000"/><path d="M659.5 409.8l0.1 2.7" stroke="#c8f400"/><path d="M653.3 570.5l0.2 4.2" stroke="#d0f000"/><path d="M668.8 466l0.4 2.8" stroke="#b0f800"/><path d="M658.5 548l-0.4 2.9" stroke="#b0f800"/><path d="M666.2 437.6l0.5 2.6" stroke="#d0f000"/><path d="M656.6 578.4l0.2 3.9" stroke="#98fc00"/><path d="M660.2 584l-0.6 3.2" stroke="#d0f000"/><path d="M664.2 425.6l-0 2.8" stroke="#b0f800"/><path d="M662 492.7l-0.6 3" stroke="#b0f800"/><path d="M664.4 488l0.6 3.6" stroke="#98fc00"/><path d="M653.6 566.9l-0.6 4.5" stroke="#c8f400"/><path d="M662.6 511.8l0.5 3.7" stroke="#c8f400"/><path d="M667.3 452.3l-0.5 4.2" stroke="#b0f800"/><path d="M661.3 556.2l0.3 2.6" stroke="#c8f400"/><path d="M666.5 456.4l-0.1 4.8" stroke="#b0f800"/><path d="M657.8 539.7l-0.1 2.8" stroke="#c8f400"/><path d="M660.5 557.5l0.2 3.5" stroke="#d0f000"/><path d="M661.5 495.5l-0.6 4.1" stroke="#98fc00"/><path d="M665 479.4l0.5 3.6" stroke="#d0f000"/><path d="M656.4 532.2l0.1 3.4" stroke="#98fc00"/><path d="M656 432.3l-0.4 3" stroke="#98fc00"/><path d="M658.5 479.8l0.1 3" stroke="#b0f800"/><path d="M664.3 488.6l-0.1 2.8" stroke="#b0f800"/><path d="M666.9 424.4l-0.1 3.5" stroke="#98fc00"/><path d="M652.6 528.9l-0 3.5" stroke="#d0f000"/><path d="M662.6 570.3l-0 3.1" stroke="#d0f000"/><path d="M664.1 420.4l0.1 3.4" stroke="#c8f400"/><path d="M655.5 549.9l0.3 5" stroke="#d0f000"/><path d="M657.9 580.9l0.4 3.9" stroke="#c8f400"/><path d="M660.5 513.9l0.6 2.7" stroke="#d0f000"/><path d="M656 506.5l-0.6 2.6" stroke="#c8f400"/><path d="M662.3 488.5l-0.4 3" stroke="#98fc00"/><path d="M657.7 583.4l0.5 4.5" stroke="#98fc00"/><path d="M660 394.1l-0.5 4" stroke="#d0f000"/><path d="M667 446.3l0.1 2.8" stroke="#d0f000"/><path d="M666.1 495.3l0.4 3.5" stroke="#d0f000"/><path d="M668 498.7l-0.1 3.4" stroke="#d0f000"/><path d="M665.1 476.7l0 3.4" stroke="#b0f800"/><path d="M663 538.8l-0.5 4.2" stroke="#d0f000"/><path d="M665.8 421.8l0.3 4.6" stroke="#c8f400"/><path d="M653.2 523.6l0.5 3.1" stroke="#c8f400"/><path d="M657.4 562.9l0.6 4.7" stroke="#98fc00"/><path d="M658.5 387.5l-0.2 4.5" stroke="#c8f400"/><path d="M661.9 449.9l-0.3 4.6" stroke="#b0f800"/><path d="M658 397l-0.5 4.1" stroke="#c8f400"/><path d="M658.7 445.1l0 4.6" stroke="#d0f000"/><path d="M655.8 569.9l-0 4.7" stroke="#b0f800"/><path d="M656.5 512.6l0.4 4.5" stroke="#c8f400"/><path d="M668.3 407.6l-0 3.1" stroke="#c8f400"/><path d="M666.8 432.1l0.3 4" stroke="#d0f000"/><path d="M656.2 562.8l0.3 4" stroke="#d0f000"/><path d="M668.3 446l-0.4 3.6" stroke="#d0f000"/><path d="M662 495.8l-0.2 4.3" stroke="#c8f400"/><path d="M665.8 425.8l-0.1 4.8" stroke="#98fc00"/><path d="M659.3 517.8l0.4 3" stroke="#98fc00"/><path d="M659.1 399.8l-0.3 3.6" stroke="#98fc00"/><path d="M668.1 420.5l0.5 4.3" stroke="#d0f000"/><path d="M661.4 495.1l-0 4.9" stroke="#d0f000"/><path d="M656.9 543l-0.2 5" stroke="#c8f400"/><path d="M654.2 575.4l-0.2 2.7" stroke="#b0f800"/><path d="M664.3 491.8l-0.3 2.6" stroke="#b0f800"/><path d="M660.5 474.3l-0.4 4.4" stroke="#98fc00"/><path d="M667.8 476.6l-0.4 3.6" stroke="#b0f800"/><path d="M660.4 540.8l0.5 4.9" stroke="#98fc00"/><path d="M668.2 474.1l-0.2 3.7" stroke="#b0f800"/><path d="M655.4 559l0.4 3.7" stroke="#98fc00"/><path d="M659.2 447.1l-0.6 4.5" stroke="#c8f400"/><path d="M657.9 513.9l-0.6 2.6" stroke="#c8f400"/><path d="M661.5 585.4l0.6 3.4" stroke="#98fc00"/><path d="M658.4 394.3l0.5 2.5" stroke="#d0f000"/><path d="M659.2 555.5l-0.2 4.5" stroke="#d0f000"/><path d="M666.4 437l-0.2 3.5" stroke="#98fc00"/><path d="M656.5 393.1l0.5 5" stroke="#b0f800"/><path d="M655 550.1l0 2.8" stroke="#d0f000"/><path d="M658.6 554.6l-0.5 3.2" stroke="#b0f800"/><path d="M656.8 485.1l-0 4.5" stroke="#d0f000"/><path d="M663.1 521.3l-0.2 4.5" stroke="#d0f000"/><path d="M659.8 514.5l0.6 2.7" stroke="#b0f800"/><path d="M661.3 497.4l-0.3 3.4" stroke="#d0f000"/><path d="M659.7 438.7l-0.4 3.8" stroke="#98fc00"/><path d="M662.3 394.8l0.5 3.1" stroke="#d0f000"/><path d="M656.4 510.6l-0 3.9" stroke="#c8f400"/><path d="M665.2 443.6l-0.1 4.8" stroke="#c8f400"/><path d="M656.4 402.5l-0.4 3.7" stroke="#d0f000"/><path d="M654.2 572.7l-0.2 3.5" stroke="#d0f000"/><path d="M668.3 441.8l0.1 4.9" stroke="#98fc00"/><path d="M656.5 499l0.6 3.5" stroke="#d0f000"/><path d="M659 403.1l0.2 3" stroke="#c8f400"/><path d="M664.2 410.4l0.5 2.8" stroke="#c8f400"/><path d="M660.3 583.5l-0 3.6" stroke="#d0f000"/><path d="M663.3 445.5l0.5 2.9" stroke="#d0f000"/><path d="M667.8 416.2l0.2 2.9" stroke="#d0f000"/><path d="M657.8 517.5l-0.2 2.6" stroke="#b0f800"/><path d="M653.6 517.9l0 2.9" stroke="#b0f800"/><path d="M657.4 464.2l-0.3 3.5" stroke="#c8f400"/><path d="M657.9 413.6l0.5 2.8" stroke="#98fc00"/><path d="M668.1 508.8l0.6 2.5" stroke="#98fc00"/><path d="M655 584.6l-0.5 3.4" stroke="#d0f000"/><path d="M657.7 557.8l0.1 4.3" stroke="#d0f000"/><path d="M663 480.7l0.4 3.6" stroke="#d0f000"/><path d="M663.7 427.6l-0.2 4.8" stroke="#b0f800"/><path d="M663.5 560.2l-0.4 3.3" stroke="#b0f800"/><path d="M656.7 508.8l-0.5 4" stroke="#b0f800"/><path d="M667.3 390l0 4.5" stroke="#98fc00"/><path d="M653.1 541.5l-0.2 3.9" stroke="#d0f000"/><path d="M658.8 506.1l0.2 3.6" stroke="#98fc00"/><path d="M665.1 506.3l0.4 4.4" stroke="#98fc00"/><path d="M655.4 555.4l-0.4 4.9" stroke="#98fc00"/><path d="M658.9 508.5l-0.3 5" stroke="#b0f800"/><path d="M657.4 582l0.6 3.7" stroke="#b0f800"/><path d="M661.7 493.6l-0.1 4" stroke="#c8f400"/><path d="M663.9 498l0.4 3.2" stroke="#b0f800"/><path d="M668.8 464.5l-0.5 3.4" stroke="#b0f800"/><path d="M657.5 486.7l0.3 4.3" stroke="#d0f000"/><path d="M659.9 460l-0.1 3.8" stroke="#d0f000"/><path d="M660.2 570.1l-0.4 2.8" stroke="#d0f000"/><path d="M660.8 431.5l0.5 4" stroke="#b0f800"/><path d="M661.7 429.3l0 3" stroke="#c8f400"/><path d="M658.4 572.8l-0.1 4.3" stroke="#b0f800"/><path d="M653.4 524.7l-0.3 4.7" stroke="#d0f000"/><path d="M660 415.2l0.4 3.9" stroke="#c8f400"/><path d="M657.1 507.8l-0.1 2.6" stroke="#98fc00"/><path d="M668.8 485.9l-0.1 3.7" stroke="#b0f800"/><path d="M661.6 490.3l-0.1 4.1" stroke="#98fc00"/><path d="M668.7 406.7l-0.5 4.2" stroke="#c8f400"/><path d="M661 563.9l-0.2 3.3" stroke="#c8f400"/><path d="M659.6 571.1l0.2 2.7" stroke="#98fc00"/></g><defs><linearGradient id="gRd3" x1="0" y1="0" x2="1" y2="0"><stop offset="0" stop-color="#70ff00"/><stop offset="0.3" stop-color="#30f800"/><stop offset="0.55" stop-color="#00f030"/><stop offset="0.75" stop-color="#00e880"/><stop offset="1" stop-color="#00e060"/></linearGradient><linearGradient id="gCd3" x1="0" y1="0" x2="0" y2="1"><stop offset="0" stop-color="#0030ff"/><stop offset="0.45" stop-color="#0060ff"/><stop offset="0.75" stop-color="#00b0ff"/><stop offset="1" stop-color="#00f0ff"/></linearGradient></defs><path d="M670.4 385.7C670.4 392.8 670.2 413.2 670.1 428.5C670 443.8 670.1 466.5 669.6 477.4C669.1 488.3 667.9 488.9 667.2 494C666.5 499.1 665.1 505.8 665.6 508C666.1 510.2 668.7 509.3 670.1 507.5C671.5 505.7 672.1 501 673.8 497C675.5 493 679.2 485.8 680.5 483.6C681.8 481.4 681.3 499.9 681.5 483.6C681.7 467.3 681.5 402 681.5 385.7Z" fill="url(#gRd3)" opacity="0.92"/><path d="M667.2 386.7C667.2 399.2 669.5 434.8 666.9 461.8C664.3 488.7 654.5 527.5 651.5 548.7C648.5 569.9 649.8 579.9 649.1 589C648.4 598.1 647 600.8 647.5 603C648 605.2 649 605 652 602.5C655 600 660.9 593.3 665.6 587.7C670.4 582.1 678 572.1 680.5 569" stroke="#a8f400" stroke-width="1.25" fill="none"/><path d="M667.6 386.7C667.6 398.9 669.6 433.6 667.3 460C665 486.4 656.4 524.3 653.8 544.9C651.1 565.6 652.1 575.2 651.4 584C650.7 592.8 649.3 595.8 649.8 598C650.3 600.2 651.5 600 654.3 597.5C657.1 595 662.3 588.6 666.7 583.2C671.1 577.9 678.2 568.2 680.5 565.2" stroke="#90f600" stroke-width="1.25" fill="none"/><path d="M668 386.7C668 398.5 669.6 432.1 667.7 457.6C665.8 483 658.7 519.8 656.4 539.7C654.1 559.6 654.7 568.4 654 577C653.3 585.6 651.9 588.8 652.4 591C652.9 593.2 654.3 592.9 656.9 590.5C659.5 588.1 663.9 582 667.9 576.8C671.8 571.6 678.4 562.3 680.5 559.4" stroke="#70f600" stroke-width="1.25" fill="none"/><path d="M668.4 386.7C668.4 398 669.7 430 668.1 454.4C666.5 478.8 660.9 514 659 532.9C657.1 551.9 657.3 559.8 656.6 568C655.9 576.2 654.5 579.8 655 582C655.5 584.2 657.2 583.8 659.5 581.5C661.8 579.2 665.5 573.3 669 568.3C672.5 563.3 678.6 554.4 680.5 551.6" stroke="#48f200" stroke-width="1.25" fill="none"/><path d="M668.8 386.7C668.8 397.3 669.8 427.6 668.5 450.6C667.2 473.5 662.6 506.9 661 524.7C659.4 542.4 659.3 549.3 658.6 557C657.9 564.7 656.5 568.8 657 571C657.5 573.2 659.3 572.7 661.5 570.5C663.7 568.3 666.8 562.6 669.9 557.9C673.1 553.1 678.7 544.5 680.5 541.8" stroke="#20ee00" stroke-width="1.25" fill="none"/><path d="M669.2 386.7C669.2 396.6 669.9 424.6 668.9 446C667.9 467.4 664.4 498.6 663 514.9C661.6 531.3 661.3 536.8 660.6 544C659.9 551.2 658.5 555.8 659 558C659.5 560.2 661.5 559.6 663.5 557.5C665.5 555.4 668 550 670.8 545.4C673.7 540.8 678.9 532.6 680.5 530" stroke="#00ea10" stroke-width="1.25" fill="none"/><path d="M669.6 386.7C669.6 395.7 670.1 421.4 669.3 440.9C668.5 460.5 666.1 489.3 665 504C663.9 518.8 663.3 522.9 662.6 529.5C661.9 536.1 660.5 541.2 661 543.5C661.5 545.8 663.7 545 665.5 543C667.3 541 669.2 535.8 671.7 531.4C674.2 527.1 679 519.2 680.5 516.7" stroke="#00e830" stroke-width="1.25" fill="none"/><path d="M670 386.7C670 394.7 670.2 417.4 669.7 434.8C669.2 452.2 667.9 478.1 667 490.9C666.1 503.8 665.3 506.2 664.6 512C663.9 517.8 662.5 523.8 663 526C663.5 528.2 665.9 527.4 667.5 525.5C669.1 523.6 670.5 518.7 672.6 514.5C674.8 510.3 679.2 502.7 680.5 500.4" stroke="#00e850" stroke-width="1.25" fill="none"/><path d="M670.4 386.7C670.4 393.7 670.2 413.4 670.1 428.5C670 443.6 670.1 466.5 669.6 477.4C669.1 488.3 667.9 488.9 667.2 494C666.5 499.1 665.1 505.8 665.6 508C666.1 510.2 668.7 509.3 670.1 507.5C671.5 505.7 672.1 501 673.8 497C675.5 493 679.4 485.8 680.5 483.6" stroke="#00e860" stroke-width="1.25" fill="none"/><path d="M670.8 386.7C670.8 392.6 670.6 409.3 670.5 422.2C670.5 435.1 670.8 455 670.5 463.9C670.2 472.9 669.2 471.7 668.6 476C668 480.3 666.5 487.8 667 490C667.5 492.2 670.3 491.2 671.5 489.5C672.7 487.8 672.9 483.3 674.4 479.6C675.9 475.8 679.5 468.9 680.5 466.8" stroke="#00e870" stroke-width="1.25" fill="none"/><path d="M674.6 394.1 C674.6 389.1 679.9 389.1 679.9 394.1 L679.6 487.9 C679.3 517.5 677.3 541.1 677.3 549.1 C677.3 541.1 674.9 517.5 674.6 487.9 Z" fill="#00f4ff"/><path d="M675.5 396.1 C675.5 392.3 678.9 392.3 678.9 396.1 L678.6 468.2 C678.4 487.9 677.4 504 677.3 510 C677.2 504 676.0 487.9 675.8 468.2 Z" fill="url(#gCd3)"/><path d="M410.3 501.4C410.9 502.1 411.3 506.9 411.5 510C411.7 513.1 411.8 515.8 411.7 520C411.6 524.2 411.6 530.7 411.2 535C410.8 539.3 410.2 543.2 409.5 546C408.8 548.8 407.6 551.7 407 551.5C406.4 551.3 406.2 548.6 406 545C405.8 541.4 405.7 535 405.8 530C405.9 525 406.1 519 406.5 515C406.9 511 407.4 508.3 408 506C408.6 503.7 409.7 500.7 410.3 501.4Z" stroke="#ff4818" stroke-width="1.3" fill="none"/><path d="M411.4 479.8C412.4 479.5 412.6 484.6 413 488C413.4 491.4 413.7 494.7 414 500C414.3 505.3 414.6 514.2 414.6 520C414.6 525.8 414.6 530.3 414.2 535C413.8 539.7 413.4 544.2 412.5 548C411.6 551.8 410.1 555.5 409 558C407.9 560.5 406.5 563.7 405.8 563.2C405.1 562.7 405 560.5 404.8 555C404.6 549.5 404.7 538.3 404.8 530C404.9 521.7 404.8 511.7 405.2 505C405.6 498.3 406 494.2 407 490C408 485.8 410.4 480.1 411.4 479.8Z" stroke="#ff5a1c" stroke-width="1.3" fill="none"/><path d="M413.8 464.6C415.2 464.6 415.6 468.6 416.2 472C416.8 475.4 417 480.3 417.2 485C417.4 489.7 417.4 494.2 417.5 500C417.6 505.8 417.6 513.3 417.5 520C417.4 526.7 417.5 534.2 417 540C416.5 545.8 415.8 550.8 414.5 555C413.2 559.2 411.1 562.5 409.5 565C407.9 567.5 405.6 571 404.7 570.2C403.8 569.4 404.3 568.4 404.2 560C404.1 551.6 403.9 531.7 404 520C404.1 508.3 403.9 498 404.5 490C405.1 482 405.9 476.2 407.5 472C409.1 467.8 412.4 464.6 413.8 464.6Z" stroke="#ff6420" stroke-width="1.3" fill="none"/><path d="M416.1 450.6C417.4 451.1 418.3 453.8 419 457C419.7 460.2 420.2 465.3 420.5 470C420.8 474.7 420.9 480 421 485C421.1 490 421.1 494.2 421 500C420.9 505.8 420.6 513.3 420.4 520C420.2 526.7 420.4 533.8 420 540C419.6 546.2 419.4 552.2 418.3 557C417.2 561.8 415.3 566.1 413.6 569C411.9 571.9 409.5 573.3 408 574.5C406.5 575.7 405.3 580.1 404.7 576C404.1 571.9 404.4 559.3 404.4 550C404.4 540.7 404.5 529.2 404.7 520C404.9 510.8 405 502.5 405.3 495C405.6 487.5 406 480.5 406.5 475C407 469.5 407.7 465.5 408.5 462C409.3 458.5 410.2 455.9 411.5 454C412.8 452.1 414.9 450.1 416.1 450.6Z" stroke="#ff6c20" stroke-width="1.3" fill="none"/><path d="M418.4 438.3C419.9 438.8 421.1 441.2 422 444C422.9 446.8 423.2 450.7 423.5 455C423.8 459.3 423.9 465 424 470C424.1 475 424 480 424 485C424 490 423.9 494.2 423.9 500C423.9 505.8 423.9 513.3 423.9 520C423.8 526.7 423.8 533.7 423.6 540C423.4 546.3 423.3 552.6 422.5 558C421.7 563.4 420.9 569 418.7 572.6C416.5 576.2 411.7 578.1 409.3 579.6C406.9 581.1 404.9 585.2 404.1 581.9C403.3 578.6 404.2 570.3 404.3 560C404.4 549.7 404.6 531.7 404.8 520C405 508.3 405.2 498 405.5 490C405.8 482 406.1 477.3 406.5 472C406.9 466.7 407.4 462 408 458C408.6 454 409.2 450.8 410 448C410.8 445.2 411.6 442.6 413 441C414.4 439.4 416.9 437.8 418.4 438.3Z" stroke="#ff7420" stroke-width="1.3" fill="none"/><path d="M421.4 426.6C422.8 426.4 422.8 426.6 423.5 428C424.2 429.4 425 431.3 425.5 435C426 438.7 426.2 444.2 426.5 450C426.8 455.8 426.9 463.3 427 470C427.1 476.7 427.1 481.7 427.2 490C427.3 498.3 427.4 511.7 427.4 520C427.4 528.3 427.4 532.2 427.4 540C427.4 547.8 428.1 560.5 427.4 566.7C426.7 572.9 425.6 574.5 423.4 577.2C421.2 579.9 417.2 581.5 414 583.1C410.8 584.7 405.7 589.6 404.1 586.6C402.5 583.6 404.1 574.4 404.2 565C404.3 555.6 404.4 540.8 404.6 530C404.8 519.2 405 508.7 405.3 500C405.6 491.3 405.9 484.7 406.3 478C406.7 471.3 407.1 465.3 407.6 460C408.1 454.7 408.7 450 409.3 446C409.9 442 410.6 438.8 411.5 436C412.4 433.2 413.4 430.6 415 429C416.6 427.4 420 426.8 421.4 426.6Z" stroke="#ff7c20" stroke-width="1.3" fill="none"/><path d="M422.5 416.5C423.9 416.5 424.1 416.8 425 418C425.9 419.2 427.2 420.3 428 424C428.8 427.7 429.5 434 430 440C430.5 446 430.6 452.7 430.8 460C431 467.3 431 474 431 484C431 494 430.9 510.7 430.9 520C430.9 529.3 430.8 531.8 430.9 540C431 548.2 432 562.4 431.5 569C431 575.6 429.8 577 428 579.5C426.2 582 424.1 582.8 421 584.2C417.9 585.6 412.1 586.8 409.3 587.7C406.5 588.6 405 591.6 404.1 589.5C403.2 587.4 404 583.2 404.1 575C404.2 566.8 404.3 551.7 404.5 540C404.7 528.3 404.9 515 405.1 505C405.4 495 405.6 487.2 406 480C406.4 472.8 406.8 467.5 407.2 462C407.6 456.5 408.1 451.7 408.7 447C409.2 442.3 409.8 437.8 410.5 434C411.2 430.2 411.8 426.7 412.8 424C413.8 421.3 414.9 419.2 416.5 418C418.1 416.8 421.1 416.5 422.5 416.5Z" stroke="#ff8420" stroke-width="1.3" fill="none"/><path d="M423.7 408.3C425.2 408.1 425 407.6 426 408.5C427 409.4 428.4 410.6 429.5 413.5C430.6 416.4 431.8 420.8 432.5 426C433.2 431.2 433.7 437.7 434 445C434.3 452.3 434.2 460.8 434.3 470C434.4 479.2 434.4 491.7 434.5 500C434.6 508.3 434.9 513.3 435 520C435.1 526.7 435 531.2 435 540C435 548.8 435.4 565 435 572.6C434.6 580.2 434.2 582.8 432.7 585.4C431.1 588 428.6 587.6 425.7 588.3C422.8 589 418.8 589 415.2 589.5C411.6 590 405.9 598.1 404.1 591.5C402.3 584.9 404.2 562.8 404.3 550C404.4 537.2 404.6 525.8 404.8 515C405 504.2 405.3 493.5 405.6 485C405.9 476.5 406.3 470.3 406.7 464C407.1 457.7 407.5 452.2 408 447C408.5 441.8 409 437.2 409.5 433C410 428.8 410.5 425.2 411.2 422C411.9 418.8 412.5 416.1 413.5 414C414.5 411.9 415.3 410.4 417 409.5C418.7 408.6 422.2 408.5 423.7 408.3Z" stroke="#ff8e20" stroke-width="1.3" fill="none"/><path d="M423.1 401.5C424.7 401.5 424.6 401.1 426 402.5C427.4 403.9 430 406.4 431.7 409.7C433.4 413 435.2 417.1 436.4 422.5C437.6 427.9 438.2 435.3 438.7 442.4C439.2 449.5 439.1 458.1 439.3 465C439.5 471.9 439.8 478.2 440 484C440.2 489.8 440.6 494 440.8 500C441.1 506 441.5 513.3 441.5 520C441.5 526.7 441.2 533.3 441 540C440.8 546.7 440.7 553 440.5 560C440.3 567 440.4 577.1 439.7 581.9C439 586.7 437.9 587.6 436.2 589C434.4 590.4 431.7 590.2 429.2 590.5C426.7 590.8 423.9 590.2 421 590.5C418.1 590.8 414.4 591.5 411.7 592C409 592.5 405.9 595.8 404.7 593.8C403.5 591.8 404.4 589 404.3 580C404.2 571 404.2 553.3 404.3 540C404.4 526.7 404.5 511.3 404.7 500C404.9 488.7 405.2 480 405.5 472C405.8 464 406.2 458 406.6 452C407 446 407.4 440.8 407.8 436C408.2 431.2 408.7 426.8 409.2 423C409.7 419.2 410.2 415.8 410.8 413C411.4 410.2 412.1 407.8 413 406C413.9 404.2 414.8 403.1 416.5 402.3C418.2 401.6 421.5 401.5 423.1 401.5Z" stroke="#ff9820" stroke-width="1.3" fill="none"/><path d="M421.4 395.7C423.6 396.1 427 397.2 429.3 399.2C431.6 401.1 433.4 404.1 435.2 407.4C437 410.7 438.5 414.1 439.9 419C441.3 423.9 442.5 429.8 443.4 436.6C444.2 443.4 444.5 452.1 445 460C445.5 467.9 445.9 477.3 446.5 484C447.1 490.7 447.9 494 448.5 500C449.1 506 450 512.5 450.2 520C450.4 527.5 449.7 535.8 449.5 545C449.3 554.2 449.1 567.2 449 575C448.9 582.8 449.2 587.4 449 592C448.8 596.6 448.9 600.5 447.9 602.5C446.9 604.5 445.3 604 443.2 603.9C441.1 603.8 437.7 602.7 435 601.8C432.3 600.9 429.8 599.4 426.9 598.3C424 597.2 420.8 595.5 417.5 595C414.2 594.5 409.1 594.8 407 595C404.9 595.2 405.1 600.7 404.7 596.5C404.2 592.3 404.4 582.8 404.3 570C404.2 557.2 404.1 535 404.2 520C404.2 505 404.4 490.8 404.6 480C404.8 469.2 405 462.2 405.3 455C405.6 447.8 405.9 442.3 406.2 437C406.5 431.7 406.9 427.2 407.3 423C407.7 418.8 408.1 415.2 408.6 412C409.1 408.8 409.6 406.2 410.2 404C410.8 401.8 411.5 400.2 412.5 399C413.5 397.8 414.5 397.1 416 396.5C417.5 395.9 419.2 395.2 421.4 395.7Z" stroke="#ffa224" stroke-width="1.3" fill="none"/><path d="M415.5 389.5C419 390.6 419.4 392.1 422.3 393.3C425.2 394.5 429.9 394.9 432.8 396.8C435.7 398.8 437.5 401.6 439.5 405C441.5 408.4 443.3 412.7 445 417C446.7 421.3 448.2 425.5 449.5 430.7C450.8 435.9 451.5 441.6 452.5 448.2C453.5 454.8 454.5 463 455.5 470C456.5 477 457.6 484 458.5 490C459.4 496 460.2 501 461 506C461.8 511 462.6 514.8 463.1 520C463.6 525.2 464.4 530.7 464.2 537.5C464 544.3 462.7 554.1 461.9 560.9C461.1 567.7 459.9 572.6 459.6 578.4C459.3 584.2 459.7 591 460.1 595.9C460.5 600.8 461.8 604.9 461.9 607.6C462 610.3 461.7 611.3 460.7 612.3C459.7 613.3 459.4 613.4 456.1 613.4C452.8 613.4 445.4 612.9 440.9 612.3C436.4 611.7 432.5 611.3 429.2 609.9C425.9 608.5 423.9 605.9 421 604.1C418.1 602.3 414.4 599.9 411.7 599C409 598.1 405.9 605 404.7 598.5C403.5 592 404.4 573.1 404.3 560C404.2 546.9 404.3 533.3 404.4 520C404.5 506.7 404.8 490.8 405 480C405.2 469.2 405.5 462.2 405.8 455C406.1 447.8 406.5 442.5 406.8 437C407.1 431.5 407.5 426.5 407.8 422C408.1 417.5 408.5 413.5 408.5 410C408.5 406.5 408.3 403.7 408 401C407.7 398.3 407.2 396 406.5 394C405.8 392 404.8 390.2 404 389C403.2 387.8 399.6 386.7 401.5 386.8C403.4 386.9 412 388.4 415.5 389.5Z" stroke="#ffac20" stroke-width="1.3" fill="none"/><path d="M427 391C433 392.5 434.8 393.6 437.5 395.7C440.2 397.8 441.6 400.8 443.4 403.9C445.1 407 446.5 410.5 448 414.4C449.5 418.2 451.2 422.7 452.5 427C453.8 431.3 454.8 435.3 456 440C457.2 444.7 458.6 450 460 455C461.4 460 462.8 465 464.5 470C466.2 475 468.1 479.9 470 485C471.9 490.1 474.4 495.7 475.7 500.7C477 505.7 477.2 510.4 478 515C478.8 519.5 479 522.7 480.5 528C482 533.3 485.8 541.5 487.2 547C488.6 552.5 489 557 488.9 561.1C488.8 565.2 488.2 568.1 486.3 571.6C484.4 575.1 479.7 578 477.5 582.1C475.3 586.2 473.7 590.9 473.1 596.1C472.5 601.4 474.4 609.8 474 613.6C473.6 617.4 472.8 617.9 470.5 618.9C468.2 619.9 464.8 619.9 460 619.8C455.2 619.7 448.5 619.2 441.8 618.1C435.1 617 425.7 614.8 419.9 613C414.1 611.2 409.4 610.2 406.8 607.2C404.2 604.2 405 604.5 404.5 595C404 585.5 404.1 565.8 404 550C403.9 534.2 404 514.2 404.1 500C404.2 485.8 404.3 475 404.5 465C404.7 455 404.9 447.2 405.2 440C405.4 432.8 405.8 427.3 406 422C406.2 416.7 406.6 412 406.6 408C406.7 404 406.5 400.7 406.3 398C406.1 395.3 405.7 393.6 405.2 392C404.7 390.4 403.9 389.4 403.3 388.5C402.7 387.6 397.4 386.2 401.3 386.6C405.2 387 421 389.5 427 391Z" stroke="#ffb41c" stroke-width="1.3" fill="none"/><path d="M431.7 389.8C438.5 391.2 439.7 392.6 442.2 394.5C444.7 396.4 445.3 398.8 446.9 401.5C448.4 404.2 449.9 407.4 451.5 410.9C453.1 414.4 454.8 418.1 456.2 422.5C457.6 426.9 458.4 432.4 460 437C461.6 441.6 463.6 445.5 465.5 450C467.4 454.5 469.4 459.7 471.5 464C473.6 468.3 475.8 472 478 476C480.2 480 482.7 484.2 485 488C487.3 491.8 489.8 494.5 492 499C494.2 503.5 496.7 510.2 498.5 515C500.3 519.8 501.5 523.8 503 528C504.5 532.2 505.4 535.1 507.3 540C509.2 544.9 512 551.8 514.3 557.6C516.6 563.5 520.1 570.4 521.3 575.1C522.5 579.8 522.8 583 521.3 585.6C519.8 588.2 516.4 589 512.6 590.8C508.8 592.5 502.1 594 498.5 596.1C494.9 598.2 492.4 600.2 490.7 603.1C488.9 606 488.7 610.7 488 613.6C487.3 616.5 488.1 618.9 486.3 620.6C484.6 622.4 481.9 623.6 477.5 624.1C473.1 624.6 468.4 623.8 460 623.5C451.6 623.2 435.1 623.8 427.2 622.5C419.3 621.2 416.3 618.8 412.6 615.9C408.9 613 406.5 611 405 605C403.5 599 403.8 592.5 403.5 580C403.2 567.5 403.3 546.7 403.3 530C403.3 513.3 403.3 494.2 403.4 480C403.5 465.8 403.6 454.7 403.8 445C404 435.3 404.2 428.3 404.3 422C404.4 415.7 404.7 411.2 404.7 407C404.7 402.8 404.6 399.7 404.5 397C404.4 394.3 404.1 392.5 403.8 391C403.5 389.5 403 388.8 402.6 388C402.2 387.2 396.4 386.1 401.2 386.4C406 386.7 424.9 388.4 431.7 389.8Z" stroke="#ffbe18" stroke-width="1.3" fill="none"/><path d="M437.5 389.8C445.1 391 444.4 391.5 446.9 393.3C449.4 395.1 450.9 397.7 452.7 400.4C454.4 403.1 455.8 406.6 457.4 409.7C458.9 412.8 460.4 415.7 462 419C463.6 422.3 464.7 425.2 467 429.6C469.3 434 472.6 440.1 475.8 445.3C479 450.6 482.8 456.1 486.3 461.1C489.8 466.1 493.6 470.4 496.8 475.1C500 479.8 502.9 484.4 505.5 489.1C508.1 493.8 510.6 498 512.6 503.1C514.6 508.2 515.5 513.9 517.8 520C520.1 526.1 523.7 533.7 526.6 540C529.5 546.3 532.1 551.8 535.3 557.6C538.5 563.5 542.3 569.3 545.8 575.1C549.3 580.9 553.3 587.1 556.4 592.6C559.5 598.1 563 605 564.2 608.4C565.4 611.8 566.2 611.7 563.4 612.7C560.6 613.7 553.1 614.4 547.6 614.5C542.1 614.6 535.1 613.1 530.1 613.3C525.1 613.4 521.3 614.2 517.8 615.4C514.3 616.6 512 619 509.1 620.6C506.2 622.2 505.6 624.1 500.3 625C495 625.9 487.6 625.7 477.5 625.9C467.4 626.1 450.4 626.6 440 626C429.6 625.4 421 624.3 415 622C409 619.7 406 617.3 404 612C402 606.7 403.1 603.7 402.8 590C402.6 576.3 402.5 550 402.5 530C402.5 510 402.5 486.7 402.6 470C402.7 453.3 402.8 440 402.9 430C403 420 403.1 415.7 403.2 410C403.2 404.3 403.3 399.3 403.2 396C403.1 392.7 403 391.4 402.8 390C402.6 388.6 402.3 388.1 402 387.5C401.7 386.9 395.2 385.9 401.1 386.3C407 386.7 429.9 388.6 437.5 389.8Z" stroke="#ffc814" stroke-width="1.3" fill="none"/><path d="M401 386.2C408.1 384.4 434.6 388.5 443.4 389.5C452.2 390.5 451.2 390.8 453.9 392.2C456.6 393.6 457.9 395.7 459.7 398C461.4 400.3 462.6 403.1 464.4 406.2C466.1 409.3 468 413.7 470.2 416.7C472.4 419.7 474.5 420.7 477.5 424.3C480.5 427.9 484.5 433.6 488 438.3C491.5 443 495 447.9 498.5 452.3C502 456.7 505.9 460.5 509.1 464.6C512.3 468.7 515.2 472.8 517.8 476.9C520.4 481 522.8 484.7 524.8 489.1C526.8 493.5 528.4 498 530.1 503.1C531.8 508.2 533 515.2 535 520C537 524.8 539.5 527.8 542 532C544.5 536.2 547.3 540.7 550 545C552.7 549.3 555.3 553.8 558 558C560.7 562.2 563.2 566 566 570C568.8 574 571.7 577.8 575 582C578.3 586.2 582.9 590.9 586 595C589.1 599.1 591.6 602.5 593.8 606.9C596 611.2 598.9 617.5 599.2 621.1C599.5 624.7 599.2 626.6 595.6 628.2C592 629.8 583.7 630.5 577.8 630.9C571.9 631.3 568 631.1 560 630.9C552 630.7 540.8 630.2 530 629.8C519.2 629.4 506.7 628.7 495 628.3C483.3 627.9 471.7 627.7 460 627.5C448.3 627.3 432 627.3 425 627C418 626.7 419.8 626.8 418 625.5C416.2 624.2 415.8 621.4 414.5 619C413.2 616.6 411.8 613.1 410 611C408.2 608.9 405.4 608.3 404 606.5C402.6 604.7 402 617.8 401.5 600C401 582.2 401.1 533.3 401 500C400.9 466.7 401 419 401 400C401 381 393.9 387.9 401 386.2Z" stroke="#ffd40c" stroke-width="1.3" fill="none"/><path d="M401 386C410 384.1 443.5 387.8 455 388.5C466.5 389.2 466.4 389.8 470 390.5C473.6 391.2 475.5 391.6 476.6 392.5C477.7 393.4 476.5 393.6 476.6 395.7C476.7 397.8 476.5 402.3 477.2 405C477.9 407.7 478.9 409.3 480.7 412C482.4 414.7 485 418.5 487.7 421.4C490.4 424.3 493.2 426.5 496.8 429.6C500.4 432.7 505.3 436.3 509.1 440.1C512.9 443.9 516.4 448.2 519.6 452.3C522.8 456.4 525.7 460.2 528.3 464.6C530.9 469 533.2 473.9 535.3 478.6C537.3 483.3 538.9 487.9 540.6 492.6C542.4 497.3 544.3 502 545.8 506.6C547.2 511.2 547.8 516.1 549.3 520C550.8 523.9 552.5 526.7 554.6 530C556.7 533.3 558.3 535.2 561.6 540C564.9 544.8 570 553 574.2 558.8C578.4 564.6 582.5 569.5 586.7 574.8C590.9 580.1 595.9 585.4 599.2 590.8C602.5 596.1 604.5 601.8 606.3 606.9C608.1 612 608.7 617 609.9 621.1C611.1 625.2 613.4 629.6 613.4 631.8C613.4 634 613.9 634 610 634.5C606.1 635 598.3 634.5 590 634.5C581.7 634.5 570 634.3 560 634.2C550 634.1 540.8 634 530 633.8C519.2 633.6 506.7 633.5 495 633C483.3 632.5 471.7 631.4 460 631.1C448.3 630.8 432.2 631.2 425 631C417.8 630.8 418.8 631.2 417 630C415.2 628.8 415 626.5 414 624C413 621.5 412.5 617.4 411 615C409.5 612.6 406.6 611.2 405 609.5C403.4 607.8 402 623.2 401.3 605C400.6 586.8 400.9 534.2 400.8 500C400.7 465.8 400.8 419 400.8 400C400.8 381 392 387.9 401 386Z" stroke="#ffe000" stroke-width="1.3" fill="none"/><path d="M568.6 392.4C565.1 393 554.6 394.2 547.6 395.4C540.6 396.6 532.2 398.4 526.6 399.8C521 401.2 516.6 402.4 514.3 404.1C512 405.9 512.3 407.8 512.6 410.3C512.9 412.8 514.1 415.5 516.1 419C518.1 422.5 521.6 427.2 524.8 431.3C528 435.4 531.8 439.2 535.3 443.6C538.8 448 542.6 452.9 545.8 457.6C549 462.3 552.2 466.9 554.6 471.6C557 476.3 558.4 481.2 559.9 485.6C561.4 490 562.2 493.8 563.4 497.9C564.6 502 565.7 506.7 566.9 510C568.1 513.3 568.9 513.5 570.7 517.8C572.5 522.1 575.1 529.7 577.8 535.6C580.5 541.5 583.7 547.5 586.7 553.4C589.7 559.3 592.6 565.3 595.6 571.2C598.6 577.1 601.8 583 604.5 589C607.2 595 609.8 600.9 611.6 606.9C613.4 612.9 614 619.7 615.2 624.7C616.4 629.7 621.3 634.8 618.8 637.1C616.3 639.4 611.5 638.1 600 638.3C588.5 638.5 570 638.4 550 638.4C530 638.4 500 638.4 480 638.3C460 638.2 440.7 638.2 430 638C419.3 637.8 418.8 638.3 416 637C413.2 635.7 414 632.8 413 630C412 627.2 411.4 622.9 410 620C408.6 617.1 406 614.3 404.5 612.5C403 610.7 401.5 627.8 400.8 609C400.1 590.2 400.5 537.1 400.5 500C400.5 462.9 374 405.1 400.6 386.2C427.2 367.2 532 385.4 560 386.3C588 387.2 567.2 390.9 568.6 391.9C570 392.9 572.1 391.8 568.6 392.4Z" stroke="#ffea00" stroke-width="1.3" fill="none"/><path d="M645.3 639C642.8 637.5 648.2 633.4 650 630.1C651.8 626.8 653.8 622.9 656 619.3C658.2 615.6 660.7 611.7 663 608.4C665.3 605.1 667.8 602.5 670 599.5C672.2 596.5 674.8 591.1 676.5 590.6C678.2 590.1 679.4 592.3 680 596.5C680.6 600.8 680.2 610.7 680.3 616.3C680.3 621.9 680.3 626.3 680.3 630.1C680.3 633.9 682.8 637.5 680.3 639C677.8 640.5 670.8 639.3 665 639.3C659.2 639.3 647.8 640.5 645.3 639Z" stroke="#ffe400" stroke-width="1.0" fill="none"/><path d="M651.5 636.4C649.5 635 653.6 632 654.9 629.3C656.3 626.7 657.8 623.5 659.5 620.5C661.2 617.6 663.2 614.2 665.1 611.5C667 608.8 669.1 606.7 670.9 604.4C672.8 602.1 674.8 598 676.2 597.6C677.6 597.3 678.5 598.9 679.1 602.1C679.7 605.4 679.6 612.6 679.8 617.3C679.9 621.9 680.2 626.6 680.1 630C680.1 633.4 681.9 636.2 679.6 637.4C677.4 638.6 671.2 637.5 666.5 637.3C661.8 637.1 653.4 637.7 651.5 636.4Z" stroke="#ffd800" stroke-width="1.0" fill="none"/><path d="M656.2 634.3C654.7 633.2 657.8 630.9 658.8 628.7C659.8 626.6 660.9 624 662.3 621.5C663.6 619.1 665.2 616.2 666.8 614C668.4 611.8 670.1 610.1 671.6 608.3C673.2 606.5 674.9 603.4 676 603.1C677.1 602.8 677.8 604 678.3 606.6C678.9 609.1 679 614.4 679.2 618.3C679.5 622.2 679.8 626.8 679.8 629.7C679.7 632.7 681 635 679 635.9C677 636.9 671.7 635.8 667.8 635.6C664 635.3 657.7 635.4 656.2 634.3Z" stroke="#ffcc00" stroke-width="1.0" fill="none"/><path d="M660.3 632.5C659.1 631.6 661.4 629.9 662.1 628.2C662.9 626.5 663.7 624.4 664.7 622.4C665.7 620.4 667 618.1 668.3 616.3C669.6 614.5 671 613.1 672.3 611.7C673.5 610.3 674.9 608.1 675.8 607.9C676.7 607.6 677.2 608.5 677.7 610.4C678.1 612.3 678.4 616.2 678.7 619.3C679 622.5 679.4 626.9 679.3 629.4C679.3 631.9 680.2 633.7 678.4 634.5C676.7 635.3 672.1 634.3 669 634C666 633.7 661.4 633.5 660.3 632.5Z" stroke="#ffc000" stroke-width="1.0" fill="none"/><path d="M663.7 631C662.9 630.2 664.5 629 665 627.7C665.6 626.4 666.1 624.8 666.9 623.2C667.7 621.6 668.7 619.7 669.7 618.3C670.7 616.9 671.9 615.8 672.9 614.7C673.8 613.7 674.9 612.1 675.6 612C676.3 611.8 676.7 612.5 677.1 613.8C677.5 615.2 677.8 617.8 678.1 620.4C678.4 622.9 678.9 626.9 678.8 629C678.8 631.2 679.3 632.5 677.9 633.1C676.4 633.7 672.5 632.9 670.2 632.5C667.8 632.2 664.6 631.8 663.7 631Z" stroke="#ffb400" stroke-width="1.0" fill="none"/><path d="M666.7 629.7C666.1 629.1 667.2 628.3 667.6 627.3C667.9 626.4 668.3 625.1 668.8 623.9C669.4 622.7 670.1 621.2 670.9 620.1C671.7 619 672.6 618.2 673.4 617.5C674.1 616.7 674.9 615.7 675.4 615.6C676 615.5 676.2 615.9 676.6 616.9C676.9 617.8 677.3 619.4 677.6 621.4C677.8 623.4 678.3 626.9 678.3 628.6C678.2 630.3 678.5 631.3 677.3 631.8C676.1 632.2 672.9 631.5 671.2 631.2C669.4 630.8 667.3 630.4 666.7 629.7Z" stroke="#ffa800" stroke-width="1.0" fill="none"/><path d="M669.3 628.6C668.9 628.2 669.6 627.7 669.8 627C670 626.3 670.2 625.4 670.5 624.6C670.9 623.7 671.5 622.5 672 621.7C672.5 620.9 673.3 620.4 673.8 619.9C674.4 619.4 674.9 618.8 675.3 618.7C675.7 618.6 675.8 618.9 676.1 619.5C676.4 620.1 676.8 621 677 622.4C677.3 623.9 677.7 626.8 677.6 628.1C677.6 629.5 677.7 630.2 676.8 630.5C675.9 630.8 673.4 630.2 672.1 629.9C670.9 629.6 669.7 629.1 669.3 628.6Z" stroke="#ff9c00" stroke-width="1.0" fill="none"/><path d="M671.4 627.7C671.2 627.4 671.5 627.1 671.6 626.7C671.7 626.3 671.8 625.7 672 625.1C672.3 624.5 672.6 623.7 673 623.2C673.3 622.7 673.8 622.3 674.2 622C674.6 621.7 674.9 621.4 675.2 621.4C675.5 621.3 675.5 621.4 675.7 621.8C675.9 622.1 676.2 622.5 676.4 623.5C676.6 624.5 677 626.7 676.9 627.6C676.9 628.6 676.9 629 676.3 629.2C675.6 629.4 673.8 629 673 628.8C672.2 628.5 671.6 628.1 671.4 627.7Z" stroke="#ff9000" stroke-width="1.0" fill="none"/><path d="M673.1 627C673 626.8 673.1 626.7 673.2 626.5C673.2 626.2 673.2 625.9 673.4 625.6C673.5 625.2 673.7 624.8 673.9 624.5C674.1 624.2 674.4 624 674.6 623.8C674.8 623.7 675 623.6 675.1 623.6C675.2 623.6 675.3 623.6 675.4 623.8C675.5 623.9 675.7 624 675.9 624.6C676 625.1 676.2 626.5 676.2 627.1C676.2 627.6 676.1 627.9 675.7 628C675.4 628.1 674.3 627.8 673.9 627.7C673.4 627.5 673.2 627.2 673.1 627Z" stroke="#ff8800" stroke-width="1.0" fill="none"/><path d="M400.5 616.7 A3.5 3.5 0 0 1 400.5 623.7" stroke="#c4f000" stroke-width="1.2" fill="none" stroke-dasharray="3.2 1.7"/><path d="M400.5 614.4 A5.8 5.8 0 0 1 400.5 626" stroke="#c4f000" stroke-width="1.2" fill="none" stroke-dasharray="3.2 1.7"/><path d="M400.5 612.1 A8.1 8.1 0 0 1 400.5 628.3" stroke="#c4f000" stroke-width="1.2" fill="none" stroke-dasharray="3.2 1.7"/><path d="M400.5 609.8 A10.4 10.4 0 0 1 400.5 630.6" stroke="#d4f000" stroke-width="1.2" fill="none" stroke-dasharray="3.2 1.7"/><path d="M400.5 607.6 A12.6 12.6 0 0 1 400.5 632.8" stroke="#d4f000" stroke-width="1.2" fill="none" stroke-dasharray="3.2 1.7"/><defs><linearGradient id="gbLd3" x1="0" y1="385.2" x2="0" y2="640" gradientUnits="userSpaceOnUse"><stop offset="0.02" stop-color="#ffe000"/><stop offset="0.18" stop-color="#ffc400"/><stop offset="0.36" stop-color="#ffa000"/><stop offset="0.52" stop-color="#ff8000"/><stop offset="0.7" stop-color="#ff8a00"/><stop offset="0.82" stop-color="#ffc000"/><stop offset="0.9" stop-color="#ffe000"/><stop offset="0.97" stop-color="#d8f000"/></linearGradient></defs><path d="M399 385.2 L401.5 385.2 L403 408.9 L405 448.4 L406.5 487.9 L407 527.4 L406.2 566.9 L404.5 596.5 L402.5 621.2 L401.5 640 L399 640 Z" fill="url(#gbLd3)"/></g><g clip-path="url(#c5)"><g fill="none" stroke-width="1.3" stroke-dasharray="6.2 5.6"><path d="M649.9 764.3C646.6 765.3 637.6 769 630.3 770.6C623 772.2 613.7 773.1 606.1 774.1C598.5 775.1 591.6 775.4 584.7 776.8C577.9 778.1 570 780.1 565 782.2C560.1 784.3 556.7 786.3 555 789.3C553.2 792.3 553.4 795.2 554.4 800C555.4 804.8 558.2 811.9 561 817.8C563.7 823.7 567.5 829.7 570.8 835.6C574.1 841.5 578.2 848.3 580.7 853.4C583.3 858.5 584.3 861.5 586 866.1C587.8 870.7 589.4 875.8 591.4 881.1C593.5 886.4 595.9 892.6 598.3 898.1C600.6 903.6 603.1 908.9 605.4 914.1C607.7 919.3 609.8 924.1 611.8 929.1C613.8 934.1 615.4 939.3 617.4 944.1C619.5 948.9 621.7 953.8 624.1 958.1C626.6 962.4 630.7 968.1 632 970.1" stroke="#eef000"/><path d="M653.8 771.5C651.5 772.4 645.3 774.7 640.1 776.8C634.9 778.9 628.8 781.5 622.7 783.9C616.5 786.3 608.6 788.4 603.1 791.1C597.7 793.8 592.9 796.7 590.1 800C587.3 803.3 586.5 806.6 586.2 810.7C585.8 814.9 586.8 819.6 588 824.9C589.1 830.2 591.4 835.8 593.2 842.7C595 849.6 597 859.7 598.9 866.1C600.7 872.5 602.4 876.1 604.3 881.1C606.3 886.1 608.5 891.1 610.6 896.1C612.7 901.1 614.8 906.1 617 911.1C619.1 916.1 621.3 921.3 623.5 926.1C625.7 930.9 628 935.8 630.2 940.1C632.5 944.4 635.9 950.1 637 952.1" stroke="#e4f000"/><path d="M656.7 780.4C654.9 781.6 650.4 785.1 646.1 787.5C641.9 789.9 636 792.2 631.1 794.6C626.2 797 620.5 799 616.5 801.7C612.6 804.4 609.4 807.4 607.5 810.7C605.6 814 605.4 817.1 605.1 821.3C604.8 825.4 605.1 830.2 605.6 835.6C606.1 841 607.3 848.3 608.1 853.4C608.9 858.5 609.3 861.5 610.4 866.1C611.5 870.7 613 876.1 614.7 881.1C616.3 886.1 618.1 891.1 620.1 896.1C622.1 901.1 624.4 906.4 626.6 911.1C628.8 915.8 631 919.9 633.2 924.1C635.5 928.3 638.9 934.1 640 936.1" stroke="#dcf200"/><path d="M658.8 787.5C657.4 789.3 654 794.9 650.4 798.2C646.9 801.5 641.4 804.7 637.4 807.1C633.4 809.5 629.5 810 626.7 812.4C624 814.8 622.2 817.4 621 821.3C619.8 825.2 619.8 830.2 619.7 835.6C619.6 841 620.1 848.3 620.5 853.4C620.9 858.5 621.2 861.5 622 866.1C622.7 870.7 623.7 876.1 625 881.1C626.2 886.1 627.9 891.1 629.6 896.1C631.3 901.1 633.3 906.6 635.2 911.1C637.1 915.6 640 921.1 641 923.1" stroke="#d4f400"/><path d="M660.9 794.6C659.9 796.7 657.5 803.2 654.6 807.1C651.7 811 646.9 814.5 643.6 817.8C640.3 821.1 636.8 823.2 634.9 826.7C632.9 830.2 632.6 834.1 632.1 839.1C631.5 844.1 631.6 852.5 631.6 857C631.5 861.5 631.4 862.1 631.8 866.1C632.3 870.1 633.3 876.1 634.4 881.1C635.4 886.1 636.7 891.6 638.1 896.1C639.5 900.6 642.2 906.1 643 908.1" stroke="#ccf600"/><path d="M663 803.5C662 805.9 659 813.6 656.8 817.8C654.6 822 651.6 825 649.6 828.5C647.6 832 645.7 835 644.5 839.1C643.3 843.2 642.9 848.9 642.4 853.4C642 857.9 641.7 861.5 641.9 866.1C642.1 870.7 642.7 876.4 643.5 881.1C644.3 885.8 646 891.9 646.5 894.1" stroke="#c4f800"/><path d="M664.2 812.4C663.6 814.8 662.1 822.2 660.7 826.7C659.3 831.2 656.9 834.6 655.5 839.1C654.1 843.6 653.1 848.1 652.3 853.4C651.5 858.7 650.9 866.4 650.8 871C650.7 875.6 651.4 879.4 651.5 881.1" stroke="#b8fa00"/><path d="M665.1 766.1C665.1 772.8 665 792.8 665 806.1C665 819.4 665.2 833.6 665.2 846.1C665.2 858.6 665 875.3 665 881.1" stroke="#a8fc00"/></g><g stroke-width="1.1" fill="none" stroke-linecap="round"><path d="M634.2 947.9l0.9 -3.2" stroke="#d4ee00"/><path d="M656.8 987.1l2.4 -2.6" stroke="#d4ee00"/><path d="M626.7 998.5l0.6 -3.7" stroke="#d4ee00"/><path d="M656.8 950.4l3.2 -2" stroke="#d4ee00"/><path d="M616.9 976.8l3.1 1.7" stroke="#b8f400"/><path d="M625.9 955.9l1 4" stroke="#d4ee00"/><path d="M651.5 958l2 2.1" stroke="#a8f800"/><path d="M645.5 965.6l1.6 -2.6" stroke="#c8f000"/><path d="M616.5 967.7l0.3 3.5" stroke="#a8f800"/><path d="M651.2 947.3l2.3 1.3" stroke="#b8f400"/><path d="M647.6 966.3l2 -2.7" stroke="#d4ee00"/><path d="M647.5 950.7l3.6 -2.1" stroke="#b8f400"/><path d="M627.5 975.3l1.3 2.4" stroke="#b8f400"/><path d="M649.8 959l2.7 -1.6" stroke="#b8f400"/><path d="M655.4 964.3l0.9 3.6" stroke="#c8f000"/><path d="M628.4 950.2l2.7 -0.5" stroke="#a8f800"/><path d="M645.5 948.2l3.1 0.7" stroke="#a8f800"/><path d="M621.5 988.3l2.8 -1.2" stroke="#c8f000"/><path d="M636.6 951.3l0.9 2.6" stroke="#c8f000"/><path d="M649.9 947.6l0.7 -3.4" stroke="#b8f400"/><path d="M658.8 956.8l0.3 3.8" stroke="#b8f400"/><path d="M638.8 953.5l2.5 -0.7" stroke="#a8f800"/><path d="M636.8 979.5l2.9 -0.6" stroke="#b8f400"/><path d="M625.6 951.3l2.9 -3.1" stroke="#b8f400"/><path d="M630.2 995.2l2.3 -1.4" stroke="#a8f800"/><path d="M614.3 962.8l4.3 -0.9" stroke="#b8f400"/><path d="M630.8 980.1l2.4 3" stroke="#a8f800"/><path d="M641.6 980l2.6 1.6" stroke="#a8f800"/><path d="M647.6 974.5l3.2 2.9" stroke="#b8f400"/><path d="M656.7 951.5l1.9 -3.2" stroke="#d4ee00"/><path d="M618.5 989.9l2.8 3.2" stroke="#c8f000"/><path d="M649.6 959.2l1.6 3.7" stroke="#a8f800"/><path d="M663.3 966.2l1.2 -3.7" stroke="#c8f000"/><path d="M639.4 993.5l2.6 0.9" stroke="#d4ee00"/><path d="M662.7 957l2.4 -1.2" stroke="#a8f800"/><path d="M633.3 988.5l2.5 -1.6" stroke="#a8f800"/><path d="M659.9 963.6l1.3 -4.1" stroke="#d4ee00"/><path d="M640.7 965.8l1.9 3.6" stroke="#c8f000"/><path d="M647.2 998.3l4 1.7" stroke="#a8f800"/><path d="M635.7 989.2l2.3 -3.6" stroke="#b8f400"/><path d="M651.6 958.9l1.4 2.7" stroke="#c8f000"/><path d="M629.5 972.9l3.9 -0.2" stroke="#a8f800"/><path d="M641.5 971.4l3 -0.8" stroke="#b8f400"/><path d="M647.1 981.4l3 1" stroke="#a8f800"/><path d="M655.8 974.4l0.9 3.4" stroke="#a8f800"/><path d="M646.3 966.3l1.9 -3.6" stroke="#d4ee00"/><path d="M667.2 959.8l3.6 -0.7" stroke="#b8f400"/><path d="M628 998.3l2.5 -3.2" stroke="#c8f000"/><path d="M616.3 979.4l1.1 3" stroke="#d4ee00"/><path d="M659.9 819.1l0 2.6" stroke="#c8f400"/><path d="M653.1 905.3l-0.4 3.4" stroke="#c8f400"/><path d="M662.4 871l0.3 3.9" stroke="#c8f400"/><path d="M653.4 948.4l0.1 4.1" stroke="#b0f800"/><path d="M655.6 920.7l0.5 4.8" stroke="#d0f000"/><path d="M662.4 801.1l-0.3 3.1" stroke="#98fc00"/><path d="M664.1 819.1l0 5" stroke="#d0f000"/><path d="M655.8 948.6l-0.3 3.6" stroke="#c8f400"/><path d="M657.5 934.1l-0.1 3.9" stroke="#98fc00"/><path d="M656.4 831.6l0.6 3.8" stroke="#d0f000"/><path d="M663 952.3l0.5 4" stroke="#98fc00"/><path d="M657.8 905.5l0.5 4.1" stroke="#d0f000"/><path d="M653.8 910l-0.4 3.1" stroke="#98fc00"/><path d="M661.2 762.7l-0.6 4" stroke="#98fc00"/><path d="M665.8 802.7l-0.5 3" stroke="#98fc00"/><path d="M667.4 807.8l0.3 4.1" stroke="#b0f800"/><path d="M663.4 885.3l0.1 4.7" stroke="#c8f400"/><path d="M660.7 893l-0.4 3.9" stroke="#d0f000"/><path d="M657.8 923.4l-0.4 2.7" stroke="#b0f800"/><path d="M658.2 932.5l0.4 3.8" stroke="#98fc00"/><path d="M661 819.4l-0.3 3.6" stroke="#c8f400"/><path d="M655.6 889.5l-0.4 4.5" stroke="#c8f400"/><path d="M661.9 924.2l-0 3.1" stroke="#c8f400"/><path d="M654.2 898l-0.2 4.6" stroke="#d0f000"/><path d="M662.9 788l0.1 3" stroke="#d0f000"/><path d="M655.7 937l0.1 4.1" stroke="#d0f000"/><path d="M664.2 760.8l0.3 3.1" stroke="#98fc00"/><path d="M666.8 849.5l0.5 4.5" stroke="#c8f400"/><path d="M662.6 933.2l0.1 4.1" stroke="#c8f400"/><path d="M668.8 859.5l-0.4 3.4" stroke="#c8f400"/><path d="M662.7 762l-0.6 4.6" stroke="#b0f800"/><path d="M656 889.5l0.2 4" stroke="#b0f800"/><path d="M668.7 776.8l-0.5 4.6" stroke="#c8f400"/><path d="M659.6 798.8l-0.6 4.9" stroke="#c8f400"/><path d="M654.6 893.8l0.4 3.1" stroke="#98fc00"/><path d="M661 813.3l-0.4 4" stroke="#c8f400"/><path d="M656.8 852.7l0.1 3.8" stroke="#98fc00"/><path d="M658.7 810.3l-0.4 4.3" stroke="#98fc00"/><path d="M667.5 756.9l-0.2 4.8" stroke="#98fc00"/><path d="M663.4 936.3l-0.2 4.8" stroke="#d0f000"/><path d="M659.3 878.2l-0.1 3.8" stroke="#c8f400"/><path d="M664.8 876l-0.5 4.1" stroke="#98fc00"/><path d="M654 952l0.5 2.7" stroke="#b0f800"/><path d="M658.8 804.4l0.2 4.1" stroke="#c8f400"/><path d="M663.4 754.9l-0.3 3" stroke="#c8f400"/><path d="M653.4 923.2l0.4 4.9" stroke="#98fc00"/><path d="M658 870.5l0.5 4.4" stroke="#b0f800"/><path d="M661.1 903.8l-0.3 4.5" stroke="#b0f800"/><path d="M664.2 872.9l0.6 4.3" stroke="#98fc00"/><path d="M665.8 786l0.5 2.6" stroke="#c8f400"/><path d="M663.7 891.1l0.2 2.6" stroke="#98fc00"/><path d="M662.1 887.9l0.4 2.8" stroke="#b0f800"/><path d="M663.8 832.3l-0.2 3.7" stroke="#98fc00"/><path d="M662.1 903.1l-0.4 4.4" stroke="#c8f400"/><path d="M659.9 825.4l0.5 3.4" stroke="#b0f800"/><path d="M656.6 889.8l0.5 3.8" stroke="#c8f400"/><path d="M660.5 791.7l-0.6 5" stroke="#b0f800"/><path d="M659.9 777l0.5 4.2" stroke="#98fc00"/><path d="M656.5 853.5l-0.4 3.3" stroke="#d0f000"/><path d="M659.4 953.8l-0.1 3.4" stroke="#c8f400"/><path d="M656.4 780.7l-0.3 4.5" stroke="#d0f000"/><path d="M663.8 819.9l-0 2.6" stroke="#c8f400"/><path d="M658.3 949.5l0.1 3" stroke="#b0f800"/><path d="M665.4 874l-0.3 2.6" stroke="#d0f000"/><path d="M664.1 871.2l-0.3 2.8" stroke="#98fc00"/><path d="M658.5 902.4l0.5 3.4" stroke="#98fc00"/><path d="M659.9 921.9l-0.3 3.9" stroke="#98fc00"/><path d="M663 820.8l0.1 3.9" stroke="#98fc00"/><path d="M657.9 925.2l0.5 4.6" stroke="#c8f400"/><path d="M668.8 873.3l0.1 2.9" stroke="#b0f800"/><path d="M666.7 763.6l0.3 4.7" stroke="#c8f400"/><path d="M666.9 762.8l-0.3 2.9" stroke="#b0f800"/><path d="M662.2 764.8l0.2 4.7" stroke="#b0f800"/><path d="M658.4 906.5l0.5 4.4" stroke="#c8f400"/><path d="M661.4 811.3l-0.5 2.5" stroke="#98fc00"/><path d="M657 840.6l-0.3 3.6" stroke="#c8f400"/><path d="M663.5 923.7l0.3 4.5" stroke="#b0f800"/><path d="M653 903.6l0.5 2.7" stroke="#c8f400"/><path d="M662.8 858l0.2 2.7" stroke="#98fc00"/><path d="M662.6 880.3l-0.5 3.9" stroke="#c8f400"/><path d="M657.8 841.2l0 2.8" stroke="#98fc00"/><path d="M653.6 887.3l0.1 4" stroke="#c8f400"/><path d="M656.6 754.3l0.3 3.2" stroke="#d0f000"/><path d="M668.5 872.7l0 2.9" stroke="#98fc00"/><path d="M664.1 803.2l0.6 2.9" stroke="#d0f000"/><path d="M656.3 870.2l-0.3 3.9" stroke="#b0f800"/><path d="M663.5 871.6l0.5 4" stroke="#d0f000"/><path d="M658.1 785.9l0.2 4.9" stroke="#98fc00"/><path d="M664 860.7l-0.2 3.2" stroke="#b0f800"/><path d="M661.6 927.2l-0.4 3.3" stroke="#b0f800"/><path d="M668.9 772.6l-0.5 2.6" stroke="#c8f400"/><path d="M662.5 943.3l-0.3 4.2" stroke="#b0f800"/><path d="M668.6 802.7l0.2 3.5" stroke="#b0f800"/><path d="M657.2 944.4l0.3 3.8" stroke="#98fc00"/><path d="M656.7 772.6l-0.1 2.5" stroke="#b0f800"/><path d="M658.7 901.8l0 4.9" stroke="#98fc00"/><path d="M653.6 930.2l0.3 3.4" stroke="#c8f400"/><path d="M662.4 868.7l0.1 4.8" stroke="#d0f000"/><path d="M658 771.7l0.3 3.6" stroke="#b0f800"/><path d="M657.3 771.8l0.3 2.8" stroke="#d0f000"/><path d="M662.6 906l0.5 3.3" stroke="#98fc00"/><path d="M667.9 833l0.5 2.8" stroke="#98fc00"/><path d="M662 950.7l0.6 4.3" stroke="#d0f000"/><path d="M659 827.4l0.5 4.6" stroke="#b0f800"/><path d="M660.4 810.6l0.1 2.6" stroke="#b0f800"/><path d="M654.8 909.5l-0.1 3.8" stroke="#d0f000"/><path d="M664.7 860.4l0.4 3.7" stroke="#c8f400"/><path d="M660.6 840.1l-0.4 4.7" stroke="#98fc00"/><path d="M658 820.4l0.3 3.9" stroke="#d0f000"/><path d="M663.6 912.8l-0.2 4.8" stroke="#d0f000"/><path d="M665.8 855.7l0.3 4.5" stroke="#c8f400"/><path d="M655.1 888l0.5 4.1" stroke="#b0f800"/><path d="M667 861.3l-0.4 3.6" stroke="#98fc00"/><path d="M659 753.7l0.4 3.3" stroke="#98fc00"/><path d="M658.9 922.2l0.2 3.2" stroke="#c8f400"/><path d="M657.4 760.5l-0.3 4.3" stroke="#b0f800"/><path d="M652.8 914.1l-0.4 4" stroke="#b0f800"/><path d="M658.2 925.3l0 3" stroke="#c8f400"/><path d="M659.4 819.1l0.2 3.5" stroke="#b0f800"/><path d="M656.1 937.7l0.1 4.1" stroke="#c8f400"/><path d="M656.7 806.5l0.5 4.9" stroke="#c8f400"/><path d="M658.7 830.8l0.3 3.1" stroke="#d0f000"/><path d="M668.2 827.2l0.4 4.4" stroke="#c8f400"/><path d="M661.9 899.4l0 4.3" stroke="#d0f000"/><path d="M665.1 828.8l-0.4 2.9" stroke="#c8f400"/><path d="M667.2 845.1l-0.2 3.8" stroke="#d0f000"/><path d="M659.2 867.2l0.1 4.1" stroke="#98fc00"/><path d="M665 807.1l0.3 3.3" stroke="#98fc00"/><path d="M653.4 895.3l0.5 3.8" stroke="#b0f800"/><path d="M660.3 947.1l0.2 3.5" stroke="#b0f800"/><path d="M658.5 876.8l0.4 4.7" stroke="#c8f400"/><path d="M662.6 759.5l-0.3 4.2" stroke="#c8f400"/><path d="M661.2 919.9l0.1 3" stroke="#98fc00"/><path d="M667.8 807.6l-0.2 2.5" stroke="#d0f000"/><path d="M660.8 916.2l0.5 4" stroke="#98fc00"/><path d="M662.2 904l-0.4 3.7" stroke="#b0f800"/><path d="M656 907.3l-0.4 2.6" stroke="#b0f800"/><path d="M668.2 861.8l0.4 3.3" stroke="#b0f800"/><path d="M661.6 869.8l-0.2 4.4" stroke="#98fc00"/><path d="M660.3 937.3l-0 4.4" stroke="#d0f000"/><path d="M657.5 805.7l0.5 4.1" stroke="#d0f000"/><path d="M658 938.5l-0.5 3.7" stroke="#d0f000"/><path d="M663.1 828.8l-0.4 4" stroke="#c8f400"/><path d="M658.3 855.7l-0.6 3.5" stroke="#b0f800"/><path d="M659.1 797.6l-0 3.8" stroke="#b0f800"/><path d="M655.6 888.2l-0.4 3.2" stroke="#d0f000"/><path d="M665.6 883.6l0.3 3.9" stroke="#b0f800"/><path d="M658.4 921.9l-0.4 3.3" stroke="#c8f400"/><path d="M665.5 763.7l-0.3 3.5" stroke="#98fc00"/><path d="M661.2 841.6l-0.4 2.6" stroke="#b0f800"/><path d="M659.3 835.3l0 2.9" stroke="#d0f000"/><path d="M663.3 827.3l-0.4 4.5" stroke="#b0f800"/><path d="M662.7 878.9l-0 4.4" stroke="#c8f400"/><path d="M658.7 895.9l0.1 4.8" stroke="#98fc00"/><path d="M666 793.8l-0 3.6" stroke="#98fc00"/><path d="M663.1 951l0.5 2.6" stroke="#b0f800"/><path d="M661.9 948.5l0.5 3.2" stroke="#d0f000"/><path d="M662.5 918.5l0 4.1" stroke="#98fc00"/><path d="M662.9 933.2l0.4 3.6" stroke="#c8f400"/><path d="M659.4 804.3l-0.1 3.4" stroke="#b0f800"/><path d="M657.3 806.7l-0 3.9" stroke="#c8f400"/><path d="M661.3 874.3l-0.1 4.3" stroke="#d0f000"/><path d="M664.2 847.5l0.2 3.9" stroke="#b0f800"/><path d="M658.3 849.3l0.2 4.6" stroke="#98fc00"/><path d="M664.9 767.5l-0.2 4" stroke="#b0f800"/><path d="M660.3 887.4l-0.3 4.8" stroke="#d0f000"/><path d="M662.8 847.7l-0.2 2.7" stroke="#d0f000"/><path d="M656.2 924l0.1 3.1" stroke="#98fc00"/><path d="M663.3 952.8l-0.3 3.6" stroke="#d0f000"/><path d="M658.2 837.1l0.4 4.3" stroke="#b0f800"/></g><defs><linearGradient id="gRf4" x1="0" y1="0" x2="1" y2="0"><stop offset="0" stop-color="#70ff00"/><stop offset="0.3" stop-color="#30f800"/><stop offset="0.55" stop-color="#00f030"/><stop offset="0.75" stop-color="#00e880"/><stop offset="1" stop-color="#00e060"/></linearGradient><linearGradient id="gCf4" x1="0" y1="0" x2="0" y2="1"><stop offset="0" stop-color="#0030ff"/><stop offset="0.45" stop-color="#0060ff"/><stop offset="0.75" stop-color="#00b0ff"/><stop offset="1" stop-color="#00f0ff"/></linearGradient></defs><path d="M670.4 751.8C670.4 758.9 670.2 779.3 670.1 794.6C670 809.9 670.1 832.6 669.6 843.5C669.1 854.4 667.9 855 667.2 860.1C666.5 865.2 665.1 871.9 665.6 874.1C666.1 876.4 668.7 875.4 670.1 873.6C671.5 871.8 672.1 867.1 673.8 863.1C675.5 859.1 679.2 851.9 680.5 849.7C681.8 847.5 681.3 866 681.5 849.7C681.7 833.4 681.5 768.1 681.5 751.8Z" fill="url(#gRf4)" opacity="0.92"/><path d="M667.2 752.8C667.2 765.3 669.5 800.9 666.9 827.9C664.3 854.8 654.5 893.6 651.5 914.8C648.5 936 649.8 946 649.1 955.1C648.4 964.2 647 966.9 647.5 969.1C648 971.4 649 971.1 652 968.6C655 966.1 660.9 959.4 665.6 953.8C670.4 948.2 678 938.2 680.5 935.1" stroke="#a8f400" stroke-width="1.25" fill="none"/><path d="M667.6 752.8C667.6 765 669.6 799.7 667.3 826.1C665 852.5 656.4 890.4 653.8 911C651.1 931.7 652.1 941.3 651.4 950.1C650.7 958.9 649.3 961.9 649.8 964.1C650.3 966.4 651.5 966.1 654.3 963.6C657.1 961.1 662.3 954.7 666.7 949.3C671.1 944 678.2 934.3 680.5 931.3" stroke="#90f600" stroke-width="1.25" fill="none"/><path d="M668 752.8C668 764.6 669.6 798.2 667.7 823.7C665.8 849.1 658.7 885.9 656.4 905.8C654.1 925.7 654.7 934.5 654 943.1C653.3 951.7 651.9 954.9 652.4 957.1C652.9 959.4 654.3 959 656.9 956.6C659.5 954.2 663.9 948.1 667.9 942.9C671.8 937.7 678.4 928.4 680.5 925.5" stroke="#70f600" stroke-width="1.25" fill="none"/><path d="M668.4 752.8C668.4 764.1 669.7 796.1 668.1 820.5C666.5 844.9 660.9 880.1 659 899C657.1 918 657.3 925.9 656.6 934.1C655.9 942.3 654.5 945.9 655 948.1C655.5 950.4 657.2 949.9 659.5 947.6C661.8 945.3 665.5 939.4 669 934.4C672.5 929.4 678.6 920.5 680.5 917.7" stroke="#48f200" stroke-width="1.25" fill="none"/><path d="M668.8 752.8C668.8 763.4 669.8 793.7 668.5 816.7C667.2 839.6 662.6 873 661 890.8C659.4 908.5 659.3 915.4 658.6 923.1C657.9 930.8 656.5 934.9 657 937.1C657.5 939.4 659.3 938.8 661.5 936.6C663.7 934.4 666.8 928.7 669.9 924C673.1 919.2 678.7 910.6 680.5 907.9" stroke="#20ee00" stroke-width="1.25" fill="none"/><path d="M669.2 752.8C669.2 762.7 669.9 790.7 668.9 812.1C667.9 833.5 664.4 864.7 663 881C661.6 897.4 661.3 902.9 660.6 910.1C659.9 917.3 658.5 921.9 659 924.1C659.5 926.4 661.5 925.7 663.5 923.6C665.5 921.5 668 916.1 670.8 911.5C673.7 906.9 678.9 898.7 680.5 896.1" stroke="#00ea10" stroke-width="1.25" fill="none"/><path d="M669.6 752.8C669.6 761.8 670.1 787.5 669.3 807C668.5 826.6 666.1 855.4 665 870.1C663.9 884.9 663.3 889 662.6 895.6C661.9 902.2 660.5 907.4 661 909.6C661.5 911.9 663.7 911.1 665.5 909.1C667.3 907.1 669.2 901.9 671.7 897.5C674.2 893.2 679 885.3 680.5 882.8" stroke="#00e830" stroke-width="1.25" fill="none"/><path d="M670 752.8C670 760.8 670.2 783.5 669.7 800.9C669.2 818.3 667.9 844.2 667 857C666.1 869.9 665.3 872.3 664.6 878.1C663.9 883.9 662.5 889.9 663 892.1C663.5 894.4 665.9 893.5 667.5 891.6C669.1 889.7 670.5 884.8 672.6 880.6C674.8 876.4 679.2 868.8 680.5 866.5" stroke="#00e850" stroke-width="1.25" fill="none"/><path d="M670.4 752.8C670.4 759.8 670.2 779.5 670.1 794.6C670 809.7 670.1 832.6 669.6 843.5C669.1 854.4 667.9 855 667.2 860.1C666.5 865.2 665.1 871.9 665.6 874.1C666.1 876.4 668.7 875.4 670.1 873.6C671.5 871.8 672.1 867.1 673.8 863.1C675.5 859.1 679.4 851.9 680.5 849.7" stroke="#00e860" stroke-width="1.25" fill="none"/><path d="M670.8 752.8C670.8 758.7 670.6 775.4 670.5 788.3C670.5 801.2 670.8 821.1 670.5 830C670.2 839 669.2 837.8 668.6 842.1C668 846.4 666.5 853.9 667 856.1C667.5 858.4 670.3 857.3 671.5 855.6C672.7 853.9 672.9 849.4 674.4 845.7C675.9 841.9 679.5 835 680.5 832.9" stroke="#00e870" stroke-width="1.25" fill="none"/><path d="M674.6 760.2 C674.6 755.2 679.9 755.2 679.9 760.2 L679.6 854 C679.3 883.6 677.3 907.2 677.3 915.2 C677.3 907.2 674.9 883.6 674.6 854 Z" fill="#00f4ff"/><path d="M675.5 762.2 C675.5 758.4 678.9 758.4 678.9 762.2 L678.6 834.3 C678.4 854 677.4 870.1 677.3 876.1 C677.2 870.1 676.0 854 675.8 834.3 Z" fill="url(#gCf4)"/><path d="M410.3 867.5C410.9 868.2 411.3 873 411.5 876.1C411.7 879.2 411.8 881.9 411.7 886.1C411.6 890.3 411.6 896.8 411.2 901.1C410.8 905.4 410.2 909.4 409.5 912.1C408.8 914.9 407.6 917.8 407 917.6C406.4 917.4 406.2 914.7 406 911.1C405.8 907.5 405.7 901.1 405.8 896.1C405.9 891.1 406.1 885.1 406.5 881.1C406.9 877.1 407.4 874.4 408 872.1C408.6 869.8 409.7 866.8 410.3 867.5Z" stroke="#ff4818" stroke-width="1.3" fill="none"/><path d="M411.4 845.9C412.4 845.6 412.6 850.7 413 854.1C413.4 857.5 413.7 860.8 414 866.1C414.3 871.4 414.6 880.3 414.6 886.1C414.6 891.9 414.6 896.4 414.2 901.1C413.8 905.8 413.4 910.3 412.5 914.1C411.6 917.9 410.1 921.6 409 924.1C407.9 926.6 406.5 929.8 405.8 929.3C405.1 928.8 405 926.6 404.8 921.1C404.6 915.6 404.7 904.4 404.8 896.1C404.9 887.8 404.8 877.8 405.2 871.1C405.6 864.4 406 860.3 407 856.1C408 851.9 410.4 846.2 411.4 845.9Z" stroke="#ff5a1c" stroke-width="1.3" fill="none"/><path d="M413.8 830.7C415.2 830.7 415.6 834.7 416.2 838.1C416.8 841.5 417 846.4 417.2 851.1C417.4 855.8 417.4 860.3 417.5 866.1C417.6 871.9 417.6 879.4 417.5 886.1C417.4 892.8 417.5 900.3 417 906.1C416.5 911.9 415.8 916.9 414.5 921.1C413.2 925.3 411.1 928.6 409.5 931.1C407.9 933.6 405.6 937.1 404.7 936.3C403.8 935.5 404.3 934.5 404.2 926.1C404.1 917.7 403.9 897.8 404 886.1C404.1 874.4 403.9 864.1 404.5 856.1C405.1 848.1 405.9 842.3 407.5 838.1C409.1 833.9 412.4 830.7 413.8 830.7Z" stroke="#ff6420" stroke-width="1.3" fill="none"/><path d="M416.1 816.7C417.4 817.2 418.3 819.9 419 823.1C419.7 826.3 420.2 831.4 420.5 836.1C420.8 840.8 420.9 846.1 421 851.1C421.1 856.1 421.1 860.3 421 866.1C420.9 871.9 420.6 879.4 420.4 886.1C420.2 892.8 420.4 899.9 420 906.1C419.6 912.3 419.4 918.3 418.3 923.1C417.2 927.9 415.3 932.2 413.6 935.1C411.9 938 409.5 939.4 408 940.6C406.5 941.8 405.3 946.2 404.7 942.1C404.1 938 404.4 925.4 404.4 916.1C404.4 906.8 404.5 895.3 404.7 886.1C404.9 876.9 405 868.6 405.3 861.1C405.6 853.6 406 846.6 406.5 841.1C407 835.6 407.7 831.6 408.5 828.1C409.3 824.6 410.2 822 411.5 820.1C412.8 818.2 414.9 816.2 416.1 816.7Z" stroke="#ff6c20" stroke-width="1.3" fill="none"/><path d="M418.4 804.4C419.9 804.9 421.1 807.3 422 810.1C422.9 812.9 423.2 816.8 423.5 821.1C423.8 825.4 423.9 831.1 424 836.1C424.1 841.1 424 846.1 424 851.1C424 856.1 423.9 860.3 423.9 866.1C423.9 871.9 423.9 879.4 423.9 886.1C423.8 892.8 423.8 899.8 423.6 906.1C423.4 912.4 423.3 918.7 422.5 924.1C421.7 929.5 420.9 935.1 418.7 938.7C416.5 942.3 411.7 944.2 409.3 945.7C406.9 947.2 404.9 951.3 404.1 948C403.3 944.7 404.2 936.4 404.3 926.1C404.4 915.8 404.6 897.8 404.8 886.1C405 874.4 405.2 864.1 405.5 856.1C405.8 848.1 406.1 843.4 406.5 838.1C406.9 832.8 407.4 828.1 408 824.1C408.6 820.1 409.2 816.9 410 814.1C410.8 811.3 411.6 808.7 413 807.1C414.4 805.5 416.9 803.9 418.4 804.4Z" stroke="#ff7420" stroke-width="1.3" fill="none"/><path d="M421.4 792.7C422.8 792.5 422.8 792.7 423.5 794.1C424.2 795.5 425 797.4 425.5 801.1C426 804.8 426.2 810.3 426.5 816.1C426.8 821.9 426.9 829.4 427 836.1C427.1 842.8 427.1 847.8 427.2 856.1C427.3 864.4 427.4 877.8 427.4 886.1C427.4 894.4 427.4 898.3 427.4 906.1C427.4 913.9 428.1 926.6 427.4 932.8C426.7 939 425.6 940.6 423.4 943.3C421.2 946 417.2 947.6 414 949.2C410.8 950.8 405.7 955.7 404.1 952.7C402.5 949.7 404.1 940.5 404.2 931.1C404.3 921.7 404.4 906.9 404.6 896.1C404.8 885.3 405 874.8 405.3 866.1C405.6 857.4 405.9 850.8 406.3 844.1C406.7 837.4 407.1 831.4 407.6 826.1C408.1 820.8 408.7 816.1 409.3 812.1C409.9 808.1 410.6 804.9 411.5 802.1C412.4 799.3 413.4 796.7 415 795.1C416.6 793.5 420 792.9 421.4 792.7Z" stroke="#ff7c20" stroke-width="1.3" fill="none"/><path d="M422.5 782.6C423.9 782.6 424.1 782.9 425 784.1C425.9 785.4 427.2 786.4 428 790.1C428.8 793.8 429.5 800.1 430 806.1C430.5 812.1 430.6 818.8 430.8 826.1C431 833.4 431 840.1 431 850.1C431 860.1 430.9 876.8 430.9 886.1C430.9 895.4 430.8 897.9 430.9 906.1C431 914.3 432 928.5 431.5 935.1C431 941.7 429.8 943.1 428 945.6C426.2 948.1 424.1 948.9 421 950.3C417.9 951.7 412.1 952.9 409.3 953.8C406.5 954.7 405 957.7 404.1 955.6C403.2 953.5 404 949.4 404.1 941.1C404.2 932.9 404.3 917.8 404.5 906.1C404.7 894.4 404.9 881.1 405.1 871.1C405.4 861.1 405.6 853.3 406 846.1C406.4 838.9 406.8 833.6 407.2 828.1C407.6 822.6 408.1 817.8 408.7 813.1C409.2 808.4 409.8 803.9 410.5 800.1C411.2 796.3 411.8 792.8 412.8 790.1C413.8 787.4 414.9 785.4 416.5 784.1C418.1 782.9 421.1 782.6 422.5 782.6Z" stroke="#ff8420" stroke-width="1.3" fill="none"/><path d="M423.7 774.4C425.2 774.2 425 773.7 426 774.6C427 775.5 428.4 776.7 429.5 779.6C430.6 782.5 431.8 786.9 432.5 792.1C433.2 797.4 433.7 803.8 434 811.1C434.3 818.4 434.2 826.9 434.3 836.1C434.4 845.3 434.4 857.8 434.5 866.1C434.6 874.4 434.9 879.4 435 886.1C435.1 892.8 435 897.3 435 906.1C435 914.9 435.4 931.1 435 938.7C434.6 946.3 434.2 948.9 432.7 951.5C431.1 954.1 428.6 953.7 425.7 954.4C422.8 955.1 418.8 955.1 415.2 955.6C411.6 956.1 405.9 964.2 404.1 957.6C402.3 951 404.2 928.9 404.3 916.1C404.4 903.4 404.6 891.9 404.8 881.1C405 870.3 405.3 859.6 405.6 851.1C405.9 842.6 406.3 836.4 406.7 830.1C407.1 823.8 407.5 818.3 408 813.1C408.5 807.9 409 803.3 409.5 799.1C410 794.9 410.5 791.3 411.2 788.1C411.9 784.9 412.5 782.2 413.5 780.1C414.5 778 415.3 776.5 417 775.6C418.7 774.7 422.2 774.6 423.7 774.4Z" stroke="#ff8e20" stroke-width="1.3" fill="none"/><path d="M423.1 767.6C424.7 767.6 424.6 767.2 426 768.6C427.4 770 430 772.5 431.7 775.8C433.4 779.1 435.2 783.1 436.4 788.6C437.6 794.1 438.2 801.4 438.7 808.5C439.2 815.6 439.1 824.2 439.3 831.1C439.5 838 439.8 844.3 440 850.1C440.2 855.9 440.6 860.1 440.8 866.1C441.1 872.1 441.5 879.4 441.5 886.1C441.5 892.8 441.2 899.4 441 906.1C440.8 912.8 440.7 919.1 440.5 926.1C440.3 933.1 440.4 943.2 439.7 948C439 952.8 437.9 953.7 436.2 955.1C434.4 956.5 431.7 956.4 429.2 956.6C426.7 956.9 423.9 956.4 421 956.6C418.1 956.9 414.4 957.6 411.7 958.1C409 958.6 405.9 961.9 404.7 959.9C403.5 957.9 404.4 955.1 404.3 946.1C404.2 937.1 404.2 919.4 404.3 906.1C404.4 892.8 404.5 877.4 404.7 866.1C404.9 854.8 405.2 846.1 405.5 838.1C405.8 830.1 406.2 824.1 406.6 818.1C407 812.1 407.4 806.9 407.8 802.1C408.2 797.3 408.7 792.9 409.2 789.1C409.7 785.3 410.2 781.9 410.8 779.1C411.4 776.3 412.1 773.9 413 772.1C413.9 770.3 414.8 769.2 416.5 768.4C418.2 767.7 421.5 767.6 423.1 767.6Z" stroke="#ff9820" stroke-width="1.3" fill="none"/><path d="M421.4 761.8C423.6 762.2 427 763.3 429.3 765.3C431.6 767.2 433.4 770.2 435.2 773.5C437 776.8 438.6 780.2 439.9 785.1C441.2 790 442.2 795.9 442.7 802.7C443.2 809.5 442.8 818.2 442.9 826.1C443 834 443.1 843.4 443.5 850.1C443.9 856.8 444.9 860.1 445.5 866.1C446.1 872.1 446.9 878.6 447.2 886.1C447.5 893.6 446.9 901.9 447.2 911.1C447.5 920.3 448.7 933.3 449 941.1C449.3 948.9 449.2 953.5 449 958.1C448.8 962.7 448.9 966.6 447.9 968.6C446.9 970.6 445.3 970.1 443.2 970C441.1 969.9 437.7 968.8 435 967.9C432.3 967 429.8 965.5 426.9 964.4C424 963.3 420.8 961.6 417.5 961.1C414.2 960.6 409.1 960.9 407 961.1C404.9 961.4 405.1 966.8 404.7 962.6C404.2 958.4 404.4 948.9 404.3 936.1C404.2 923.4 404.1 901.1 404.2 886.1C404.2 871.1 404.4 856.9 404.6 846.1C404.8 835.3 405 828.3 405.3 821.1C405.6 813.9 405.9 808.4 406.2 803.1C406.5 797.8 406.9 793.3 407.3 789.1C407.7 784.9 408.1 781.3 408.6 778.1C409.1 774.9 409.6 772.3 410.2 770.1C410.8 767.9 411.5 766.4 412.5 765.1C413.5 763.9 414.5 763.2 416 762.6C417.5 762 419.2 761.3 421.4 761.8Z" stroke="#ffa224" stroke-width="1.3" fill="none"/><path d="M415.5 755.6C419 756.7 419.4 758.2 422.3 759.4C425.2 760.6 429.9 761 432.8 762.9C435.7 764.9 437.5 767.7 439.5 771.1C441.5 774.5 443.5 778.8 445 783.1C446.5 787.4 448 791.6 448.6 796.8C449.3 802 448.9 807.8 448.8 814.3C448.8 820.8 448.1 829.1 448.3 836.1C448.6 843.1 449.7 850.1 450.5 856.1C451.3 862.1 452.2 867.1 453 872.1C453.8 877.1 454.5 880.9 455.1 886.1C455.7 891.4 456 896.8 456.7 903.6C457.3 910.4 458.5 920.2 459 927C459.5 933.8 459.4 938.7 459.6 944.5C459.8 950.3 459.7 957.1 460.1 962C460.5 966.9 461.8 971 461.9 973.7C462 976.4 461.7 977.4 460.7 978.4C459.7 979.4 459.4 979.5 456.1 979.5C452.8 979.5 445.4 979 440.9 978.4C436.4 977.8 432.5 977.4 429.2 976C425.9 974.6 423.9 972 421 970.2C418.1 968.4 414.4 966 411.7 965.1C409 964.2 405.9 971.1 404.7 964.6C403.5 958.1 404.4 939.2 404.3 926.1C404.2 913 404.3 899.4 404.4 886.1C404.5 872.8 404.8 856.9 405 846.1C405.2 835.3 405.5 828.3 405.8 821.1C406.1 813.9 406.5 808.6 406.8 803.1C407.1 797.6 407.5 792.6 407.8 788.1C408.1 783.6 408.5 779.6 408.5 776.1C408.5 772.6 408.3 769.8 408 767.1C407.7 764.4 407.2 762.1 406.5 760.1C405.8 758.1 404.8 756.3 404 755.1C403.2 753.9 399.6 752.8 401.5 752.9C403.4 753 412 754.5 415.5 755.6Z" stroke="#ffac20" stroke-width="1.3" fill="none"/><path d="M401.3 752.7C404.1 752.9 414.9 754.5 420 755.5C425.1 756.5 428.9 757.7 432 759C435.1 760.3 437.1 762 438.5 763.5C439.9 765 439.9 765.5 440.5 768.3C441.1 771 441.7 775.9 442 780C442.3 784.1 442 785.9 442.5 792.9C443 799.9 443.5 813.7 445.1 821.9C446.7 830.1 449.5 835.6 452 842C454.5 848.4 457.1 851.2 460 860C462.9 868.8 466.2 883.3 469.2 895C472.2 906.7 476.3 921.7 478.2 930C480.1 938.3 480.4 939.7 480.4 944.6C480.4 949.5 478.6 953.4 478.2 959.2C477.8 965 479.2 975.2 478.2 979.6C477.2 984 476.7 984.8 472.3 985.5C467.9 986.2 458.9 985.2 451.9 984C444.8 982.8 436.6 979.8 430 978.2C423.4 976.6 415.9 975.3 412 974.5C408.1 973.7 408.1 975.5 406.8 973.3C405.6 971.1 405 970.6 404.5 961.1C404 951.6 404.1 931.9 404 916.1C403.9 900.3 404 880.3 404.1 866.1C404.2 851.9 404.3 841.1 404.5 831.1C404.7 821.1 404.9 813.3 405.2 806.1C405.4 798.9 405.8 793.4 406 788.1C406.2 782.8 406.6 778.1 406.6 774.1C406.7 770.1 406.5 766.8 406.3 764.1C406.1 761.4 405.7 759.7 405.2 758.1C404.7 756.5 403.9 755.5 403.3 754.6C402.7 753.7 398.5 752.6 401.3 752.7Z" stroke="#ffb41c" stroke-width="1.3" fill="none"/><path d="M401.2 752.5C405.8 752.6 423.5 753.8 430 754.5C436.5 755.2 437.6 756 440 757C442.4 758 443.1 755.9 444.1 760.2C445.1 764.5 445.1 775.6 446.1 782.7C447.1 789.9 448.8 796.6 450.2 803.1C451.6 809.6 452.2 815.8 454.3 821.9C456.4 828 459.7 833.6 463 840C466.3 846.4 469.9 850.8 474.3 860C478.7 869.2 484.8 883.3 489.6 895C494.4 906.7 499.6 920.5 503 930C506.4 939.5 509.8 945.8 510.3 951.9C510.8 958 508.1 962.1 505.9 966.5C503.7 970.9 499.4 974.8 497.2 978.2C495 981.6 495.5 985 492.8 986.9C490.1 988.8 486.7 989.6 481.1 989.9C475.5 990.1 467.7 989.1 459.2 988.4C450.7 987.7 437.9 987.1 430 985.5C422.1 983.9 416.2 981.4 412 979C407.8 976.6 406.4 976.6 405 971.1C403.6 965.6 403.8 958.6 403.5 946.1C403.2 933.6 403.3 912.8 403.3 896.1C403.3 879.4 403.3 860.3 403.4 846.1C403.5 831.9 403.6 820.8 403.8 811.1C404 801.4 404.2 794.4 404.3 788.1C404.4 781.8 404.7 777.3 404.7 773.1C404.7 768.9 404.6 765.8 404.5 763.1C404.4 760.4 404.1 758.6 403.8 757.1C403.5 755.6 403 754.9 402.6 754.1C402.2 753.3 396.6 752.4 401.2 752.5Z" stroke="#ffbe18" stroke-width="1.3" fill="none"/><path d="M401.1 752.4C406.6 752.4 427.7 753.1 435 753.5C442.3 753.9 442.8 754.2 445 754.5C447.2 754.8 447.2 752.5 448.2 755.5C449.2 758.5 449.8 766.2 451.2 772.4C452.6 778.6 454.4 786.8 456.3 792.9C458.2 799 460.8 804.4 462.5 809.2C464.2 814.1 463.7 816.9 466.6 822C469.5 827.1 475 833.7 480 840C485 846.3 491.1 850.8 496.8 860C502.5 869.2 509 884.2 514.2 895C519.4 905.8 523.2 915.3 528 924.7C532.8 934.1 537.4 943.6 543.1 951.2C548.8 958.8 555.5 965.1 562.1 970.2C568.8 975.3 577.8 978.3 583 981.6C588.2 984.9 592.1 988.1 593.4 990.1C594.7 992.1 595.2 993.3 590.6 993.9C586 994.5 578.1 994.4 565.9 993.9C553.7 993.4 530.5 990.5 517.6 990.6C504.7 990.7 498.1 993.8 488.4 994.2C478.7 994.6 468.9 993.3 459.2 992.8C449.5 992.3 437.5 992.4 430 991.3C422.5 990.2 418.3 988.2 414 986C409.7 983.8 405.9 983.1 404 978.1C402.1 973.1 403.1 969.8 402.8 956.1C402.6 942.4 402.5 916.1 402.5 896.1C402.5 876.1 402.5 852.8 402.6 836.1C402.7 819.4 402.8 806.1 402.9 796.1C403 786.1 403.1 781.8 403.2 776.1C403.2 770.4 403.3 765.4 403.2 762.1C403.1 758.8 403 757.5 402.8 756.1C402.6 754.7 402.3 754.2 402 753.6C401.7 753 395.6 752.4 401.1 752.4Z" stroke="#ffc814" stroke-width="1.3" fill="none"/><path d="M401 752.3C407.5 751.2 431.8 752.8 440 753.2C448.2 753.6 447.9 754 450 754.5C452.1 755 450.9 753.5 452.3 756.5C453.7 759.5 456.4 767 458.4 772.4C460.4 777.8 462.1 783.7 464.5 788.8C466.9 793.9 469.6 797.6 472.7 803.1C475.8 808.6 478.3 815.9 482.9 822C487.4 828.1 493.4 833.7 500 840C506.6 846.3 516 850.8 522.3 860C528.6 869.2 533.6 884.2 537.7 895C541.8 905.8 542.8 915.7 546.9 924.7C551 933.8 556.7 942 562.1 949.3C567.5 956.6 573.2 962.9 579.2 968.3C585.2 973.7 593.2 977.5 598.2 981.6C603.2 985.7 607.9 990.1 609.5 993C611.1 995.9 614.9 997.8 607.6 998.7C600.3 999.7 578.8 999.1 565.9 998.7C553 998.3 542.9 996.8 530 996.4C517.1 996 505.1 996.8 488.4 996.4C471.7 996 441.7 994.9 430 994.2C418.3 993.6 420.6 994 418 992.5C415.4 991 415.8 987.6 414.5 985C413.2 982.4 411.8 979.1 410 977C408.2 974.9 405.4 974.3 404 972.5C402.6 970.7 402 978.1 401.5 966C401 953.9 401.1 927.7 401 900C400.9 872.3 401 823.3 401 800C401 776.7 401 768 401 760C401 752 394.5 753.4 401 752.3Z" stroke="#ffd40c" stroke-width="1.3" fill="none"/><path d="M401 752.1C407.5 751.1 430.1 753.4 440 754C449.9 754.6 455.3 755.1 460.4 755.7C465.5 756.3 469.7 756.6 470.7 757.7C471.7 758.8 467.3 760.1 466.6 762.2C465.9 764.3 465.9 767 466.6 770.4C467.3 773.8 468.3 778.6 470.7 782.7C473.1 786.8 476.8 790.8 480.9 794.9C485 799 490.1 803.1 495.2 807.2C500.3 811.3 505.7 814.3 511.5 819.4C517.3 824.5 523.8 831.2 530 838C536.2 844.8 543.5 850.5 548.9 860C554.3 869.5 559.1 884.2 562.2 895C565.4 905.8 565.3 916 567.8 924.7C570.3 933.4 573.5 940.8 577.3 947.4C581.1 954 586.2 959.1 590.6 964.5C595 969.9 600.1 975.3 603.9 979.7C607.7 984.1 611.2 987.6 613.3 991.1C615.3 994.6 616.8 998.7 616.2 1000.6C615.7 1002.5 619.4 1002.2 610 1002.5C600.6 1002.8 581.7 1002.5 560 1002.3C538.3 1002.1 501.7 1002 480 1001.5C458.3 1001 440.3 1000.1 430 999.5C419.7 998.9 420.7 999.4 418 998C415.3 996.6 415.2 993.7 414 991C412.8 988.3 412.5 984.5 411 982C409.5 979.5 406.6 977.7 405 976C403.4 974.3 402 974.7 401.3 972C400.6 969.3 400.9 978.7 400.8 960C400.7 941.3 400.8 893.3 400.8 860C400.8 826.7 400.8 778 400.8 760C400.8 742 394.5 753.1 401 752.1Z" stroke="#ffe000" stroke-width="1.3" fill="none"/><path d="M544.2 758.5C540.5 759.1 528.9 760.1 521.7 761.2C514.6 762.3 506.6 763.8 501.3 765.3C496 766.8 492.3 768.5 490.1 770.4C487.9 772.3 487.5 773.8 488 776.5C488.5 779.2 490.2 783.3 493.1 786.7C496 790.1 500.6 793.6 505.4 797C510.2 800.4 516.6 804.1 521.7 807.2C526.8 810.3 532 813 536.1 815.4C540.2 817.8 542.3 817.8 546.3 821.9C550.3 826 556 833.6 560 840C564 846.4 567 850.8 570.4 860C573.8 869.2 577.9 883.6 580.6 895C583.3 906.4 583.9 918.8 586.8 928.5C589.7 938.2 595.1 945.8 598.2 953.1C601.4 960.4 603.2 966.4 605.7 972.1C608.2 977.8 610.9 982.9 613.3 987.3C615.7 991.7 618.5 995.8 620 998.7C621.5 1001.6 625.3 1003.5 622 1004.5C618.7 1005.5 620.3 1004.9 600 1005C579.7 1005.1 528.3 1005.1 500 1005C471.7 1004.9 444 1004.8 430 1004.5C416 1004.2 418.8 1004.8 416 1003.5C413.2 1002.2 414 999.3 413 996.5C412 993.7 411.4 989.5 410 986.5C408.6 983.5 406 980.4 404.5 978.5C403 976.6 401.5 994.8 400.8 975C400.1 955.2 400.5 897.1 400.5 860C400.5 822.9 379 770.2 400.6 752.3C422.2 734.4 506.1 751.5 530 752.4C553.9 753.3 541.8 756.8 544.2 757.8C546.6 758.8 548 757.9 544.2 758.5Z" stroke="#ffea00" stroke-width="1.3" fill="none"/><path d="M645.3 1005.1C642.8 1003.6 648.2 999.5 650 996.2C651.8 992.9 653.8 989 656 985.4C658.2 981.7 660.7 977.8 663 974.5C665.3 971.2 667.8 968.6 670 965.6C672.2 962.6 674.8 957.2 676.5 956.7C678.2 956.2 679.4 958.4 680 962.6C680.6 966.9 680.2 976.8 680.3 982.4C680.3 988 680.3 992.4 680.3 996.2C680.3 1000 682.8 1003.6 680.3 1005.1C677.8 1006.6 670.8 1005.4 665 1005.4C659.2 1005.4 647.8 1006.6 645.3 1005.1Z" stroke="#ffe400" stroke-width="1.0" fill="none"/><path d="M651.5 1002.5C649.5 1001.1 653.6 998.1 654.9 995.4C656.3 992.8 657.8 989.6 659.5 986.6C661.2 983.7 663.2 980.3 665.1 977.6C667 974.9 669.1 972.8 670.9 970.5C672.8 968.2 674.8 964.1 676.2 963.7C677.6 963.4 678.5 965 679.1 968.2C679.7 971.5 679.6 978.7 679.8 983.4C679.9 988 680.2 992.7 680.1 996.1C680.1 999.5 681.9 1002.3 679.6 1003.5C677.4 1004.7 671.2 1003.6 666.5 1003.4C661.8 1003.2 653.4 1003.8 651.5 1002.5Z" stroke="#ffd800" stroke-width="1.0" fill="none"/><path d="M656.2 1000.4C654.7 999.3 657.8 997 658.8 994.8C659.8 992.7 660.9 990.1 662.3 987.6C663.6 985.2 665.2 982.3 666.8 980.1C668.4 977.9 670.1 976.2 671.6 974.4C673.2 972.6 674.9 969.5 676 969.2C677.1 968.9 677.8 970.1 678.3 972.7C678.9 975.2 679 980.5 679.2 984.4C679.5 988.3 679.8 992.9 679.8 995.8C679.7 998.8 681 1001.1 679 1002C677 1003 671.7 1001.9 667.8 1001.7C664 1001.4 657.7 1001.5 656.2 1000.4Z" stroke="#ffcc00" stroke-width="1.0" fill="none"/><path d="M660.3 998.6C659.1 997.7 661.4 996 662.1 994.3C662.9 992.6 663.7 990.5 664.7 988.5C665.7 986.5 667 984.2 668.3 982.4C669.6 980.6 671 979.2 672.3 977.8C673.5 976.4 674.9 974.2 675.8 974C676.7 973.7 677.2 974.6 677.7 976.5C678.1 978.4 678.4 982.3 678.7 985.4C679 988.6 679.4 993 679.3 995.5C679.3 998 680.2 999.8 678.4 1000.6C676.7 1001.4 672.1 1000.4 669 1000.1C666 999.8 661.4 999.6 660.3 998.6Z" stroke="#ffc000" stroke-width="1.0" fill="none"/><path d="M663.7 997.1C662.9 996.3 664.5 995.1 665 993.8C665.6 992.5 666.1 990.9 666.9 989.3C667.7 987.7 668.7 985.8 669.7 984.4C670.7 983 671.9 981.9 672.9 980.8C673.8 979.8 674.9 978.2 675.6 978.1C676.3 977.9 676.7 978.6 677.1 979.9C677.5 981.3 677.8 983.9 678.1 986.5C678.4 989 678.9 993 678.8 995.1C678.8 997.3 679.3 998.6 677.9 999.2C676.4 999.8 672.5 999 670.2 998.6C667.8 998.3 664.6 997.9 663.7 997.1Z" stroke="#ffb400" stroke-width="1.0" fill="none"/><path d="M666.7 995.8C666.1 995.2 667.2 994.4 667.6 993.4C667.9 992.5 668.3 991.2 668.8 990C669.4 988.8 670.1 987.3 670.9 986.2C671.7 985.1 672.6 984.3 673.4 983.6C674.1 982.8 674.9 981.8 675.4 981.7C676 981.6 676.2 982 676.6 983C676.9 983.9 677.3 985.5 677.6 987.5C677.8 989.5 678.3 993 678.3 994.7C678.2 996.4 678.5 997.4 677.3 997.9C676.1 998.3 672.9 997.6 671.2 997.3C669.4 996.9 667.3 996.5 666.7 995.8Z" stroke="#ffa800" stroke-width="1.0" fill="none"/><path d="M669.3 994.7C668.9 994.3 669.6 993.8 669.8 993.1C670 992.4 670.2 991.5 670.5 990.7C670.9 989.8 671.5 988.6 672 987.8C672.5 987 673.3 986.5 673.8 986C674.4 985.5 674.9 984.9 675.3 984.8C675.7 984.7 675.8 985 676.1 985.6C676.4 986.2 676.8 987.1 677 988.5C677.3 990 677.7 992.9 677.6 994.2C677.6 995.6 677.7 996.3 676.8 996.6C675.9 996.9 673.4 996.3 672.1 996C670.9 995.7 669.7 995.2 669.3 994.7Z" stroke="#ff9c00" stroke-width="1.0" fill="none"/><path d="M671.4 993.8C671.2 993.5 671.5 993.2 671.6 992.8C671.7 992.4 671.8 991.8 672 991.2C672.3 990.6 672.6 989.8 673 989.3C673.3 988.8 673.8 988.4 674.2 988.1C674.6 987.8 674.9 987.5 675.2 987.5C675.5 987.4 675.5 987.5 675.7 987.9C675.9 988.2 676.2 988.6 676.4 989.6C676.6 990.6 677 992.8 676.9 993.7C676.9 994.7 676.9 995.1 676.3 995.3C675.6 995.5 673.8 995.1 673 994.9C672.2 994.6 671.6 994.2 671.4 993.8Z" stroke="#ff9000" stroke-width="1.0" fill="none"/><path d="M673.1 993.1C673 992.9 673.1 992.8 673.2 992.6C673.2 992.3 673.2 992 673.4 991.7C673.5 991.3 673.7 990.9 673.9 990.6C674.1 990.3 674.4 990.1 674.6 989.9C674.8 989.8 675 989.7 675.1 989.7C675.2 989.7 675.3 989.7 675.4 989.9C675.5 990 675.7 990.1 675.9 990.7C676 991.2 676.2 992.6 676.2 993.2C676.2 993.7 676.1 994 675.7 994.1C675.4 994.2 674.3 993.9 673.9 993.8C673.4 993.6 673.2 993.3 673.1 993.1Z" stroke="#ff8800" stroke-width="1.0" fill="none"/><path d="M400.5 982.8 A3.5 3.5 0 0 1 400.5 989.8" stroke="#c4f000" stroke-width="1.2" fill="none" stroke-dasharray="3.2 1.7"/><path d="M400.5 980.5 A5.8 5.8 0 0 1 400.5 992.1" stroke="#c4f000" stroke-width="1.2" fill="none" stroke-dasharray="3.2 1.7"/><path d="M400.5 978.2 A8.1 8.1 0 0 1 400.5 994.4" stroke="#c4f000" stroke-width="1.2" fill="none" stroke-dasharray="3.2 1.7"/><path d="M400.5 975.9 A10.4 10.4 0 0 1 400.5 996.7" stroke="#d4f000" stroke-width="1.2" fill="none" stroke-dasharray="3.2 1.7"/><path d="M400.5 973.7 A12.6 12.6 0 0 1 400.5 998.9" stroke="#d4f000" stroke-width="1.2" fill="none" stroke-dasharray="3.2 1.7"/><defs><linearGradient id="gbLf4" x1="0" y1="751.3" x2="0" y2="1006.1" gradientUnits="userSpaceOnUse"><stop offset="0.02" stop-color="#ffe000"/><stop offset="0.18" stop-color="#ffc400"/><stop offset="0.36" stop-color="#ffa000"/><stop offset="0.52" stop-color="#ff8000"/><stop offset="0.7" stop-color="#ff8a00"/><stop offset="0.82" stop-color="#ffc000"/><stop offset="0.9" stop-color="#ffe000"/><stop offset="0.97" stop-color="#d8f000"/></linearGradient></defs><path d="M399 751.3 L401.5 751.3 L403 775 L405 814.5 L406.5 854 L407 893.5 L406.2 933 L404.5 962.6 L402.5 987.3 L401.5 1006.1 L399 1006.1 Z" fill="url(#gbLf4)"/></g>
<path d="M37 274V267.2M37 274H43.8M51.1 274V270.1M37 261.1H40.9M65.2 274V270.1M37 248.2H40.9M79.3 274V270.1M37 235.3H40.9M93.4 274V270.1M37 222.4H40.9M107.5 274V267.2M37 209.4H43.8M121.7 274V270.1M37 196.5H40.9M135.8 274V270.1M37 183.6H40.9M149.9 274V270.1M37 170.7H40.9M164 274V270.1M37 157.8H40.9M178.1 274V267.2M37 144.9H43.8M192.2 274V270.1M37 132H40.9M206.3 274V270.1M37 119.1H40.9M220.4 274V270.1M37 106.2H40.9M234.5 274V270.1M37 93.3H40.9M248.6 274V267.2M37 80.4H43.8M262.8 274V270.1M37 67.4H40.9M276.9 274V270.1M37 54.5H40.9M291 274V270.1M37 41.6H40.9M305.1 274V270.1M37 28.7H40.9M319.2 274V267.2M37 15.8H43.8" stroke="#000" stroke-width="1.7" fill="none"/>
<rect x="37" y="15.8" width="282.2" height="258.2" fill="none" stroke="#000" stroke-width="1.9"/>
<text x="37" y="294.2" text-anchor="middle" class="tk">0</text>
<text x="29.8" y="280.8" text-anchor="end" class="tk">0</text>
<text x="107.5" y="294.2" text-anchor="middle" class="tk">0.5</text>
<text x="29.8" y="216.2" text-anchor="end" class="tk">0.5</text>
<text x="178.1" y="294.2" text-anchor="middle" class="tk">1</text>
<text x="29.8" y="151.7" text-anchor="end" class="tk">1</text>
<text x="248.6" y="294.2" text-anchor="middle" class="tk">1.5</text>
<text x="29.8" y="87.2" text-anchor="end" class="tk">1.5</text>
<text x="319.2" y="294.2" text-anchor="middle" class="tk">2</text>
<text x="29.8" y="22.6" text-anchor="end" class="tk">2</text>
<text x="178.1" y="310.2" text-anchor="middle" class="al">x/L</text>
<text transform="translate(13 144.9) rotate(-90)" text-anchor="middle" class="al">y/L</text>
<text x="48" y="10.6" class="ti" textLength="31" lengthAdjust="spacingAndGlyphs">&lt;u&gt;</text>
<text x="161" y="331.6" text-anchor="middle" class="cp">(a)</text>
<path d="M399 274V267.2M399 274H405.8M413.1 274V270.1M399 261.1H402.9M427.2 274V270.1M399 248.2H402.9M441.3 274V270.1M399 235.3H402.9M455.4 274V270.1M399 222.4H402.9M469.6 274V267.2M399 209.4H405.8M483.7 274V270.1M399 196.5H402.9M497.8 274V270.1M399 183.6H402.9M511.9 274V270.1M399 170.7H402.9M526 274V270.1M399 157.8H402.9M540.1 274V267.2M399 144.9H405.8M554.2 274V270.1M399 132H402.9M568.3 274V270.1M399 119.1H402.9M582.4 274V270.1M399 106.2H402.9M596.5 274V270.1M399 93.3H402.9M610.7 274V267.2M399 80.4H405.8M624.8 274V270.1M399 67.4H402.9M638.9 274V270.1M399 54.5H402.9M653 274V270.1M399 41.6H402.9M667.1 274V270.1M399 28.7H402.9M681.2 274V267.2M399 15.8H405.8" stroke="#000" stroke-width="1.7" fill="none"/>
<rect x="399" y="15.8" width="282.2" height="258.2" fill="none" stroke="#000" stroke-width="1.9"/>
<text x="399" y="294.2" text-anchor="middle" class="tk">0</text>
<text x="391.8" y="280.8" text-anchor="end" class="tk">0</text>
<text x="469.6" y="294.2" text-anchor="middle" class="tk">0.5</text>
<text x="391.8" y="216.2" text-anchor="end" class="tk">0.5</text>
<text x="540.1" y="294.2" text-anchor="middle" class="tk">1</text>
<text x="391.8" y="151.7" text-anchor="end" class="tk">1</text>
<text x="610.7" y="294.2" text-anchor="middle" class="tk">1.5</text>
<text x="391.8" y="87.2" text-anchor="end" class="tk">1.5</text>
<text x="681.2" y="294.2" text-anchor="middle" class="tk">2</text>
<text x="391.8" y="22.6" text-anchor="end" class="tk">2</text>
<text x="540.1" y="310.2" text-anchor="middle" class="al">x/L</text>
<text transform="translate(375 144.9) rotate(-90)" text-anchor="middle" class="al">y/L</text>
<text x="410" y="10.6" class="ti" textLength="31" lengthAdjust="spacingAndGlyphs">&lt;v&gt;</text>
<text x="523" y="331.6" text-anchor="middle" class="cp">(b)</text>
<path d="M37 640V633.2M37 640H43.8M51.1 640V636.1M37 627.3H40.9M65.2 640V636.1M37 614.5H40.9M79.3 640V636.1M37 601.8H40.9M93.4 640V636.1M37 589H40.9M107.5 640V633.2M37 576.3H43.8M121.7 640V636.1M37 563.6H40.9M135.8 640V636.1M37 550.8H40.9M149.9 640V636.1M37 538.1H40.9M164 640V636.1M37 525.3H40.9M178.1 640V633.2M37 512.6H43.8M192.2 640V636.1M37 499.9H40.9M206.3 640V636.1M37 487.1H40.9M220.4 640V636.1M37 474.4H40.9M234.5 640V636.1M37 461.6H40.9M248.6 640V633.2M37 448.9H43.8M262.8 640V636.1M37 436.2H40.9M276.9 640V636.1M37 423.4H40.9M291 640V636.1M37 410.7H40.9M305.1 640V636.1M37 397.9H40.9M319.2 640V633.2M37 385.2H43.8" stroke="#000" stroke-width="1.7" fill="none"/>
<rect x="37" y="385.2" width="282.2" height="254.8" fill="none" stroke="#000" stroke-width="1.9"/>
<text x="37" y="660.2" text-anchor="middle" class="tk">0</text>
<text x="29.8" y="646.8" text-anchor="end" class="tk">0</text>
<text x="107.5" y="660.2" text-anchor="middle" class="tk">0.5</text>
<text x="29.8" y="583.1" text-anchor="end" class="tk">0.5</text>
<text x="178.1" y="660.2" text-anchor="middle" class="tk">1</text>
<text x="29.8" y="519.4" text-anchor="end" class="tk">1</text>
<text x="248.6" y="660.2" text-anchor="middle" class="tk">1.5</text>
<text x="29.8" y="455.7" text-anchor="end" class="tk">1.5</text>
<text x="319.2" y="660.2" text-anchor="middle" class="tk">2</text>
<text x="29.8" y="392" text-anchor="end" class="tk">2</text>
<text x="178.1" y="676.2" text-anchor="middle" class="al">X</text>
<text transform="translate(13 512.6) rotate(-90)" text-anchor="middle" class="al">Y</text>
<text x="48" y="377.3" class="ti" textLength="31" lengthAdjust="spacingAndGlyphs">&lt;u&gt;</text>
<text x="161" y="697.6" text-anchor="middle" class="cp">(c)</text>
<path d="M399 640V633.2M399 640H405.8M413.1 640V636.1M399 627.3H402.9M427.2 640V636.1M399 614.5H402.9M441.3 640V636.1M399 601.8H402.9M455.4 640V636.1M399 589H402.9M469.6 640V633.2M399 576.3H405.8M483.7 640V636.1M399 563.6H402.9M497.8 640V636.1M399 550.8H402.9M511.9 640V636.1M399 538.1H402.9M526 640V636.1M399 525.3H402.9M540.1 640V633.2M399 512.6H405.8M554.2 640V636.1M399 499.9H402.9M568.3 640V636.1M399 487.1H402.9M582.4 640V636.1M399 474.4H402.9M596.5 640V636.1M399 461.6H402.9M610.7 640V633.2M399 448.9H405.8M624.8 640V636.1M399 436.2H402.9M638.9 640V636.1M399 423.4H402.9M653 640V636.1M399 410.7H402.9M667.1 640V636.1M399 397.9H402.9M681.2 640V633.2M399 385.2H405.8" stroke="#000" stroke-width="1.7" fill="none"/>
<rect x="399" y="385.2" width="282.2" height="254.8" fill="none" stroke="#000" stroke-width="1.9"/>
<text x="399" y="660.2" text-anchor="middle" class="tk">0</text>
<text x="391.8" y="646.8" text-anchor="end" class="tk">0</text>
<text x="469.6" y="660.2" text-anchor="middle" class="tk">0.5</text>
<text x="391.8" y="583.1" text-anchor="end" class="tk">0.5</text>
<text x="540.1" y="660.2" text-anchor="middle" class="tk">1</text>
<text x="391.8" y="519.4" text-anchor="end" class="tk">1</text>
<text x="610.7" y="660.2" text-anchor="middle" class="tk">1.5</text>
<text x="391.8" y="455.7" text-anchor="end" class="tk">1.5</text>
<text x="681.2" y="660.2" text-anchor="middle" class="tk">2</text>
<text x="391.8" y="392" text-anchor="end" class="tk">2</text>
<text x="540.1" y="676.2" text-anchor="middle" class="al">X</text>
<text transform="translate(375 512.6) rotate(-90)" text-anchor="middle" class="al">Y</text>
<text x="410" y="377.3" class="ti" textLength="31" lengthAdjust="spacingAndGlyphs">&lt;v&gt;</text>
<text x="523" y="697.6" text-anchor="middle" class="cp">(d)</text>
<path d="M37 1006V999.2M37 1006H43.8M51.1 1006V1002.1M37 993.3H40.9M65.2 1006V1002.1M37 980.5H40.9M79.3 1006V1002.1M37 967.8H40.9M93.4 1006V1002.1M37 955.1H40.9M107.5 1006V999.2M37 942.3H43.8M121.7 1006V1002.1M37 929.6H40.9M135.8 1006V1002.1M37 916.9H40.9M149.9 1006V1002.1M37 904.1H40.9M164 1006V1002.1M37 891.4H40.9M178.1 1006V999.2M37 878.6H43.8M192.2 1006V1002.1M37 865.9H40.9M206.3 1006V1002.1M37 853.2H40.9M220.4 1006V1002.1M37 840.4H40.9M234.5 1006V1002.1M37 827.7H40.9M248.6 1006V999.2M37 815H43.8M262.8 1006V1002.1M37 802.2H40.9M276.9 1006V1002.1M37 789.5H40.9M291 1006V1002.1M37 776.8H40.9M305.1 1006V1002.1M37 764H40.9M319.2 1006V999.2M37 751.3H43.8" stroke="#000" stroke-width="1.7" fill="none"/>
<rect x="37" y="751.3" width="282.2" height="254.7" fill="none" stroke="#000" stroke-width="1.9"/>
<text x="37" y="1026.2" text-anchor="middle" class="tk">0</text>
<text x="29.8" y="1012.8" text-anchor="end" class="tk">0</text>
<text x="107.5" y="1026.2" text-anchor="middle" class="tk">0.5</text>
<text x="29.8" y="949.1" text-anchor="end" class="tk">0.5</text>
<text x="178.1" y="1026.2" text-anchor="middle" class="tk">1</text>
<text x="29.8" y="885.4" text-anchor="end" class="tk">1</text>
<text x="248.6" y="1026.2" text-anchor="middle" class="tk">1.5</text>
<text x="29.8" y="821.8" text-anchor="end" class="tk">1.5</text>
<text x="319.2" y="1026.2" text-anchor="middle" class="tk">2</text>
<text x="29.8" y="758.1" text-anchor="end" class="tk">2</text>
<text x="178.1" y="1042.2" text-anchor="middle" class="al">X</text>
<text transform="translate(13 878.6) rotate(-90)" text-anchor="middle" class="al">Y</text>
<text x="48" y="742.8" class="ti" textLength="31" lengthAdjust="spacingAndGlyphs">&lt;u&gt;</text>
<text x="161" y="1063.6" text-anchor="middle" class="cp">(e)</text>
<path d="M399 1006V999.2M399 1006H405.8M413.1 1006V1002.1M399 993.3H402.9M427.2 1006V1002.1M399 980.5H402.9M441.3 1006V1002.1M399 967.8H402.9M455.4 1006V1002.1M399 955.1H402.9M469.6 1006V999.2M399 942.3H405.8M483.7 1006V1002.1M399 929.6H402.9M497.8 1006V1002.1M399 916.9H402.9M511.9 1006V1002.1M399 904.1H402.9M526 1006V1002.1M399 891.4H402.9M540.1 1006V999.2M399 878.6H405.8M554.2 1006V1002.1M399 865.9H402.9M568.3 1006V1002.1M399 853.2H402.9M582.4 1006V1002.1M399 840.4H402.9M596.5 1006V1002.1M399 827.7H402.9M610.7 1006V999.2M399 815H405.8M624.8 1006V1002.1M399 802.2H402.9M638.9 1006V1002.1M399 789.5H402.9M653 1006V1002.1M399 776.8H402.9M667.1 1006V1002.1M399 764H402.9M681.2 1006V999.2M399 751.3H405.8" stroke="#000" stroke-width="1.7" fill="none"/>
<rect x="399" y="751.3" width="282.2" height="254.7" fill="none" stroke="#000" stroke-width="1.9"/>
<text x="399" y="1026.2" text-anchor="middle" class="tk">0</text>
<text x="391.8" y="1012.8" text-anchor="end" class="tk">0</text>
<text x="469.6" y="1026.2" text-anchor="middle" class="tk">0.5</text>
<text x="391.8" y="949.1" text-anchor="end" class="tk">0.5</text>
<text x="540.1" y="1026.2" text-anchor="middle" class="tk">1</text>
<text x="391.8" y="885.4" text-anchor="end" class="tk">1</text>
<text x="610.7" y="1026.2" text-anchor="middle" class="tk">1.5</text>
<text x="391.8" y="821.8" text-anchor="end" class="tk">1.5</text>
<text x="681.2" y="1026.2" text-anchor="middle" class="tk">2</text>
<text x="391.8" y="758.1" text-anchor="end" class="tk">2</text>
<text x="540.1" y="1042.2" text-anchor="middle" class="al">X</text>
<text transform="translate(375 878.6) rotate(-90)" text-anchor="middle" class="al">Y</text>
<text x="410" y="742.8" class="ti" textLength="31" lengthAdjust="spacingAndGlyphs">&lt;v&gt;</text>
<text x="523" y="1063.6" text-anchor="middle" class="cp">(f)</text>
</svg></body></html>
